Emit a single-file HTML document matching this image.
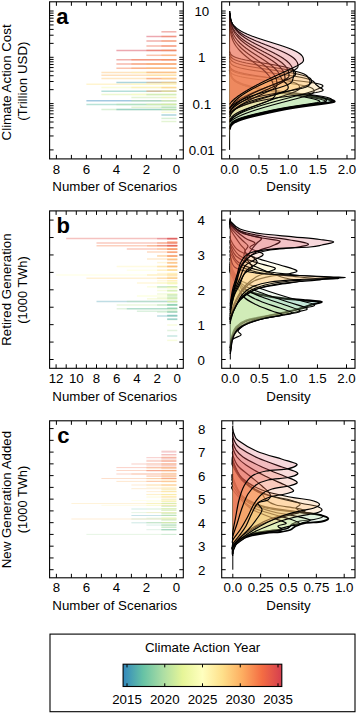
<!DOCTYPE html>
<html><head><meta charset="utf-8"><style>
html,body{margin:0;padding:0;background:#fff;}
svg{display:block;font-family:"Liberation Sans", sans-serif;}
</style></head><body>
<svg width="357" height="714" viewBox="0 0 357 714">
<rect width="357" height="714" fill="#fff"/>
<g id="density">
<line x1="229.60" y1="11.00" x2="229.60" y2="149.90" stroke="#000" stroke-width="1"/>
<path d="M229.60,11.00 L229.8,69.5 L229.9,70.0 L229.9,70.5 L230.0,71.0 L230.0,71.5 L230.1,72.0 L230.2,72.5 L230.3,73.0 L230.4,73.5 L230.5,74.0 L230.6,74.5 L230.8,75.0 L231.0,75.5 L231.2,76.0 L231.4,76.5 L231.7,77.0 L232.0,77.5 L232.4,78.0 L232.8,78.5 L233.2,79.0 L233.7,79.5 L234.3,80.0 L235.0,80.5 L235.7,81.0 L236.5,81.5 L237.4,82.0 L238.4,82.5 L239.4,83.0 L240.6,83.5 L241.9,84.0 L243.3,84.5 L244.9,85.0 L246.6,85.5 L248.4,86.0 L250.3,86.5 L252.4,87.0 L254.7,87.5 L257.1,88.0 L259.6,88.5 L262.3,89.0 L265.1,89.5 L268.0,90.0 L271.1,90.5 L274.3,91.0 L277.6,91.5 L281.0,92.0 L284.5,92.5 L288.0,93.0 L291.6,93.5 L295.3,94.0 L298.9,94.5 L302.5,95.0 L306.1,95.5 L309.6,96.0 L313.0,96.5 L316.3,97.0 L319.4,97.5 L322.4,98.0 L325.1,98.5 L327.6,99.0 L329.8,99.5 L331.6,100.0 L333.1,100.5 L334.1,101.0 L334.6,101.5 L333.5,102.0 L331.2,102.5 L328.3,103.0 L324.9,103.5 L321.2,104.0 L317.4,104.5 L313.6,105.0 L309.7,105.5 L306.0,106.0 L302.4,106.5 L298.9,107.0 L295.7,107.5 L292.5,108.0 L289.6,108.5 L286.7,109.0 L284.0,109.5 L281.5,110.0 L279.0,110.5 L276.6,111.0 L274.2,111.5 L271.9,112.0 L269.6,112.5 L267.3,113.0 L265.1,113.5 L262.9,114.0 L260.7,114.5 L258.5,115.0 L256.4,115.5 L254.3,116.0 L252.2,116.5 L250.3,117.0 L248.3,117.5 L246.5,118.0 L244.8,118.5 L243.1,119.0 L241.6,119.5 L240.1,120.0 L238.8,120.5 L237.6,121.0 L236.5,121.5 L235.5,122.0 L234.6,122.5 L233.8,123.0 L233.1,123.5 L232.5,124.0 L232.0,124.5 L231.5,125.0 L231.1,125.5 L230.8,126.0 L230.6,126.5 L230.4,127.0 L230.2,127.5 L230.1,128.0 L229.9,128.5 L229.9,129.0 L229.8,129.5 L229.60,149.90 Z" fill="#64c0a6" fill-opacity="0.15" stroke="none"/>
<path d="M229.8,69.5 L229.9,70.0 L229.9,70.5 L230.0,71.0 L230.0,71.5 L230.1,72.0 L230.2,72.5 L230.3,73.0 L230.4,73.5 L230.5,74.0 L230.6,74.5 L230.8,75.0 L231.0,75.5 L231.2,76.0 L231.4,76.5 L231.7,77.0 L232.0,77.5 L232.4,78.0 L232.8,78.5 L233.2,79.0 L233.7,79.5 L234.3,80.0 L235.0,80.5 L235.7,81.0 L236.5,81.5 L237.4,82.0 L238.4,82.5 L239.4,83.0 L240.6,83.5 L241.9,84.0 L243.3,84.5 L244.9,85.0 L246.6,85.5 L248.4,86.0 L250.3,86.5 L252.4,87.0 L254.7,87.5 L257.1,88.0 L259.6,88.5 L262.3,89.0 L265.1,89.5 L268.0,90.0 L271.1,90.5 L274.3,91.0 L277.6,91.5 L281.0,92.0 L284.5,92.5 L288.0,93.0 L291.6,93.5 L295.3,94.0 L298.9,94.5 L302.5,95.0 L306.1,95.5 L309.6,96.0 L313.0,96.5 L316.3,97.0 L319.4,97.5 L322.4,98.0 L325.1,98.5 L327.6,99.0 L329.8,99.5 L331.6,100.0 L333.1,100.5 L334.1,101.0 L334.6,101.5 L333.5,102.0 L331.2,102.5 L328.3,103.0 L324.9,103.5 L321.2,104.0 L317.4,104.5 L313.6,105.0 L309.7,105.5 L306.0,106.0 L302.4,106.5 L298.9,107.0 L295.7,107.5 L292.5,108.0 L289.6,108.5 L286.7,109.0 L284.0,109.5 L281.5,110.0 L279.0,110.5 L276.6,111.0 L274.2,111.5 L271.9,112.0 L269.6,112.5 L267.3,113.0 L265.1,113.5 L262.9,114.0 L260.7,114.5 L258.5,115.0 L256.4,115.5 L254.3,116.0 L252.2,116.5 L250.3,117.0 L248.3,117.5 L246.5,118.0 L244.8,118.5 L243.1,119.0 L241.6,119.5 L240.1,120.0 L238.8,120.5 L237.6,121.0 L236.5,121.5 L235.5,122.0 L234.6,122.5 L233.8,123.0 L233.1,123.5 L232.5,124.0 L232.0,124.5 L231.5,125.0 L231.1,125.5 L230.8,126.0 L230.6,126.5 L230.4,127.0 L230.2,127.5 L230.1,128.0 L229.9,128.5 L229.9,129.0 L229.8,129.5" fill="none" stroke="#000" stroke-width="2.0" stroke-linejoin="round"/>
<path d="M229.60,11.00 L229.8,69.5 L229.9,70.0 L229.9,70.5 L229.9,71.0 L230.0,71.5 L230.1,72.0 L230.1,72.5 L230.2,73.0 L230.3,73.5 L230.5,74.0 L230.6,74.5 L230.8,75.0 L230.9,75.5 L231.1,76.0 L231.4,76.5 L231.6,77.0 L232.0,77.5 L232.3,78.0 L232.7,78.5 L233.1,79.0 L233.6,79.5 L234.2,80.0 L234.8,80.5 L235.5,81.0 L236.3,81.5 L237.2,82.0 L238.1,82.5 L239.2,83.0 L240.3,83.5 L241.6,84.0 L243.0,84.5 L244.5,85.0 L246.1,85.5 L247.9,86.0 L249.8,86.5 L251.8,87.0 L254.0,87.5 L256.3,88.0 L258.7,88.5 L261.3,89.0 L264.1,89.5 L266.9,90.0 L269.9,90.5 L273.0,91.0 L276.3,91.5 L279.6,92.0 L282.9,92.5 L286.4,93.0 L289.9,93.5 L293.4,94.0 L297.0,94.5 L300.5,95.0 L304.0,95.5 L307.4,96.0 L310.7,96.5 L313.9,97.0 L316.9,97.5 L319.8,98.0 L322.4,98.5 L324.8,99.0 L327.0,99.5 L328.8,100.0 L330.2,100.5 L331.2,101.0 L331.7,101.5 L330.5,102.0 L328.4,102.5 L325.5,103.0 L322.2,103.5 L318.7,104.0 L314.9,104.5 L311.2,105.0 L307.5,105.5 L303.8,106.0 L300.3,106.5 L296.9,107.0 L293.7,107.5 L290.6,108.0 L287.7,108.5 L284.9,109.0 L282.3,109.5 L279.7,110.0 L277.2,110.5 L274.8,111.0 L272.5,111.5 L270.2,112.0 L267.9,112.5 L265.7,113.0 L263.5,113.5 L261.3,114.0 L259.1,114.5 L257.0,115.0 L254.9,115.5 L252.8,116.0 L250.8,116.5 L248.9,117.0 L247.0,117.5 L245.2,118.0 L243.6,118.5 L242.0,119.0 L240.5,119.5 L239.1,120.0 L237.9,120.5 L236.7,121.0 L235.7,121.5 L234.8,122.0 L234.0,122.5 L233.2,123.0 L232.6,123.5 L232.1,124.0 L231.6,124.5 L231.2,125.0 L230.9,125.5 L230.6,126.0 L230.4,126.5 L230.2,127.0 L230.1,127.5 L230.0,128.0 L229.9,128.5 L229.8,129.0 L229.60,149.90 Z" fill="#80cca5" fill-opacity="0.15" stroke="none"/>
<path d="M229.8,69.5 L229.9,70.0 L229.9,70.5 L229.9,71.0 L230.0,71.5 L230.1,72.0 L230.1,72.5 L230.2,73.0 L230.3,73.5 L230.5,74.0 L230.6,74.5 L230.8,75.0 L230.9,75.5 L231.1,76.0 L231.4,76.5 L231.6,77.0 L232.0,77.5 L232.3,78.0 L232.7,78.5 L233.1,79.0 L233.6,79.5 L234.2,80.0 L234.8,80.5 L235.5,81.0 L236.3,81.5 L237.2,82.0 L238.1,82.5 L239.2,83.0 L240.3,83.5 L241.6,84.0 L243.0,84.5 L244.5,85.0 L246.1,85.5 L247.9,86.0 L249.8,86.5 L251.8,87.0 L254.0,87.5 L256.3,88.0 L258.7,88.5 L261.3,89.0 L264.1,89.5 L266.9,90.0 L269.9,90.5 L273.0,91.0 L276.3,91.5 L279.6,92.0 L282.9,92.5 L286.4,93.0 L289.9,93.5 L293.4,94.0 L297.0,94.5 L300.5,95.0 L304.0,95.5 L307.4,96.0 L310.7,96.5 L313.9,97.0 L316.9,97.5 L319.8,98.0 L322.4,98.5 L324.8,99.0 L327.0,99.5 L328.8,100.0 L330.2,100.5 L331.2,101.0 L331.7,101.5 L330.5,102.0 L328.4,102.5 L325.5,103.0 L322.2,103.5 L318.7,104.0 L314.9,104.5 L311.2,105.0 L307.5,105.5 L303.8,106.0 L300.3,106.5 L296.9,107.0 L293.7,107.5 L290.6,108.0 L287.7,108.5 L284.9,109.0 L282.3,109.5 L279.7,110.0 L277.2,110.5 L274.8,111.0 L272.5,111.5 L270.2,112.0 L267.9,112.5 L265.7,113.0 L263.5,113.5 L261.3,114.0 L259.1,114.5 L257.0,115.0 L254.9,115.5 L252.8,116.0 L250.8,116.5 L248.9,117.0 L247.0,117.5 L245.2,118.0 L243.6,118.5 L242.0,119.0 L240.5,119.5 L239.1,120.0 L237.9,120.5 L236.7,121.0 L235.7,121.5 L234.8,122.0 L234.0,122.5 L233.2,123.0 L232.6,123.5 L232.1,124.0 L231.6,124.5 L231.2,125.0 L230.9,125.5 L230.6,126.0 L230.4,126.5 L230.2,127.0 L230.1,127.5 L230.0,128.0 L229.9,128.5 L229.8,129.0" fill="none" stroke="#000" stroke-width="1.15" stroke-linejoin="round"/>
<path d="M229.60,11.00 L229.8,70.0 L229.9,70.5 L229.9,71.0 L230.0,71.5 L230.1,72.0 L230.1,72.5 L230.2,73.0 L230.3,73.5 L230.4,74.0 L230.6,74.5 L230.7,75.0 L230.9,75.5 L231.1,76.0 L231.3,76.5 L231.6,77.0 L231.9,77.5 L232.2,78.0 L232.6,78.5 L233.0,79.0 L233.5,79.5 L234.1,80.0 L234.7,80.5 L235.4,81.0 L236.1,81.5 L237.0,82.0 L237.9,82.5 L239.0,83.0 L240.1,83.5 L241.4,84.0 L242.8,84.5 L244.4,85.0 L246.1,85.5 L248.0,86.0 L250.1,86.5 L252.3,87.0 L254.8,87.5 L257.6,88.0 L260.5,88.5 L263.7,89.0 L267.1,89.5 L270.7,90.0 L274.6,90.5 L278.7,91.0 L282.9,91.5 L287.2,92.0 L291.6,92.5 L296.1,93.0 L300.5,93.5 L304.8,94.0 L309.0,94.5 L313.0,95.0 L316.7,95.5 L320.1,96.0 L323.1,96.5 L325.6,97.0 L327.6,97.5 L329.2,98.0 L330.4,98.5 L331.2,99.0 L331.8,99.5 L332.1,100.0 L332.2,100.5 L332.0,101.0 L331.5,101.5 L329.7,102.0 L326.9,102.5 L323.7,103.0 L320.2,103.5 L316.5,104.0 L312.7,104.5 L309.0,105.0 L305.3,105.5 L301.7,106.0 L298.2,106.5 L294.9,107.0 L291.7,107.5 L288.7,108.0 L285.9,108.5 L283.1,109.0 L280.5,109.5 L278.0,110.0 L275.5,110.5 L273.1,111.0 L270.8,111.5 L268.5,112.0 L266.3,112.5 L264.1,113.0 L261.9,113.5 L259.7,114.0 L257.5,114.5 L255.4,115.0 L253.4,115.5 L251.4,116.0 L249.4,116.5 L247.5,117.0 L245.7,117.5 L244.0,118.0 L242.4,118.5 L240.9,119.0 L239.5,119.5 L238.2,120.0 L237.0,120.5 L236.0,121.0 L235.0,121.5 L234.1,122.0 L233.4,122.5 L232.7,123.0 L232.2,123.5 L231.7,124.0 L231.3,124.5 L230.9,125.0 L230.7,125.5 L230.4,126.0 L230.2,126.5 L230.1,127.0 L230.0,127.5 L229.9,128.0 L229.8,128.5 L229.60,149.90 Z" fill="#9dd7a4" fill-opacity="0.15" stroke="none"/>
<path d="M229.8,70.0 L229.9,70.5 L229.9,71.0 L230.0,71.5 L230.1,72.0 L230.1,72.5 L230.2,73.0 L230.3,73.5 L230.4,74.0 L230.6,74.5 L230.7,75.0 L230.9,75.5 L231.1,76.0 L231.3,76.5 L231.6,77.0 L231.9,77.5 L232.2,78.0 L232.6,78.5 L233.0,79.0 L233.5,79.5 L234.1,80.0 L234.7,80.5 L235.4,81.0 L236.1,81.5 L237.0,82.0 L237.9,82.5 L239.0,83.0 L240.1,83.5 L241.4,84.0 L242.8,84.5 L244.4,85.0 L246.1,85.5 L248.0,86.0 L250.1,86.5 L252.3,87.0 L254.8,87.5 L257.6,88.0 L260.5,88.5 L263.7,89.0 L267.1,89.5 L270.7,90.0 L274.6,90.5 L278.7,91.0 L282.9,91.5 L287.2,92.0 L291.6,92.5 L296.1,93.0 L300.5,93.5 L304.8,94.0 L309.0,94.5 L313.0,95.0 L316.7,95.5 L320.1,96.0 L323.1,96.5 L325.6,97.0 L327.6,97.5 L329.2,98.0 L330.4,98.5 L331.2,99.0 L331.8,99.5 L332.1,100.0 L332.2,100.5 L332.0,101.0 L331.5,101.5 L329.7,102.0 L326.9,102.5 L323.7,103.0 L320.2,103.5 L316.5,104.0 L312.7,104.5 L309.0,105.0 L305.3,105.5 L301.7,106.0 L298.2,106.5 L294.9,107.0 L291.7,107.5 L288.7,108.0 L285.9,108.5 L283.1,109.0 L280.5,109.5 L278.0,110.0 L275.5,110.5 L273.1,111.0 L270.8,111.5 L268.5,112.0 L266.3,112.5 L264.1,113.0 L261.9,113.5 L259.7,114.0 L257.5,114.5 L255.4,115.0 L253.4,115.5 L251.4,116.0 L249.4,116.5 L247.5,117.0 L245.7,117.5 L244.0,118.0 L242.4,118.5 L240.9,119.0 L239.5,119.5 L238.2,120.0 L237.0,120.5 L236.0,121.0 L235.0,121.5 L234.1,122.0 L233.4,122.5 L232.7,123.0 L232.2,123.5 L231.7,124.0 L231.3,124.5 L230.9,125.0 L230.7,125.5 L230.4,126.0 L230.2,126.5 L230.1,127.0 L230.0,127.5 L229.9,128.0 L229.8,128.5" fill="none" stroke="#000" stroke-width="1.15" stroke-linejoin="round"/>
<path d="M229.60,11.00 L229.8,70.0 L229.9,70.5 L229.9,71.0 L230.0,71.5 L230.0,72.0 L230.1,72.5 L230.2,73.0 L230.3,73.5 L230.4,74.0 L230.5,74.5 L230.7,75.0 L230.9,75.5 L231.1,76.0 L231.3,76.5 L231.5,77.0 L231.8,77.5 L232.1,78.0 L232.5,78.5 L232.9,79.0 L233.4,79.5 L233.9,80.0 L234.5,80.5 L235.2,81.0 L235.9,81.5 L236.7,82.0 L237.6,82.5 L238.6,83.0 L239.7,83.5 L240.9,84.0 L242.2,84.5 L243.6,85.0 L245.1,85.5 L246.8,86.0 L248.6,86.5 L250.5,87.0 L252.6,87.5 L254.8,88.0 L257.1,88.5 L259.5,89.0 L262.1,89.5 L264.8,90.0 L267.6,90.5 L270.5,91.0 L273.6,91.5 L276.7,92.0 L279.9,92.5 L283.1,93.0 L286.4,93.5 L289.7,94.0 L293.1,94.5 L296.4,95.0 L299.7,95.5 L302.9,96.0 L306.0,96.5 L309.0,97.0 L311.9,97.5 L314.6,98.0 L317.1,98.5 L319.4,99.0 L321.4,99.5 L323.0,100.0 L324.4,100.5 L325.3,101.0 L325.8,101.5 L324.7,102.0 L322.7,102.5 L320.0,103.0 L316.9,103.5 L313.5,104.0 L310.0,104.5 L306.4,105.0 L302.9,105.5 L299.4,106.0 L296.1,106.5 L292.8,107.0 L289.8,107.5 L286.8,108.0 L284.0,108.5 L281.3,109.0 L278.7,109.5 L276.2,110.0 L273.8,110.5 L271.4,111.0 L269.1,111.5 L266.9,112.0 L264.6,112.5 L262.4,113.0 L260.3,113.5 L258.1,114.0 L256.0,114.5 L253.9,115.0 L251.9,115.5 L250.0,116.0 L248.1,116.5 L246.2,117.0 L244.5,117.5 L242.8,118.0 L241.3,118.5 L239.9,119.0 L238.5,119.5 L237.3,120.0 L236.2,120.5 L235.2,121.0 L234.3,121.5 L233.6,122.0 L232.9,122.5 L232.3,123.0 L231.8,123.5 L231.4,124.0 L231.0,124.5 L230.7,125.0 L230.5,125.5 L230.3,126.0 L230.1,126.5 L230.0,127.0 L229.9,127.5 L229.8,128.0 L229.60,149.90 Z" fill="#b7e2a2" fill-opacity="0.15" stroke="none"/>
<path d="M229.8,70.0 L229.9,70.5 L229.9,71.0 L230.0,71.5 L230.0,72.0 L230.1,72.5 L230.2,73.0 L230.3,73.5 L230.4,74.0 L230.5,74.5 L230.7,75.0 L230.9,75.5 L231.1,76.0 L231.3,76.5 L231.5,77.0 L231.8,77.5 L232.1,78.0 L232.5,78.5 L232.9,79.0 L233.4,79.5 L233.9,80.0 L234.5,80.5 L235.2,81.0 L235.9,81.5 L236.7,82.0 L237.6,82.5 L238.6,83.0 L239.7,83.5 L240.9,84.0 L242.2,84.5 L243.6,85.0 L245.1,85.5 L246.8,86.0 L248.6,86.5 L250.5,87.0 L252.6,87.5 L254.8,88.0 L257.1,88.5 L259.5,89.0 L262.1,89.5 L264.8,90.0 L267.6,90.5 L270.5,91.0 L273.6,91.5 L276.7,92.0 L279.9,92.5 L283.1,93.0 L286.4,93.5 L289.7,94.0 L293.1,94.5 L296.4,95.0 L299.7,95.5 L302.9,96.0 L306.0,96.5 L309.0,97.0 L311.9,97.5 L314.6,98.0 L317.1,98.5 L319.4,99.0 L321.4,99.5 L323.0,100.0 L324.4,100.5 L325.3,101.0 L325.8,101.5 L324.7,102.0 L322.7,102.5 L320.0,103.0 L316.9,103.5 L313.5,104.0 L310.0,104.5 L306.4,105.0 L302.9,105.5 L299.4,106.0 L296.1,106.5 L292.8,107.0 L289.8,107.5 L286.8,108.0 L284.0,108.5 L281.3,109.0 L278.7,109.5 L276.2,110.0 L273.8,110.5 L271.4,111.0 L269.1,111.5 L266.9,112.0 L264.6,112.5 L262.4,113.0 L260.3,113.5 L258.1,114.0 L256.0,114.5 L253.9,115.0 L251.9,115.5 L250.0,116.0 L248.1,116.5 L246.2,117.0 L244.5,117.5 L242.8,118.0 L241.3,118.5 L239.9,119.0 L238.5,119.5 L237.3,120.0 L236.2,120.5 L235.2,121.0 L234.3,121.5 L233.6,122.0 L232.9,122.5 L232.3,123.0 L231.8,123.5 L231.4,124.0 L231.0,124.5 L230.7,125.0 L230.5,125.5 L230.3,126.0 L230.1,126.5 L230.0,127.0 L229.9,127.5 L229.8,128.0" fill="none" stroke="#000" stroke-width="1.15" stroke-linejoin="round"/>
<path d="M229.60,11.00 L229.8,70.0 L229.9,70.5 L229.9,71.0 L230.0,71.5 L230.0,72.0 L230.1,72.5 L230.2,73.0 L230.3,73.5 L230.4,74.0 L230.5,74.5 L230.7,75.0 L230.8,75.5 L231.0,76.0 L231.2,76.5 L231.5,77.0 L231.7,77.5 L232.1,78.0 L232.4,78.5 L232.8,79.0 L233.3,79.5 L233.8,80.0 L234.4,80.5 L235.0,81.0 L235.7,81.5 L236.5,82.0 L237.4,82.5 L238.4,83.0 L239.5,83.5 L240.7,84.0 L242.0,84.5 L243.5,85.0 L245.2,85.5 L246.9,86.0 L248.9,86.5 L251.1,87.0 L253.4,87.5 L256.0,88.0 L258.8,88.5 L261.8,89.0 L265.1,89.5 L268.6,90.0 L272.3,90.5 L276.2,91.0 L280.2,91.5 L284.3,92.0 L288.6,92.5 L292.8,93.0 L297.0,93.5 L301.1,94.0 L305.1,94.5 L308.9,95.0 L312.4,95.5 L315.6,96.0 L318.5,96.5 L320.8,97.0 L322.6,97.5 L324.0,98.0 L325.0,98.5 L325.7,99.0 L326.1,99.5 L326.4,100.0 L326.4,100.5 L326.2,101.0 L325.6,101.5 L323.9,102.0 L321.3,102.5 L318.2,103.0 L314.9,103.5 L311.4,104.0 L307.8,104.5 L304.2,105.0 L300.7,105.5 L297.3,106.0 L294.0,106.5 L290.8,107.0 L287.8,107.5 L284.9,108.0 L282.1,108.5 L279.5,109.0 L276.9,109.5 L274.5,110.0 L272.1,110.5 L269.8,111.0 L267.5,111.5 L265.2,112.0 L263.0,112.5 L260.8,113.0 L258.7,113.5 L256.6,114.0 L254.5,114.5 L252.5,115.0 L250.5,115.5 L248.6,116.0 L246.7,116.5 L245.0,117.0 L243.3,117.5 L241.7,118.0 L240.2,118.5 L238.9,119.0 L237.6,119.5 L236.5,120.0 L235.5,120.5 L234.5,121.0 L233.7,121.5 L233.0,122.0 L232.4,122.5 L231.9,123.0 L231.4,123.5 L231.1,124.0 L230.8,124.5 L230.5,125.0 L230.3,125.5 L230.1,126.0 L230.0,126.5 L229.9,127.0 L229.8,127.5 L229.60,149.90 Z" fill="#d0ec9d" fill-opacity="0.15" stroke="none"/>
<path d="M229.8,70.0 L229.9,70.5 L229.9,71.0 L230.0,71.5 L230.0,72.0 L230.1,72.5 L230.2,73.0 L230.3,73.5 L230.4,74.0 L230.5,74.5 L230.7,75.0 L230.8,75.5 L231.0,76.0 L231.2,76.5 L231.5,77.0 L231.7,77.5 L232.1,78.0 L232.4,78.5 L232.8,79.0 L233.3,79.5 L233.8,80.0 L234.4,80.5 L235.0,81.0 L235.7,81.5 L236.5,82.0 L237.4,82.5 L238.4,83.0 L239.5,83.5 L240.7,84.0 L242.0,84.5 L243.5,85.0 L245.2,85.5 L246.9,86.0 L248.9,86.5 L251.1,87.0 L253.4,87.5 L256.0,88.0 L258.8,88.5 L261.8,89.0 L265.1,89.5 L268.6,90.0 L272.3,90.5 L276.2,91.0 L280.2,91.5 L284.3,92.0 L288.6,92.5 L292.8,93.0 L297.0,93.5 L301.1,94.0 L305.1,94.5 L308.9,95.0 L312.4,95.5 L315.6,96.0 L318.5,96.5 L320.8,97.0 L322.6,97.5 L324.0,98.0 L325.0,98.5 L325.7,99.0 L326.1,99.5 L326.4,100.0 L326.4,100.5 L326.2,101.0 L325.6,101.5 L323.9,102.0 L321.3,102.5 L318.2,103.0 L314.9,103.5 L311.4,104.0 L307.8,104.5 L304.2,105.0 L300.7,105.5 L297.3,106.0 L294.0,106.5 L290.8,107.0 L287.8,107.5 L284.9,108.0 L282.1,108.5 L279.5,109.0 L276.9,109.5 L274.5,110.0 L272.1,110.5 L269.8,111.0 L267.5,111.5 L265.2,112.0 L263.0,112.5 L260.8,113.0 L258.7,113.5 L256.6,114.0 L254.5,114.5 L252.5,115.0 L250.5,115.5 L248.6,116.0 L246.7,116.5 L245.0,117.0 L243.3,117.5 L241.7,118.0 L240.2,118.5 L238.9,119.0 L237.6,119.5 L236.5,120.0 L235.5,120.5 L234.5,121.0 L233.7,121.5 L233.0,122.0 L232.4,122.5 L231.9,123.0 L231.4,123.5 L231.1,124.0 L230.8,124.5 L230.5,125.0 L230.3,125.5 L230.1,126.0 L230.0,126.5 L229.9,127.0 L229.8,127.5" fill="none" stroke="#000" stroke-width="1.15" stroke-linejoin="round"/>
<path d="M229.60,11.00 L229.8,70.0 L229.9,70.5 L229.9,71.0 L230.0,71.5 L230.0,72.0 L230.1,72.5 L230.2,73.0 L230.3,73.5 L230.4,74.0 L230.5,74.5 L230.6,75.0 L230.8,75.5 L231.0,76.0 L231.2,76.5 L231.4,77.0 L231.7,77.5 L232.0,78.0 L232.3,78.5 L232.7,79.0 L233.2,79.5 L233.7,80.0 L234.2,80.5 L234.8,81.0 L235.5,81.5 L236.3,82.0 L237.1,82.5 L238.1,83.0 L239.1,83.5 L240.2,84.0 L241.4,84.5 L242.8,85.0 L244.2,85.5 L245.8,86.0 L247.4,86.5 L249.2,87.0 L251.2,87.5 L253.2,88.0 L255.4,88.5 L257.7,89.0 L260.1,89.5 L262.6,90.0 L265.3,90.5 L268.0,91.0 L270.9,91.5 L273.8,92.0 L276.8,92.5 L279.9,93.0 L282.9,93.5 L286.1,94.0 L289.2,94.5 L292.3,95.0 L295.4,95.5 L298.4,96.0 L301.3,96.5 L304.2,97.0 L306.9,97.5 L309.4,98.0 L311.7,98.5 L313.9,99.0 L315.7,99.5 L317.3,100.0 L318.6,100.5 L319.5,101.0 L319.9,101.5 L318.9,102.0 L317.0,102.5 L314.4,103.0 L311.5,103.5 L308.4,104.0 L305.0,104.5 L301.7,105.0 L298.3,105.5 L295.1,106.0 L291.9,106.5 L288.8,107.0 L285.8,107.5 L283.0,108.0 L280.3,108.5 L277.7,109.0 L275.2,109.5 L272.7,110.0 L270.4,110.5 L268.1,111.0 L265.8,111.5 L263.6,112.0 L261.4,112.5 L259.3,113.0 L257.1,113.5 L255.0,114.0 L253.0,114.5 L251.0,115.0 L249.1,115.5 L247.2,116.0 L245.4,116.5 L243.7,117.0 L242.1,117.5 L240.6,118.0 L239.2,118.5 L237.9,119.0 L236.8,119.5 L235.7,120.0 L234.8,120.5 L233.9,121.0 L233.2,121.5 L232.5,122.0 L232.0,122.5 L231.5,123.0 L231.1,123.5 L230.8,124.0 L230.6,124.5 L230.3,125.0 L230.2,125.5 L230.0,126.0 L229.9,126.5 L229.8,127.0 L229.60,149.90 Z" fill="#e7f59a" fill-opacity="0.15" stroke="none"/>
<path d="M229.8,70.0 L229.9,70.5 L229.9,71.0 L230.0,71.5 L230.0,72.0 L230.1,72.5 L230.2,73.0 L230.3,73.5 L230.4,74.0 L230.5,74.5 L230.6,75.0 L230.8,75.5 L231.0,76.0 L231.2,76.5 L231.4,77.0 L231.7,77.5 L232.0,78.0 L232.3,78.5 L232.7,79.0 L233.2,79.5 L233.7,80.0 L234.2,80.5 L234.8,81.0 L235.5,81.5 L236.3,82.0 L237.1,82.5 L238.1,83.0 L239.1,83.5 L240.2,84.0 L241.4,84.5 L242.8,85.0 L244.2,85.5 L245.8,86.0 L247.4,86.5 L249.2,87.0 L251.2,87.5 L253.2,88.0 L255.4,88.5 L257.7,89.0 L260.1,89.5 L262.6,90.0 L265.3,90.5 L268.0,91.0 L270.9,91.5 L273.8,92.0 L276.8,92.5 L279.9,93.0 L282.9,93.5 L286.1,94.0 L289.2,94.5 L292.3,95.0 L295.4,95.5 L298.4,96.0 L301.3,96.5 L304.2,97.0 L306.9,97.5 L309.4,98.0 L311.7,98.5 L313.9,99.0 L315.7,99.5 L317.3,100.0 L318.6,100.5 L319.5,101.0 L319.9,101.5 L318.9,102.0 L317.0,102.5 L314.4,103.0 L311.5,103.5 L308.4,104.0 L305.0,104.5 L301.7,105.0 L298.3,105.5 L295.1,106.0 L291.9,106.5 L288.8,107.0 L285.8,107.5 L283.0,108.0 L280.3,108.5 L277.7,109.0 L275.2,109.5 L272.7,110.0 L270.4,110.5 L268.1,111.0 L265.8,111.5 L263.6,112.0 L261.4,112.5 L259.3,113.0 L257.1,113.5 L255.0,114.0 L253.0,114.5 L251.0,115.0 L249.1,115.5 L247.2,116.0 L245.4,116.5 L243.7,117.0 L242.1,117.5 L240.6,118.0 L239.2,118.5 L237.9,119.0 L236.8,119.5 L235.7,120.0 L234.8,120.5 L233.9,121.0 L233.2,121.5 L232.5,122.0 L232.0,122.5 L231.5,123.0 L231.1,123.5 L230.8,124.0 L230.6,124.5 L230.3,125.0 L230.2,125.5 L230.0,126.0 L229.9,126.5 L229.8,127.0" fill="none" stroke="#000" stroke-width="1.15" stroke-linejoin="round"/>
<path d="M229.60,11.00 L229.8,70.0 L229.9,70.5 L230.0,71.0 L230.2,71.5 L230.4,72.0 L230.8,72.5 L231.2,73.0 L231.8,73.5 L232.6,74.0 L233.6,74.5 L234.7,75.0 L236.2,75.5 L237.9,76.0 L239.9,76.5 L242.2,77.0 L244.8,77.5 L247.7,78.0 L250.9,78.5 L254.4,79.0 L258.2,79.5 L262.1,80.0 L266.2,80.5 L270.3,81.0 L274.5,81.5 L278.7,82.0 L282.8,82.5 L286.8,83.0 L290.6,83.5 L294.1,84.0 L297.4,84.5 L300.4,85.0 L303.1,85.5 L305.4,86.0 L307.4,86.5 L309.1,87.0 L310.5,87.5 L311.6,88.0 L312.5,88.5 L313.1,89.0 L313.5,89.5 L313.8,90.0 L313.9,90.5 L314.0,91.0 L314.0,91.5 L313.9,92.0 L313.6,92.5 L313.0,93.0 L312.3,93.5 L311.3,94.0 L310.1,94.5 L308.8,95.0 L307.4,95.5 L305.9,96.0 L304.2,96.5 L302.5,97.0 L300.7,97.5 L298.9,98.0 L297.1,98.5 L295.2,99.0 L293.3,99.5 L291.4,100.0 L289.5,100.5 L287.6,101.0 L285.7,101.5 L283.8,102.0 L281.8,102.5 L280.0,103.0 L278.1,103.5 L276.2,104.0 L274.4,104.5 L272.5,105.0 L270.7,105.5 L268.9,106.0 L267.2,106.5 L265.4,107.0 L263.7,107.5 L262.0,108.0 L260.4,108.5 L258.8,109.0 L257.2,109.5 L255.6,110.0 L254.1,110.5 L252.6,111.0 L251.1,111.5 L249.7,112.0 L248.3,112.5 L246.9,113.0 L245.6,113.5 L244.3,114.0 L243.0,114.5 L241.8,115.0 L240.7,115.5 L239.5,116.0 L238.5,116.5 L237.4,117.0 L236.5,117.5 L235.5,118.0 L234.6,118.5 L233.8,119.0 L233.0,119.5 L232.3,120.0 L231.7,120.5 L231.1,121.0 L230.6,121.5 L230.2,122.0 L229.8,122.5 L229.60,149.90 Z" fill="#ffffbf" fill-opacity="0.2" stroke="none"/>
<path d="M229.8,70.0 L229.9,70.5 L230.0,71.0 L230.2,71.5 L230.4,72.0 L230.8,72.5 L231.2,73.0 L231.8,73.5 L232.6,74.0 L233.6,74.5 L234.7,75.0 L236.2,75.5 L237.9,76.0 L239.9,76.5 L242.2,77.0 L244.8,77.5 L247.7,78.0 L250.9,78.5 L254.4,79.0 L258.2,79.5 L262.1,80.0 L266.2,80.5 L270.3,81.0 L274.5,81.5 L278.7,82.0 L282.8,82.5 L286.8,83.0 L290.6,83.5 L294.1,84.0 L297.4,84.5 L300.4,85.0 L303.1,85.5 L305.4,86.0 L307.4,86.5 L309.1,87.0 L310.5,87.5 L311.6,88.0 L312.5,88.5 L313.1,89.0 L313.5,89.5 L313.8,90.0 L313.9,90.5 L314.0,91.0 L314.0,91.5 L313.9,92.0 L313.6,92.5 L313.0,93.0 L312.3,93.5 L311.3,94.0 L310.1,94.5 L308.8,95.0 L307.4,95.5 L305.9,96.0 L304.2,96.5 L302.5,97.0 L300.7,97.5 L298.9,98.0 L297.1,98.5 L295.2,99.0 L293.3,99.5 L291.4,100.0 L289.5,100.5 L287.6,101.0 L285.7,101.5 L283.8,102.0 L281.8,102.5 L280.0,103.0 L278.1,103.5 L276.2,104.0 L274.4,104.5 L272.5,105.0 L270.7,105.5 L268.9,106.0 L267.2,106.5 L265.4,107.0 L263.7,107.5 L262.0,108.0 L260.4,108.5 L258.8,109.0 L257.2,109.5 L255.6,110.0 L254.1,110.5 L252.6,111.0 L251.1,111.5 L249.7,112.0 L248.3,112.5 L246.9,113.0 L245.6,113.5 L244.3,114.0 L243.0,114.5 L241.8,115.0 L240.7,115.5 L239.5,116.0 L238.5,116.5 L237.4,117.0 L236.5,117.5 L235.5,118.0 L234.6,118.5 L233.8,119.0 L233.0,119.5 L232.3,120.0 L231.7,120.5 L231.1,121.0 L230.6,121.5 L230.2,122.0 L229.8,122.5" fill="none" stroke="#000" stroke-width="1.15" stroke-linejoin="round"/>
<path d="M229.60,11.00 L229.8,67.0 L229.9,67.5 L230.0,68.0 L230.2,68.5 L230.5,69.0 L230.8,69.5 L231.3,70.0 L231.8,70.5 L232.5,71.0 L233.5,71.5 L234.6,72.0 L235.9,72.5 L237.6,73.0 L239.5,73.5 L241.7,74.0 L244.3,74.5 L247.2,75.0 L250.5,75.5 L254.1,76.0 L258.0,76.5 L262.1,77.0 L266.6,77.5 L271.2,78.0 L276.0,78.5 L280.8,79.0 L285.7,79.5 L290.5,80.0 L295.1,80.5 L299.6,81.0 L303.8,81.5 L307.7,82.0 L311.2,82.5 L314.3,83.0 L317.0,83.5 L319.2,84.0 L320.9,84.5 L322.1,85.0 L322.7,85.5 L322.9,86.0 L322.7,86.5 L322.1,87.0 L321.2,87.5 L320.2,88.0 L319.0,88.5 L317.8,89.0 L316.6,89.5 L315.4,90.0 L314.3,90.5 L313.0,91.0 L311.6,91.5 L310.1,92.0 L308.5,92.5 L306.8,93.0 L305.1,93.5 L303.3,94.0 L301.5,94.5 L299.7,95.0 L297.8,95.5 L295.9,96.0 L294.0,96.5 L292.1,97.0 L290.2,97.5 L288.3,98.0 L286.4,98.5 L284.5,99.0 L282.6,99.5 L280.7,100.0 L278.8,100.5 L276.9,101.0 L275.1,101.5 L273.3,102.0 L271.5,102.5 L269.7,103.0 L267.9,103.5 L266.2,104.0 L264.5,104.5 L262.8,105.0 L261.2,105.5 L259.6,106.0 L258.0,106.5 L256.5,107.0 L255.0,107.5 L253.5,108.0 L252.1,108.5 L250.7,109.0 L249.3,109.5 L248.0,110.0 L246.7,110.5 L245.5,111.0 L244.3,111.5 L243.1,112.0 L242.0,112.5 L241.0,113.0 L239.9,113.5 L238.9,114.0 L238.0,114.5 L237.1,115.0 L236.2,115.5 L235.4,116.0 L234.6,116.5 L233.9,117.0 L233.3,117.5 L232.6,118.0 L232.1,118.5 L231.6,119.0 L231.1,119.5 L230.7,120.0 L230.4,120.5 L230.1,121.0 L229.8,121.5 L229.60,149.90 Z" fill="#fff3aa" fill-opacity="0.2" stroke="none"/>
<path d="M229.8,67.0 L229.9,67.5 L230.0,68.0 L230.2,68.5 L230.5,69.0 L230.8,69.5 L231.3,70.0 L231.8,70.5 L232.5,71.0 L233.5,71.5 L234.6,72.0 L235.9,72.5 L237.6,73.0 L239.5,73.5 L241.7,74.0 L244.3,74.5 L247.2,75.0 L250.5,75.5 L254.1,76.0 L258.0,76.5 L262.1,77.0 L266.6,77.5 L271.2,78.0 L276.0,78.5 L280.8,79.0 L285.7,79.5 L290.5,80.0 L295.1,80.5 L299.6,81.0 L303.8,81.5 L307.7,82.0 L311.2,82.5 L314.3,83.0 L317.0,83.5 L319.2,84.0 L320.9,84.5 L322.1,85.0 L322.7,85.5 L322.9,86.0 L322.7,86.5 L322.1,87.0 L321.2,87.5 L320.2,88.0 L319.0,88.5 L317.8,89.0 L316.6,89.5 L315.4,90.0 L314.3,90.5 L313.0,91.0 L311.6,91.5 L310.1,92.0 L308.5,92.5 L306.8,93.0 L305.1,93.5 L303.3,94.0 L301.5,94.5 L299.7,95.0 L297.8,95.5 L295.9,96.0 L294.0,96.5 L292.1,97.0 L290.2,97.5 L288.3,98.0 L286.4,98.5 L284.5,99.0 L282.6,99.5 L280.7,100.0 L278.8,100.5 L276.9,101.0 L275.1,101.5 L273.3,102.0 L271.5,102.5 L269.7,103.0 L267.9,103.5 L266.2,104.0 L264.5,104.5 L262.8,105.0 L261.2,105.5 L259.6,106.0 L258.0,106.5 L256.5,107.0 L255.0,107.5 L253.5,108.0 L252.1,108.5 L250.7,109.0 L249.3,109.5 L248.0,110.0 L246.7,110.5 L245.5,111.0 L244.3,111.5 L243.1,112.0 L242.0,112.5 L241.0,113.0 L239.9,113.5 L238.9,114.0 L238.0,114.5 L237.1,115.0 L236.2,115.5 L235.4,116.0 L234.6,116.5 L233.9,117.0 L233.3,117.5 L232.6,118.0 L232.1,118.5 L231.6,119.0 L231.1,119.5 L230.7,120.0 L230.4,120.5 L230.1,121.0 L229.8,121.5" fill="none" stroke="#000" stroke-width="1.15" stroke-linejoin="round"/>
<path d="M229.60,11.00 L229.8,65.5 L229.9,66.0 L230.0,66.5 L230.2,67.0 L230.4,67.5 L230.7,68.0 L231.1,68.5 L231.6,69.0 L232.3,69.5 L233.1,70.0 L234.0,70.5 L235.2,71.0 L236.5,71.5 L238.1,72.0 L239.9,72.5 L241.9,73.0 L244.1,73.5 L246.6,74.0 L249.3,74.5 L252.2,75.0 L255.2,75.5 L258.3,76.0 L261.6,76.5 L264.9,77.0 L268.2,77.5 L271.4,78.0 L274.6,78.5 L277.7,79.0 L280.6,79.5 L283.4,80.0 L285.9,80.5 L288.3,81.0 L290.4,81.5 L292.2,82.0 L293.8,82.5 L295.2,83.0 L296.4,83.5 L297.3,84.0 L298.1,84.5 L298.6,85.0 L299.0,85.5 L299.3,86.0 L299.5,86.5 L299.6,87.0 L299.6,87.5 L299.6,88.0 L299.5,88.5 L299.2,89.0 L298.7,89.5 L298.1,90.0 L297.3,90.5 L296.3,91.0 L295.3,91.5 L294.1,92.0 L292.9,92.5 L291.6,93.0 L290.2,93.5 L288.8,94.0 L287.4,94.5 L285.9,95.0 L284.4,95.5 L282.9,96.0 L281.4,96.5 L279.9,97.0 L278.4,97.5 L276.9,98.0 L275.4,98.5 L273.9,99.0 L272.4,99.5 L270.9,100.0 L269.4,100.5 L268.0,101.0 L266.6,101.5 L265.1,102.0 L263.7,102.5 L262.3,103.0 L261.0,103.5 L259.6,104.0 L258.3,104.5 L257.0,105.0 L255.7,105.5 L254.5,106.0 L253.2,106.5 L252.0,107.0 L250.8,107.5 L249.7,108.0 L248.5,108.5 L247.4,109.0 L246.3,109.5 L245.3,110.0 L244.2,110.5 L243.2,111.0 L242.3,111.5 L241.3,112.0 L240.4,112.5 L239.5,113.0 L238.7,113.5 L237.8,114.0 L237.1,114.5 L236.3,115.0 L235.6,115.5 L234.9,116.0 L234.2,116.5 L233.6,117.0 L233.0,117.5 L232.5,118.0 L232.0,118.5 L231.5,119.0 L231.1,119.5 L230.7,120.0 L230.4,120.5 L230.1,121.0 L229.9,121.5 L229.7,122.0 L229.60,149.90 Z" fill="#fee695" fill-opacity="0.2" stroke="none"/>
<path d="M229.8,65.5 L229.9,66.0 L230.0,66.5 L230.2,67.0 L230.4,67.5 L230.7,68.0 L231.1,68.5 L231.6,69.0 L232.3,69.5 L233.1,70.0 L234.0,70.5 L235.2,71.0 L236.5,71.5 L238.1,72.0 L239.9,72.5 L241.9,73.0 L244.1,73.5 L246.6,74.0 L249.3,74.5 L252.2,75.0 L255.2,75.5 L258.3,76.0 L261.6,76.5 L264.9,77.0 L268.2,77.5 L271.4,78.0 L274.6,78.5 L277.7,79.0 L280.6,79.5 L283.4,80.0 L285.9,80.5 L288.3,81.0 L290.4,81.5 L292.2,82.0 L293.8,82.5 L295.2,83.0 L296.4,83.5 L297.3,84.0 L298.1,84.5 L298.6,85.0 L299.0,85.5 L299.3,86.0 L299.5,86.5 L299.6,87.0 L299.6,87.5 L299.6,88.0 L299.5,88.5 L299.2,89.0 L298.7,89.5 L298.1,90.0 L297.3,90.5 L296.3,91.0 L295.3,91.5 L294.1,92.0 L292.9,92.5 L291.6,93.0 L290.2,93.5 L288.8,94.0 L287.4,94.5 L285.9,95.0 L284.4,95.5 L282.9,96.0 L281.4,96.5 L279.9,97.0 L278.4,97.5 L276.9,98.0 L275.4,98.5 L273.9,99.0 L272.4,99.5 L270.9,100.0 L269.4,100.5 L268.0,101.0 L266.6,101.5 L265.1,102.0 L263.7,102.5 L262.3,103.0 L261.0,103.5 L259.6,104.0 L258.3,104.5 L257.0,105.0 L255.7,105.5 L254.5,106.0 L253.2,106.5 L252.0,107.0 L250.8,107.5 L249.7,108.0 L248.5,108.5 L247.4,109.0 L246.3,109.5 L245.3,110.0 L244.2,110.5 L243.2,111.0 L242.3,111.5 L241.3,112.0 L240.4,112.5 L239.5,113.0 L238.7,113.5 L237.8,114.0 L237.1,114.5 L236.3,115.0 L235.6,115.5 L234.9,116.0 L234.2,116.5 L233.6,117.0 L233.0,117.5 L232.5,118.0 L232.0,118.5 L231.5,119.0 L231.1,119.5 L230.7,120.0 L230.4,120.5 L230.1,121.0 L229.9,121.5 L229.7,122.0" fill="none" stroke="#000" stroke-width="1.15" stroke-linejoin="round"/>
<path d="M229.60,11.00 L229.8,61.0 L230.0,61.5 L230.1,62.0 L230.3,62.5 L230.6,63.0 L230.9,63.5 L231.3,64.0 L231.9,64.5 L232.6,65.0 L233.4,65.5 L234.4,66.0 L235.7,66.5 L237.1,67.0 L238.7,67.5 L240.6,68.0 L242.8,68.5 L245.2,69.0 L247.8,69.5 L250.7,70.0 L253.8,70.5 L257.2,71.0 L260.6,71.5 L264.2,72.0 L268.0,72.5 L271.7,73.0 L275.5,73.5 L279.3,74.0 L283.0,74.5 L286.6,75.0 L290.0,75.5 L293.3,76.0 L296.4,76.5 L299.2,77.0 L301.8,77.5 L304.1,78.0 L306.2,78.5 L308.0,79.0 L309.5,79.5 L310.8,80.0 L311.9,80.5 L312.8,81.0 L313.5,81.5 L314.0,82.0 L314.4,82.5 L314.8,83.0 L315.1,83.5 L315.5,84.0 L316.0,84.5 L316.6,85.0 L317.2,85.5 L317.8,86.0 L318.4,86.5 L319.0,87.0 L319.8,87.5 L320.6,88.0 L321.5,88.5 L322.3,89.0 L322.8,89.5 L323.1,90.0 L322.9,90.5 L322.1,91.0 L320.6,91.5 L318.5,92.0 L316.0,92.5 L313.0,93.0 L309.8,93.5 L306.2,94.0 L302.5,94.5 L298.6,95.0 L294.6,95.5 L290.6,96.0 L286.7,96.5 L282.9,97.0 L279.2,97.5 L275.8,98.0 L272.5,98.5 L269.4,99.0 L266.5,99.5 L263.9,100.0 L261.4,100.5 L259.1,101.0 L256.9,101.5 L254.9,102.0 L253.0,102.5 L251.2,103.0 L249.5,103.5 L247.9,104.0 L246.4,104.5 L244.9,105.0 L243.5,105.5 L242.2,106.0 L240.9,106.5 L239.7,107.0 L238.6,107.5 L237.5,108.0 L236.4,108.5 L235.5,109.0 L234.6,109.5 L233.7,110.0 L232.9,110.5 L232.2,111.0 L231.6,111.5 L231.0,112.0 L230.5,112.5 L230.1,113.0 L229.8,113.5 L229.60,149.90 Z" fill="#feca79" fill-opacity="0.22" stroke="none"/>
<path d="M229.8,61.0 L230.0,61.5 L230.1,62.0 L230.3,62.5 L230.6,63.0 L230.9,63.5 L231.3,64.0 L231.9,64.5 L232.6,65.0 L233.4,65.5 L234.4,66.0 L235.7,66.5 L237.1,67.0 L238.7,67.5 L240.6,68.0 L242.8,68.5 L245.2,69.0 L247.8,69.5 L250.7,70.0 L253.8,70.5 L257.2,71.0 L260.6,71.5 L264.2,72.0 L268.0,72.5 L271.7,73.0 L275.5,73.5 L279.3,74.0 L283.0,74.5 L286.6,75.0 L290.0,75.5 L293.3,76.0 L296.4,76.5 L299.2,77.0 L301.8,77.5 L304.1,78.0 L306.2,78.5 L308.0,79.0 L309.5,79.5 L310.8,80.0 L311.9,80.5 L312.8,81.0 L313.5,81.5 L314.0,82.0 L314.4,82.5 L314.8,83.0 L315.1,83.5 L315.5,84.0 L316.0,84.5 L316.6,85.0 L317.2,85.5 L317.8,86.0 L318.4,86.5 L319.0,87.0 L319.8,87.5 L320.6,88.0 L321.5,88.5 L322.3,89.0 L322.8,89.5 L323.1,90.0 L322.9,90.5 L322.1,91.0 L320.6,91.5 L318.5,92.0 L316.0,92.5 L313.0,93.0 L309.8,93.5 L306.2,94.0 L302.5,94.5 L298.6,95.0 L294.6,95.5 L290.6,96.0 L286.7,96.5 L282.9,97.0 L279.2,97.5 L275.8,98.0 L272.5,98.5 L269.4,99.0 L266.5,99.5 L263.9,100.0 L261.4,100.5 L259.1,101.0 L256.9,101.5 L254.9,102.0 L253.0,102.5 L251.2,103.0 L249.5,103.5 L247.9,104.0 L246.4,104.5 L244.9,105.0 L243.5,105.5 L242.2,106.0 L240.9,106.5 L239.7,107.0 L238.6,107.5 L237.5,108.0 L236.4,108.5 L235.5,109.0 L234.6,109.5 L233.7,110.0 L232.9,110.5 L232.2,111.0 L231.6,111.5 L231.0,112.0 L230.5,112.5 L230.1,113.0 L229.8,113.5" fill="none" stroke="#000" stroke-width="1.15" stroke-linejoin="round"/>
<path d="M229.60,11.00 L229.8,57.0 L229.9,57.5 L230.1,58.0 L230.2,58.5 L230.4,59.0 L230.7,59.5 L231.1,60.0 L231.6,60.5 L232.1,61.0 L232.8,61.5 L233.7,62.0 L234.7,62.5 L235.8,63.0 L237.2,63.5 L238.8,64.0 L240.6,64.5 L242.6,65.0 L244.8,65.5 L247.2,66.0 L249.8,66.5 L252.7,67.0 L255.7,67.5 L258.9,68.0 L262.1,68.5 L265.5,69.0 L269.0,69.5 L272.4,70.0 L275.9,70.5 L279.3,71.0 L282.7,71.5 L285.9,72.0 L289.0,72.5 L292.0,73.0 L294.7,73.5 L297.3,74.0 L299.6,74.5 L301.7,75.0 L303.6,75.5 L305.2,76.0 L306.6,76.5 L307.8,77.0 L308.8,77.5 L309.7,78.0 L310.3,78.5 L310.8,79.0 L311.1,79.5 L311.4,80.0 L311.5,80.5 L311.6,81.0 L311.6,81.5 L311.6,82.0 L311.5,82.5 L311.1,83.0 L310.6,83.5 L309.9,84.0 L308.9,84.5 L307.8,85.0 L306.6,85.5 L305.3,86.0 L303.9,86.5 L302.3,87.0 L300.8,87.5 L299.1,88.0 L297.5,88.5 L295.7,89.0 L294.0,89.5 L292.3,90.0 L290.5,90.5 L288.7,91.0 L286.9,91.5 L285.1,92.0 L283.3,92.5 L281.6,93.0 L279.8,93.5 L278.0,94.0 L276.2,94.5 L274.5,95.0 L272.8,95.5 L271.1,96.0 L269.4,96.5 L267.7,97.0 L266.0,97.5 L264.4,98.0 L262.7,98.5 L261.1,99.0 L259.6,99.5 L258.0,100.0 L256.5,100.5 L255.0,101.0 L253.5,101.5 L252.1,102.0 L250.6,102.5 L249.2,103.0 L247.9,103.5 L246.5,104.0 L245.3,104.5 L244.0,105.0 L242.8,105.5 L241.6,106.0 L240.4,106.5 L239.3,107.0 L238.2,107.5 L237.2,108.0 L236.2,108.5 L235.3,109.0 L234.4,109.5 L233.5,110.0 L232.7,110.5 L232.0,111.0 L231.4,111.5 L230.8,112.0 L230.3,112.5 L229.9,113.0 L229.6,113.5 L229.60,149.90 Z" fill="#fdc272" fill-opacity="0.22" stroke="none"/>
<path d="M229.8,57.0 L229.9,57.5 L230.1,58.0 L230.2,58.5 L230.4,59.0 L230.7,59.5 L231.1,60.0 L231.6,60.5 L232.1,61.0 L232.8,61.5 L233.7,62.0 L234.7,62.5 L235.8,63.0 L237.2,63.5 L238.8,64.0 L240.6,64.5 L242.6,65.0 L244.8,65.5 L247.2,66.0 L249.8,66.5 L252.7,67.0 L255.7,67.5 L258.9,68.0 L262.1,68.5 L265.5,69.0 L269.0,69.5 L272.4,70.0 L275.9,70.5 L279.3,71.0 L282.7,71.5 L285.9,72.0 L289.0,72.5 L292.0,73.0 L294.7,73.5 L297.3,74.0 L299.6,74.5 L301.7,75.0 L303.6,75.5 L305.2,76.0 L306.6,76.5 L307.8,77.0 L308.8,77.5 L309.7,78.0 L310.3,78.5 L310.8,79.0 L311.1,79.5 L311.4,80.0 L311.5,80.5 L311.6,81.0 L311.6,81.5 L311.6,82.0 L311.5,82.5 L311.1,83.0 L310.6,83.5 L309.9,84.0 L308.9,84.5 L307.8,85.0 L306.6,85.5 L305.3,86.0 L303.9,86.5 L302.3,87.0 L300.8,87.5 L299.1,88.0 L297.5,88.5 L295.7,89.0 L294.0,89.5 L292.3,90.0 L290.5,90.5 L288.7,91.0 L286.9,91.5 L285.1,92.0 L283.3,92.5 L281.6,93.0 L279.8,93.5 L278.0,94.0 L276.2,94.5 L274.5,95.0 L272.8,95.5 L271.1,96.0 L269.4,96.5 L267.7,97.0 L266.0,97.5 L264.4,98.0 L262.7,98.5 L261.1,99.0 L259.6,99.5 L258.0,100.0 L256.5,100.5 L255.0,101.0 L253.5,101.5 L252.1,102.0 L250.6,102.5 L249.2,103.0 L247.9,103.5 L246.5,104.0 L245.3,104.5 L244.0,105.0 L242.8,105.5 L241.6,106.0 L240.4,106.5 L239.3,107.0 L238.2,107.5 L237.2,108.0 L236.2,108.5 L235.3,109.0 L234.4,109.5 L233.5,110.0 L232.7,110.5 L232.0,111.0 L231.4,111.5 L230.8,112.0 L230.3,112.5 L229.9,113.0 L229.6,113.5" fill="none" stroke="#000" stroke-width="1.15" stroke-linejoin="round"/>
<path d="M229.60,11.00 L229.8,54.0 L229.9,54.5 L230.0,55.0 L230.2,55.5 L230.4,56.0 L230.7,56.5 L231.0,57.0 L231.5,57.5 L232.0,58.0 L232.7,58.5 L233.5,59.0 L234.4,59.5 L235.5,60.0 L236.8,60.5 L238.3,61.0 L240.0,61.5 L241.9,62.0 L244.0,62.5 L246.3,63.0 L248.9,63.5 L251.6,64.0 L254.4,64.5 L257.4,65.0 L260.6,65.5 L263.8,66.0 L267.0,66.5 L270.4,67.0 L273.7,67.5 L276.9,68.0 L280.1,68.5 L283.2,69.0 L286.1,69.5 L288.9,70.0 L291.5,70.5 L294.0,71.0 L296.2,71.5 L298.2,72.0 L300.0,72.5 L301.5,73.0 L302.9,73.5 L304.1,74.0 L305.0,74.5 L305.8,75.0 L306.5,75.5 L307.0,76.0 L307.5,76.5 L307.8,77.0 L308.1,77.5 L308.4,78.0 L308.8,78.5 L309.2,79.0 L309.6,79.5 L309.8,80.0 L309.9,80.5 L310.0,81.0 L310.0,81.5 L310.0,82.0 L309.9,82.5 L309.9,83.0 L309.8,83.5 L309.7,84.0 L309.5,84.5 L309.2,85.0 L308.7,85.5 L308.1,86.0 L307.3,86.5 L306.2,87.0 L304.8,87.5 L303.1,88.0 L301.1,88.5 L299.0,89.0 L296.7,89.5 L294.2,90.0 L291.6,90.5 L288.9,91.0 L286.1,91.5 L283.2,92.0 L280.3,92.5 L277.4,93.0 L274.6,93.5 L271.7,94.0 L269.0,94.5 L266.4,95.0 L263.8,95.5 L261.4,96.0 L259.1,96.5 L256.9,97.0 L254.8,97.5 L252.9,98.0 L251.1,98.5 L249.3,99.0 L247.7,99.5 L246.2,100.0 L244.8,100.5 L243.5,101.0 L242.2,101.5 L241.1,102.0 L240.0,102.5 L238.9,103.0 L237.9,103.5 L237.0,104.0 L236.1,104.5 L235.3,105.0 L234.6,105.5 L233.9,106.0 L233.2,106.5 L232.6,107.0 L232.0,107.5 L231.5,108.0 L231.1,108.5 L230.7,109.0 L230.3,109.5 L230.1,110.0 L229.8,110.5 L229.60,149.90 Z" fill="#fdba6b" fill-opacity="0.22" stroke="none"/>
<path d="M229.8,54.0 L229.9,54.5 L230.0,55.0 L230.2,55.5 L230.4,56.0 L230.7,56.5 L231.0,57.0 L231.5,57.5 L232.0,58.0 L232.7,58.5 L233.5,59.0 L234.4,59.5 L235.5,60.0 L236.8,60.5 L238.3,61.0 L240.0,61.5 L241.9,62.0 L244.0,62.5 L246.3,63.0 L248.9,63.5 L251.6,64.0 L254.4,64.5 L257.4,65.0 L260.6,65.5 L263.8,66.0 L267.0,66.5 L270.4,67.0 L273.7,67.5 L276.9,68.0 L280.1,68.5 L283.2,69.0 L286.1,69.5 L288.9,70.0 L291.5,70.5 L294.0,71.0 L296.2,71.5 L298.2,72.0 L300.0,72.5 L301.5,73.0 L302.9,73.5 L304.1,74.0 L305.0,74.5 L305.8,75.0 L306.5,75.5 L307.0,76.0 L307.5,76.5 L307.8,77.0 L308.1,77.5 L308.4,78.0 L308.8,78.5 L309.2,79.0 L309.6,79.5 L309.8,80.0 L309.9,80.5 L310.0,81.0 L310.0,81.5 L310.0,82.0 L309.9,82.5 L309.9,83.0 L309.8,83.5 L309.7,84.0 L309.5,84.5 L309.2,85.0 L308.7,85.5 L308.1,86.0 L307.3,86.5 L306.2,87.0 L304.8,87.5 L303.1,88.0 L301.1,88.5 L299.0,89.0 L296.7,89.5 L294.2,90.0 L291.6,90.5 L288.9,91.0 L286.1,91.5 L283.2,92.0 L280.3,92.5 L277.4,93.0 L274.6,93.5 L271.7,94.0 L269.0,94.5 L266.4,95.0 L263.8,95.5 L261.4,96.0 L259.1,96.5 L256.9,97.0 L254.8,97.5 L252.9,98.0 L251.1,98.5 L249.3,99.0 L247.7,99.5 L246.2,100.0 L244.8,100.5 L243.5,101.0 L242.2,101.5 L241.1,102.0 L240.0,102.5 L238.9,103.0 L237.9,103.5 L237.0,104.0 L236.1,104.5 L235.3,105.0 L234.6,105.5 L233.9,106.0 L233.2,106.5 L232.6,107.0 L232.0,107.5 L231.5,108.0 L231.1,108.5 L230.7,109.0 L230.3,109.5 L230.1,110.0 L229.8,110.5" fill="none" stroke="#000" stroke-width="1.15" stroke-linejoin="round"/>
<path d="M229.60,11.00 L229.8,51.5 L229.9,52.0 L230.0,52.5 L230.2,53.0 L230.4,53.5 L230.7,54.0 L231.0,54.5 L231.5,55.0 L232.1,55.5 L232.9,56.0 L233.8,56.5 L234.8,57.0 L236.1,57.5 L237.6,58.0 L239.3,58.5 L241.2,59.0 L243.3,59.5 L245.6,60.0 L248.2,60.5 L250.9,61.0 L253.7,61.5 L256.7,62.0 L259.7,62.5 L262.8,63.0 L265.9,63.5 L269.0,64.0 L272.0,64.5 L274.9,65.0 L277.7,65.5 L280.3,66.0 L282.7,66.5 L284.9,67.0 L286.9,67.5 L288.6,68.0 L290.2,68.5 L291.5,69.0 L292.6,69.5 L293.5,70.0 L294.2,70.5 L294.7,71.0 L295.1,71.5 L295.3,72.0 L295.5,72.5 L295.6,73.0 L295.6,73.5 L295.6,74.0 L295.5,74.5 L295.3,75.0 L294.8,75.5 L294.2,76.0 L293.5,76.5 L292.7,77.0 L291.8,77.5 L290.7,78.0 L289.6,78.5 L288.5,79.0 L287.2,79.5 L286.0,80.0 L284.7,80.5 L283.4,81.0 L282.0,81.5 L280.7,82.0 L279.3,82.5 L278.0,83.0 L276.6,83.5 L275.2,84.0 L273.9,84.5 L272.5,85.0 L271.1,85.5 L269.8,86.0 L268.4,86.5 L267.1,87.0 L265.8,87.5 L264.5,88.0 L263.2,88.5 L261.9,89.0 L260.6,89.5 L259.4,90.0 L258.1,90.5 L256.9,91.0 L255.7,91.5 L254.5,92.0 L253.3,92.5 L252.2,93.0 L251.1,93.5 L250.0,94.0 L248.9,94.5 L247.8,95.0 L246.8,95.5 L245.7,96.0 L244.7,96.5 L243.8,97.0 L242.8,97.5 L241.9,98.0 L241.0,98.5 L240.1,99.0 L239.2,99.5 L238.4,100.0 L237.6,100.5 L236.8,101.0 L236.1,101.5 L235.4,102.0 L234.7,102.5 L234.1,103.0 L233.4,103.5 L232.9,104.0 L232.3,104.5 L231.8,105.0 L231.4,105.5 L230.9,106.0 L230.5,106.5 L230.2,107.0 L229.9,107.5 L229.7,108.0 L229.60,149.90 Z" fill="#fdb264" fill-opacity="0.22" stroke="none"/>
<path d="M229.8,51.5 L229.9,52.0 L230.0,52.5 L230.2,53.0 L230.4,53.5 L230.7,54.0 L231.0,54.5 L231.5,55.0 L232.1,55.5 L232.9,56.0 L233.8,56.5 L234.8,57.0 L236.1,57.5 L237.6,58.0 L239.3,58.5 L241.2,59.0 L243.3,59.5 L245.6,60.0 L248.2,60.5 L250.9,61.0 L253.7,61.5 L256.7,62.0 L259.7,62.5 L262.8,63.0 L265.9,63.5 L269.0,64.0 L272.0,64.5 L274.9,65.0 L277.7,65.5 L280.3,66.0 L282.7,66.5 L284.9,67.0 L286.9,67.5 L288.6,68.0 L290.2,68.5 L291.5,69.0 L292.6,69.5 L293.5,70.0 L294.2,70.5 L294.7,71.0 L295.1,71.5 L295.3,72.0 L295.5,72.5 L295.6,73.0 L295.6,73.5 L295.6,74.0 L295.5,74.5 L295.3,75.0 L294.8,75.5 L294.2,76.0 L293.5,76.5 L292.7,77.0 L291.8,77.5 L290.7,78.0 L289.6,78.5 L288.5,79.0 L287.2,79.5 L286.0,80.0 L284.7,80.5 L283.4,81.0 L282.0,81.5 L280.7,82.0 L279.3,82.5 L278.0,83.0 L276.6,83.5 L275.2,84.0 L273.9,84.5 L272.5,85.0 L271.1,85.5 L269.8,86.0 L268.4,86.5 L267.1,87.0 L265.8,87.5 L264.5,88.0 L263.2,88.5 L261.9,89.0 L260.6,89.5 L259.4,90.0 L258.1,90.5 L256.9,91.0 L255.7,91.5 L254.5,92.0 L253.3,92.5 L252.2,93.0 L251.1,93.5 L250.0,94.0 L248.9,94.5 L247.8,95.0 L246.8,95.5 L245.7,96.0 L244.7,96.5 L243.8,97.0 L242.8,97.5 L241.9,98.0 L241.0,98.5 L240.1,99.0 L239.2,99.5 L238.4,100.0 L237.6,100.5 L236.8,101.0 L236.1,101.5 L235.4,102.0 L234.7,102.5 L234.1,103.0 L233.4,103.5 L232.9,104.0 L232.3,104.5 L231.8,105.0 L231.4,105.5 L230.9,106.0 L230.5,106.5 L230.2,107.0 L229.9,107.5 L229.7,108.0" fill="none" stroke="#000" stroke-width="1.15" stroke-linejoin="round"/>
<path d="M229.60,11.00 L229.8,24.5 L229.9,25.0 L229.9,25.5 L229.9,26.0 L230.0,26.5 L230.0,27.0 L230.0,27.5 L230.1,28.0 L230.1,28.5 L230.2,29.0 L230.2,29.5 L230.3,30.0 L230.3,30.5 L230.4,31.0 L230.5,31.5 L230.6,32.0 L230.6,32.5 L230.7,33.0 L230.8,33.5 L230.9,34.0 L231.0,34.5 L231.1,35.0 L231.2,35.5 L231.4,36.0 L231.5,36.5 L231.7,37.0 L231.8,37.5 L232.0,38.0 L232.1,38.5 L232.3,39.0 L232.5,39.5 L232.7,40.0 L232.9,40.5 L233.1,41.0 L233.4,41.5 L233.6,42.0 L233.9,42.5 L234.1,43.0 L234.4,43.5 L234.7,44.0 L235.0,44.5 L235.3,45.0 L235.6,45.5 L236.0,46.0 L236.3,46.5 L236.7,47.0 L237.1,47.5 L237.5,48.0 L237.9,48.5 L238.3,49.0 L238.8,49.5 L239.2,50.0 L239.7,50.5 L240.2,51.0 L240.7,51.5 L241.2,52.0 L241.7,52.5 L242.2,53.0 L242.7,53.5 L243.3,54.0 L243.9,54.5 L244.4,55.0 L245.0,55.5 L245.6,56.0 L246.2,56.5 L246.8,57.0 L247.4,57.5 L248.1,58.0 L248.7,58.5 L249.3,59.0 L250.0,59.5 L250.6,60.0 L251.3,60.5 L252.0,61.0 L252.6,61.5 L253.3,62.0 L253.9,62.5 L254.6,63.0 L255.3,63.5 L255.9,64.0 L256.6,64.5 L257.2,65.0 L257.9,65.5 L258.5,66.0 L259.2,66.5 L259.8,67.0 L260.4,67.5 L261.0,68.0 L261.6,68.5 L262.2,69.0 L262.8,69.5 L263.4,70.0 L263.9,70.5 L264.5,71.0 L265.0,71.5 L265.5,72.0 L266.0,72.5 L266.5,73.0 L267.0,73.5 L267.4,74.0 L267.9,74.5 L268.3,75.0 L268.7,75.5 L269.1,76.0 L269.4,76.5 L269.8,77.0 L270.1,77.5 L270.4,78.0 L270.7,78.5 L271.0,79.0 L271.3,79.5 L271.5,80.0 L271.8,80.5 L272.0,81.0 L272.2,81.5 L272.4,82.0 L272.6,82.5 L272.8,83.0 L273.0,83.5 L273.2,84.0 L273.4,84.5 L273.6,85.0 L273.8,85.5 L274.0,86.0 L274.2,86.5 L274.5,87.0 L274.8,87.5 L275.2,88.0 L275.5,88.5 L275.7,89.0 L275.9,89.5 L276.0,90.0 L276.0,90.5 L276.0,91.0 L276.0,91.5 L275.9,92.0 L275.9,92.5 L275.8,93.0 L275.7,93.5 L275.6,94.0 L275.4,94.5 L275.2,95.0 L275.0,95.5 L274.8,96.0 L274.5,96.5 L274.1,97.0 L273.7,97.5 L273.1,98.0 L272.5,98.5 L271.8,99.0 L271.0,99.5 L270.1,100.0 L269.1,100.5 L268.0,101.0 L266.9,101.5 L265.7,102.0 L264.4,102.5 L263.1,103.0 L261.8,103.5 L260.4,104.0 L258.9,104.5 L257.5,105.0 L256.0,105.5 L254.6,106.0 L253.1,106.5 L251.6,107.0 L250.2,107.5 L248.8,108.0 L247.4,108.5 L246.0,109.0 L244.7,109.5 L243.5,110.0 L242.3,110.5 L241.1,111.0 L240.0,111.5 L239.0,112.0 L238.0,112.5 L237.1,113.0 L236.2,113.5 L235.4,114.0 L234.7,114.5 L234.0,115.0 L233.3,115.5 L232.8,116.0 L232.2,116.5 L231.7,117.0 L231.3,117.5 L230.9,118.0 L230.6,118.5 L230.3,119.0 L230.1,119.5 L229.9,120.0 L229.8,120.5 L229.60,149.90 Z" fill="#fb9e5a" fill-opacity="0.11" stroke="none"/>
<path d="M229.8,24.5 L229.9,25.0 L229.9,25.5 L229.9,26.0 L230.0,26.5 L230.0,27.0 L230.0,27.5 L230.1,28.0 L230.1,28.5 L230.2,29.0 L230.2,29.5 L230.3,30.0 L230.3,30.5 L230.4,31.0 L230.5,31.5 L230.6,32.0 L230.6,32.5 L230.7,33.0 L230.8,33.5 L230.9,34.0 L231.0,34.5 L231.1,35.0 L231.2,35.5 L231.4,36.0 L231.5,36.5 L231.7,37.0 L231.8,37.5 L232.0,38.0 L232.1,38.5 L232.3,39.0 L232.5,39.5 L232.7,40.0 L232.9,40.5 L233.1,41.0 L233.4,41.5 L233.6,42.0 L233.9,42.5 L234.1,43.0 L234.4,43.5 L234.7,44.0 L235.0,44.5 L235.3,45.0 L235.6,45.5 L236.0,46.0 L236.3,46.5 L236.7,47.0 L237.1,47.5 L237.5,48.0 L237.9,48.5 L238.3,49.0 L238.8,49.5 L239.2,50.0 L239.7,50.5 L240.2,51.0 L240.7,51.5 L241.2,52.0 L241.7,52.5 L242.2,53.0 L242.7,53.5 L243.3,54.0 L243.9,54.5 L244.4,55.0 L245.0,55.5 L245.6,56.0 L246.2,56.5 L246.8,57.0 L247.4,57.5 L248.1,58.0 L248.7,58.5 L249.3,59.0 L250.0,59.5 L250.6,60.0 L251.3,60.5 L252.0,61.0 L252.6,61.5 L253.3,62.0 L253.9,62.5 L254.6,63.0 L255.3,63.5 L255.9,64.0 L256.6,64.5 L257.2,65.0 L257.9,65.5 L258.5,66.0 L259.2,66.5 L259.8,67.0 L260.4,67.5 L261.0,68.0 L261.6,68.5 L262.2,69.0 L262.8,69.5 L263.4,70.0 L263.9,70.5 L264.5,71.0 L265.0,71.5 L265.5,72.0 L266.0,72.5 L266.5,73.0 L267.0,73.5 L267.4,74.0 L267.9,74.5 L268.3,75.0 L268.7,75.5 L269.1,76.0 L269.4,76.5 L269.8,77.0 L270.1,77.5 L270.4,78.0 L270.7,78.5 L271.0,79.0 L271.3,79.5 L271.5,80.0 L271.8,80.5 L272.0,81.0 L272.2,81.5 L272.4,82.0 L272.6,82.5 L272.8,83.0 L273.0,83.5 L273.2,84.0 L273.4,84.5 L273.6,85.0 L273.8,85.5 L274.0,86.0 L274.2,86.5 L274.5,87.0 L274.8,87.5 L275.2,88.0 L275.5,88.5 L275.7,89.0 L275.9,89.5 L276.0,90.0 L276.0,90.5 L276.0,91.0 L276.0,91.5 L275.9,92.0 L275.9,92.5 L275.8,93.0 L275.7,93.5 L275.6,94.0 L275.4,94.5 L275.2,95.0 L275.0,95.5 L274.8,96.0 L274.5,96.5 L274.1,97.0 L273.7,97.5 L273.1,98.0 L272.5,98.5 L271.8,99.0 L271.0,99.5 L270.1,100.0 L269.1,100.5 L268.0,101.0 L266.9,101.5 L265.7,102.0 L264.4,102.5 L263.1,103.0 L261.8,103.5 L260.4,104.0 L258.9,104.5 L257.5,105.0 L256.0,105.5 L254.6,106.0 L253.1,106.5 L251.6,107.0 L250.2,107.5 L248.8,108.0 L247.4,108.5 L246.0,109.0 L244.7,109.5 L243.5,110.0 L242.3,110.5 L241.1,111.0 L240.0,111.5 L239.0,112.0 L238.0,112.5 L237.1,113.0 L236.2,113.5 L235.4,114.0 L234.7,114.5 L234.0,115.0 L233.3,115.5 L232.8,116.0 L232.2,116.5 L231.7,117.0 L231.3,117.5 L230.9,118.0 L230.6,118.5 L230.3,119.0 L230.1,119.5 L229.9,120.0 L229.8,120.5" fill="none" stroke="#000" stroke-width="1.15" stroke-linejoin="round"/>
<path d="M229.60,11.00 L229.8,21.0 L229.9,21.5 L229.9,22.0 L229.9,22.5 L230.0,23.0 L230.0,23.5 L230.0,24.0 L230.1,24.5 L230.1,25.0 L230.2,25.5 L230.2,26.0 L230.3,26.5 L230.3,27.0 L230.4,27.5 L230.5,28.0 L230.6,28.5 L230.6,29.0 L230.7,29.5 L230.8,30.0 L230.9,30.5 L231.0,31.0 L231.1,31.5 L231.3,32.0 L231.4,32.5 L231.5,33.0 L231.7,33.5 L231.8,34.0 L232.0,34.5 L232.2,35.0 L232.4,35.5 L232.6,36.0 L232.8,36.5 L233.0,37.0 L233.2,37.5 L233.5,38.0 L233.7,38.5 L234.0,39.0 L234.3,39.5 L234.5,40.0 L234.8,40.5 L235.2,41.0 L235.5,41.5 L235.8,42.0 L236.2,42.5 L236.6,43.0 L237.0,43.5 L237.4,44.0 L237.8,44.5 L238.2,45.0 L238.7,45.5 L239.1,46.0 L239.6,46.5 L240.1,47.0 L240.6,47.5 L241.1,48.0 L241.7,48.5 L242.2,49.0 L242.8,49.5 L243.4,50.0 L244.0,50.5 L244.6,51.0 L245.2,51.5 L245.8,52.0 L246.4,52.5 L247.1,53.0 L247.7,53.5 L248.4,54.0 L249.1,54.5 L249.8,55.0 L250.5,55.5 L251.2,56.0 L251.9,56.5 L252.6,57.0 L253.3,57.5 L254.0,58.0 L254.7,58.5 L255.5,59.0 L256.2,59.5 L256.9,60.0 L257.6,60.5 L258.3,61.0 L259.1,61.5 L259.8,62.0 L260.5,62.5 L261.2,63.0 L261.9,63.5 L262.6,64.0 L263.3,64.5 L263.9,65.0 L264.6,65.5 L265.2,66.0 L265.9,66.5 L266.5,67.0 L267.1,67.5 L267.7,68.0 L268.3,68.5 L268.8,69.0 L269.4,69.5 L269.9,70.0 L270.4,70.5 L270.9,71.0 L271.4,71.5 L271.9,72.0 L272.3,72.5 L272.7,73.0 L273.1,73.5 L273.5,74.0 L273.9,74.5 L274.2,75.0 L274.5,75.5 L274.8,76.0 L275.1,76.5 L275.3,77.0 L275.6,77.5 L275.8,78.0 L276.0,78.5 L276.2,79.0 L276.3,79.5 L276.5,80.0 L276.6,80.5 L276.7,81.0 L276.8,81.5 L276.8,82.0 L276.9,82.5 L276.9,83.0 L277.0,83.5 L277.0,84.0 L277.0,84.5 L277.0,85.0 L276.9,85.5 L276.7,86.0 L276.4,86.5 L275.9,87.0 L275.3,87.5 L274.6,88.0 L273.8,88.5 L273.0,89.0 L272.1,89.5 L271.1,90.0 L270.1,90.5 L269.1,91.0 L268.0,91.5 L266.9,92.0 L265.8,92.5 L264.7,93.0 L263.6,93.5 L262.5,94.0 L261.4,94.5 L260.3,95.0 L259.2,95.5 L258.1,96.0 L257.0,96.5 L255.9,97.0 L254.8,97.5 L253.8,98.0 L252.7,98.5 L251.7,99.0 L250.7,99.5 L249.7,100.0 L248.7,100.5 L247.7,101.0 L246.7,101.5 L245.8,102.0 L244.9,102.5 L243.9,103.0 L243.1,103.5 L242.2,104.0 L241.3,104.5 L240.5,105.0 L239.7,105.5 L238.9,106.0 L238.2,106.5 L237.4,107.0 L236.7,107.5 L236.0,108.0 L235.4,108.5 L234.7,109.0 L234.1,109.5 L233.6,110.0 L233.0,110.5 L232.5,111.0 L232.0,111.5 L231.6,112.0 L231.1,112.5 L230.8,113.0 L230.4,113.5 L230.1,114.0 L229.9,114.5 L229.7,115.0 L229.60,149.90 Z" fill="#f99455" fill-opacity="0.11" stroke="none"/>
<path d="M229.8,21.0 L229.9,21.5 L229.9,22.0 L229.9,22.5 L230.0,23.0 L230.0,23.5 L230.0,24.0 L230.1,24.5 L230.1,25.0 L230.2,25.5 L230.2,26.0 L230.3,26.5 L230.3,27.0 L230.4,27.5 L230.5,28.0 L230.6,28.5 L230.6,29.0 L230.7,29.5 L230.8,30.0 L230.9,30.5 L231.0,31.0 L231.1,31.5 L231.3,32.0 L231.4,32.5 L231.5,33.0 L231.7,33.5 L231.8,34.0 L232.0,34.5 L232.2,35.0 L232.4,35.5 L232.6,36.0 L232.8,36.5 L233.0,37.0 L233.2,37.5 L233.5,38.0 L233.7,38.5 L234.0,39.0 L234.3,39.5 L234.5,40.0 L234.8,40.5 L235.2,41.0 L235.5,41.5 L235.8,42.0 L236.2,42.5 L236.6,43.0 L237.0,43.5 L237.4,44.0 L237.8,44.5 L238.2,45.0 L238.7,45.5 L239.1,46.0 L239.6,46.5 L240.1,47.0 L240.6,47.5 L241.1,48.0 L241.7,48.5 L242.2,49.0 L242.8,49.5 L243.4,50.0 L244.0,50.5 L244.6,51.0 L245.2,51.5 L245.8,52.0 L246.4,52.5 L247.1,53.0 L247.7,53.5 L248.4,54.0 L249.1,54.5 L249.8,55.0 L250.5,55.5 L251.2,56.0 L251.9,56.5 L252.6,57.0 L253.3,57.5 L254.0,58.0 L254.7,58.5 L255.5,59.0 L256.2,59.5 L256.9,60.0 L257.6,60.5 L258.3,61.0 L259.1,61.5 L259.8,62.0 L260.5,62.5 L261.2,63.0 L261.9,63.5 L262.6,64.0 L263.3,64.5 L263.9,65.0 L264.6,65.5 L265.2,66.0 L265.9,66.5 L266.5,67.0 L267.1,67.5 L267.7,68.0 L268.3,68.5 L268.8,69.0 L269.4,69.5 L269.9,70.0 L270.4,70.5 L270.9,71.0 L271.4,71.5 L271.9,72.0 L272.3,72.5 L272.7,73.0 L273.1,73.5 L273.5,74.0 L273.9,74.5 L274.2,75.0 L274.5,75.5 L274.8,76.0 L275.1,76.5 L275.3,77.0 L275.6,77.5 L275.8,78.0 L276.0,78.5 L276.2,79.0 L276.3,79.5 L276.5,80.0 L276.6,80.5 L276.7,81.0 L276.8,81.5 L276.8,82.0 L276.9,82.5 L276.9,83.0 L277.0,83.5 L277.0,84.0 L277.0,84.5 L277.0,85.0 L276.9,85.5 L276.7,86.0 L276.4,86.5 L275.9,87.0 L275.3,87.5 L274.6,88.0 L273.8,88.5 L273.0,89.0 L272.1,89.5 L271.1,90.0 L270.1,90.5 L269.1,91.0 L268.0,91.5 L266.9,92.0 L265.8,92.5 L264.7,93.0 L263.6,93.5 L262.5,94.0 L261.4,94.5 L260.3,95.0 L259.2,95.5 L258.1,96.0 L257.0,96.5 L255.9,97.0 L254.8,97.5 L253.8,98.0 L252.7,98.5 L251.7,99.0 L250.7,99.5 L249.7,100.0 L248.7,100.5 L247.7,101.0 L246.7,101.5 L245.8,102.0 L244.9,102.5 L243.9,103.0 L243.1,103.5 L242.2,104.0 L241.3,104.5 L240.5,105.0 L239.7,105.5 L238.9,106.0 L238.2,106.5 L237.4,107.0 L236.7,107.5 L236.0,108.0 L235.4,108.5 L234.7,109.0 L234.1,109.5 L233.6,110.0 L233.0,110.5 L232.5,111.0 L232.0,111.5 L231.6,112.0 L231.1,112.5 L230.8,113.0 L230.4,113.5 L230.1,114.0 L229.9,114.5 L229.7,115.0" fill="none" stroke="#000" stroke-width="1.15" stroke-linejoin="round"/>
<path d="M229.60,11.00 L229.8,17.5 L229.9,18.0 L229.9,18.5 L229.9,19.0 L230.0,19.5 L230.0,20.0 L230.0,20.5 L230.1,21.0 L230.1,21.5 L230.2,22.0 L230.2,22.5 L230.3,23.0 L230.3,23.5 L230.4,24.0 L230.5,24.5 L230.6,25.0 L230.6,25.5 L230.7,26.0 L230.8,26.5 L230.9,27.0 L231.0,27.5 L231.2,28.0 L231.3,28.5 L231.4,29.0 L231.5,29.5 L231.7,30.0 L231.9,30.5 L232.0,31.0 L232.2,31.5 L232.4,32.0 L232.6,32.5 L232.8,33.0 L233.0,33.5 L233.3,34.0 L233.5,34.5 L233.8,35.0 L234.1,35.5 L234.3,36.0 L234.6,36.5 L235.0,37.0 L235.3,37.5 L235.6,38.0 L236.0,38.5 L236.4,39.0 L236.8,39.5 L237.2,40.0 L237.6,40.5 L238.0,41.0 L238.5,41.5 L239.0,42.0 L239.4,42.5 L239.9,43.0 L240.5,43.5 L241.0,44.0 L241.5,44.5 L242.1,45.0 L242.7,45.5 L243.3,46.0 L243.9,46.5 L244.5,47.0 L245.2,47.5 L245.8,48.0 L246.5,48.5 L247.2,49.0 L247.9,49.5 L248.6,50.0 L249.3,50.5 L250.0,51.0 L250.7,51.5 L251.5,52.0 L252.2,52.5 L253.0,53.0 L253.8,53.5 L254.5,54.0 L255.3,54.5 L256.1,55.0 L256.9,55.5 L257.6,56.0 L258.4,56.5 L259.2,57.0 L260.0,57.5 L260.8,58.0 L261.6,58.5 L262.3,59.0 L263.1,59.5 L263.9,60.0 L264.6,60.5 L265.4,61.0 L266.1,61.5 L266.8,62.0 L267.5,62.5 L268.2,63.0 L268.9,63.5 L269.6,64.0 L270.3,64.5 L270.9,65.0 L271.5,65.5 L272.2,66.0 L272.7,66.5 L273.3,67.0 L273.9,67.5 L274.4,68.0 L274.9,68.5 L275.4,69.0 L275.9,69.5 L276.4,70.0 L276.8,70.5 L277.2,71.0 L277.6,71.5 L278.0,72.0 L278.3,72.5 L278.6,73.0 L279.0,73.5 L279.2,74.0 L279.5,74.5 L279.8,75.0 L280.0,75.5 L280.3,76.0 L280.5,76.5 L280.8,77.0 L281.0,77.5 L281.3,78.0 L281.5,78.5 L281.8,79.0 L282.2,79.5 L282.5,80.0 L283.0,80.5 L283.4,81.0 L284.0,81.5 L284.6,82.0 L285.2,82.5 L285.7,83.0 L286.2,83.5 L286.6,84.0 L287.0,84.5 L287.4,85.0 L287.7,85.5 L287.9,86.0 L288.1,86.5 L288.2,87.0 L288.3,87.5 L288.2,88.0 L288.0,88.5 L287.7,89.0 L287.2,89.5 L286.5,90.0 L285.7,90.5 L284.7,91.0 L283.6,91.5 L282.3,92.0 L280.9,92.5 L279.4,93.0 L277.8,93.5 L276.1,94.0 L274.4,94.5 L272.5,95.0 L270.7,95.5 L268.8,96.0 L266.9,96.5 L265.0,97.0 L263.1,97.5 L261.2,98.0 L259.4,98.5 L257.6,99.0 L255.9,99.5 L254.3,100.0 L252.7,100.5 L251.2,101.0 L249.7,101.5 L248.4,102.0 L247.1,102.5 L245.8,103.0 L244.7,103.5 L243.6,104.0 L242.6,104.5 L241.6,105.0 L240.7,105.5 L239.8,106.0 L239.0,106.5 L238.3,107.0 L237.5,107.5 L236.9,108.0 L236.2,108.5 L235.6,109.0 L235.0,109.5 L234.5,110.0 L234.0,110.5 L233.5,111.0 L233.1,111.5 L232.6,112.0 L232.2,112.5 L231.9,113.0 L231.5,113.5 L231.2,114.0 L230.9,114.5 L230.6,115.0 L230.4,115.5 L230.2,116.0 L230.0,116.5 L229.8,117.0 L229.60,149.90 Z" fill="#f88a50" fill-opacity="0.11" stroke="none"/>
<path d="M229.8,17.5 L229.9,18.0 L229.9,18.5 L229.9,19.0 L230.0,19.5 L230.0,20.0 L230.0,20.5 L230.1,21.0 L230.1,21.5 L230.2,22.0 L230.2,22.5 L230.3,23.0 L230.3,23.5 L230.4,24.0 L230.5,24.5 L230.6,25.0 L230.6,25.5 L230.7,26.0 L230.8,26.5 L230.9,27.0 L231.0,27.5 L231.2,28.0 L231.3,28.5 L231.4,29.0 L231.5,29.5 L231.7,30.0 L231.9,30.5 L232.0,31.0 L232.2,31.5 L232.4,32.0 L232.6,32.5 L232.8,33.0 L233.0,33.5 L233.3,34.0 L233.5,34.5 L233.8,35.0 L234.1,35.5 L234.3,36.0 L234.6,36.5 L235.0,37.0 L235.3,37.5 L235.6,38.0 L236.0,38.5 L236.4,39.0 L236.8,39.5 L237.2,40.0 L237.6,40.5 L238.0,41.0 L238.5,41.5 L239.0,42.0 L239.4,42.5 L239.9,43.0 L240.5,43.5 L241.0,44.0 L241.5,44.5 L242.1,45.0 L242.7,45.5 L243.3,46.0 L243.9,46.5 L244.5,47.0 L245.2,47.5 L245.8,48.0 L246.5,48.5 L247.2,49.0 L247.9,49.5 L248.6,50.0 L249.3,50.5 L250.0,51.0 L250.7,51.5 L251.5,52.0 L252.2,52.5 L253.0,53.0 L253.8,53.5 L254.5,54.0 L255.3,54.5 L256.1,55.0 L256.9,55.5 L257.6,56.0 L258.4,56.5 L259.2,57.0 L260.0,57.5 L260.8,58.0 L261.6,58.5 L262.3,59.0 L263.1,59.5 L263.9,60.0 L264.6,60.5 L265.4,61.0 L266.1,61.5 L266.8,62.0 L267.5,62.5 L268.2,63.0 L268.9,63.5 L269.6,64.0 L270.3,64.5 L270.9,65.0 L271.5,65.5 L272.2,66.0 L272.7,66.5 L273.3,67.0 L273.9,67.5 L274.4,68.0 L274.9,68.5 L275.4,69.0 L275.9,69.5 L276.4,70.0 L276.8,70.5 L277.2,71.0 L277.6,71.5 L278.0,72.0 L278.3,72.5 L278.6,73.0 L279.0,73.5 L279.2,74.0 L279.5,74.5 L279.8,75.0 L280.0,75.5 L280.3,76.0 L280.5,76.5 L280.8,77.0 L281.0,77.5 L281.3,78.0 L281.5,78.5 L281.8,79.0 L282.2,79.5 L282.5,80.0 L283.0,80.5 L283.4,81.0 L284.0,81.5 L284.6,82.0 L285.2,82.5 L285.7,83.0 L286.2,83.5 L286.6,84.0 L287.0,84.5 L287.4,85.0 L287.7,85.5 L287.9,86.0 L288.1,86.5 L288.2,87.0 L288.3,87.5 L288.2,88.0 L288.0,88.5 L287.7,89.0 L287.2,89.5 L286.5,90.0 L285.7,90.5 L284.7,91.0 L283.6,91.5 L282.3,92.0 L280.9,92.5 L279.4,93.0 L277.8,93.5 L276.1,94.0 L274.4,94.5 L272.5,95.0 L270.7,95.5 L268.8,96.0 L266.9,96.5 L265.0,97.0 L263.1,97.5 L261.2,98.0 L259.4,98.5 L257.6,99.0 L255.9,99.5 L254.3,100.0 L252.7,100.5 L251.2,101.0 L249.7,101.5 L248.4,102.0 L247.1,102.5 L245.8,103.0 L244.7,103.5 L243.6,104.0 L242.6,104.5 L241.6,105.0 L240.7,105.5 L239.8,106.0 L239.0,106.5 L238.3,107.0 L237.5,107.5 L236.9,108.0 L236.2,108.5 L235.6,109.0 L235.0,109.5 L234.5,110.0 L234.0,110.5 L233.5,111.0 L233.1,111.5 L232.6,112.0 L232.2,112.5 L231.9,113.0 L231.5,113.5 L231.2,114.0 L230.9,114.5 L230.6,115.0 L230.4,115.5 L230.2,116.0 L230.0,116.5 L229.8,117.0" fill="none" stroke="#000" stroke-width="1.15" stroke-linejoin="round"/>
<path d="M229.60,11.00 L229.8,14.0 L229.9,14.5 L229.9,15.0 L229.9,15.5 L229.9,16.0 L230.0,16.5 L230.0,17.0 L230.1,17.5 L230.1,18.0 L230.2,18.5 L230.2,19.0 L230.3,19.5 L230.3,20.0 L230.4,20.5 L230.5,21.0 L230.5,21.5 L230.6,22.0 L230.7,22.5 L230.8,23.0 L230.9,23.5 L231.0,24.0 L231.1,24.5 L231.3,25.0 L231.4,25.5 L231.5,26.0 L231.7,26.5 L231.9,27.0 L232.0,27.5 L232.2,28.0 L232.4,28.5 L232.6,29.0 L232.8,29.5 L233.1,30.0 L233.3,30.5 L233.6,31.0 L233.8,31.5 L234.1,32.0 L234.4,32.5 L234.7,33.0 L235.0,33.5 L235.4,34.0 L235.7,34.5 L236.1,35.0 L236.5,35.5 L236.9,36.0 L237.3,36.5 L237.8,37.0 L238.2,37.5 L238.7,38.0 L239.2,38.5 L239.7,39.0 L240.2,39.5 L240.7,40.0 L241.3,40.5 L241.9,41.0 L242.5,41.5 L243.1,42.0 L243.7,42.5 L244.4,43.0 L245.0,43.5 L245.7,44.0 L246.4,44.5 L247.1,45.0 L247.8,45.5 L248.5,46.0 L249.3,46.5 L250.0,47.0 L250.8,47.5 L251.6,48.0 L252.4,48.5 L253.2,49.0 L254.0,49.5 L254.8,50.0 L255.6,50.5 L256.5,51.0 L257.3,51.5 L258.1,52.0 L259.0,52.5 L259.8,53.0 L260.7,53.5 L261.5,54.0 L262.4,54.5 L263.2,55.0 L264.0,55.5 L264.9,56.0 L265.7,56.5 L266.5,57.0 L267.3,57.5 L268.1,58.0 L268.9,58.5 L269.7,59.0 L270.5,59.5 L271.2,60.0 L272.0,60.5 L272.7,61.0 L273.4,61.5 L274.1,62.0 L274.8,62.5 L275.5,63.0 L276.1,63.5 L276.7,64.0 L277.3,64.5 L277.9,65.0 L278.5,65.5 L279.0,66.0 L279.5,66.5 L280.0,67.0 L280.5,67.5 L280.9,68.0 L281.3,68.5 L281.7,69.0 L282.1,69.5 L282.4,70.0 L282.8,70.5 L283.1,71.0 L283.3,71.5 L283.6,72.0 L283.8,72.5 L284.0,73.0 L284.2,73.5 L284.4,74.0 L284.5,74.5 L284.6,75.0 L284.7,75.5 L284.8,76.0 L284.9,76.5 L284.9,77.0 L285.0,77.5 L285.0,78.0 L285.0,78.5 L285.0,79.0 L284.9,79.5 L284.7,80.0 L284.4,80.5 L283.9,81.0 L283.3,81.5 L282.6,82.0 L281.9,82.5 L281.0,83.0 L280.1,83.5 L279.2,84.0 L278.2,84.5 L277.1,85.0 L276.1,85.5 L275.0,86.0 L273.9,86.5 L272.8,87.0 L271.7,87.5 L270.5,88.0 L269.4,88.5 L268.3,89.0 L267.1,89.5 L266.0,90.0 L264.9,90.5 L263.7,91.0 L262.6,91.5 L261.5,92.0 L260.4,92.5 L259.3,93.0 L258.2,93.5 L257.1,94.0 L256.0,94.5 L255.0,95.0 L253.9,95.5 L252.9,96.0 L251.9,96.5 L250.9,97.0 L249.9,97.5 L248.9,98.0 L247.9,98.5 L247.0,99.0 L246.0,99.5 L245.1,100.0 L244.2,100.5 L243.3,101.0 L242.5,101.5 L241.6,102.0 L240.8,102.5 L240.0,103.0 L239.2,103.5 L238.4,104.0 L237.6,104.5 L236.9,105.0 L236.2,105.5 L235.5,106.0 L234.9,106.5 L234.2,107.0 L233.6,107.5 L233.1,108.0 L232.5,108.5 L232.0,109.0 L231.5,109.5 L231.1,110.0 L230.7,110.5 L230.3,111.0 L230.0,111.5 L229.8,112.0 L229.60,149.90 Z" fill="#f77f4b" fill-opacity="0.11" stroke="none"/>
<path d="M229.8,14.0 L229.9,14.5 L229.9,15.0 L229.9,15.5 L229.9,16.0 L230.0,16.5 L230.0,17.0 L230.1,17.5 L230.1,18.0 L230.2,18.5 L230.2,19.0 L230.3,19.5 L230.3,20.0 L230.4,20.5 L230.5,21.0 L230.5,21.5 L230.6,22.0 L230.7,22.5 L230.8,23.0 L230.9,23.5 L231.0,24.0 L231.1,24.5 L231.3,25.0 L231.4,25.5 L231.5,26.0 L231.7,26.5 L231.9,27.0 L232.0,27.5 L232.2,28.0 L232.4,28.5 L232.6,29.0 L232.8,29.5 L233.1,30.0 L233.3,30.5 L233.6,31.0 L233.8,31.5 L234.1,32.0 L234.4,32.5 L234.7,33.0 L235.0,33.5 L235.4,34.0 L235.7,34.5 L236.1,35.0 L236.5,35.5 L236.9,36.0 L237.3,36.5 L237.8,37.0 L238.2,37.5 L238.7,38.0 L239.2,38.5 L239.7,39.0 L240.2,39.5 L240.7,40.0 L241.3,40.5 L241.9,41.0 L242.5,41.5 L243.1,42.0 L243.7,42.5 L244.4,43.0 L245.0,43.5 L245.7,44.0 L246.4,44.5 L247.1,45.0 L247.8,45.5 L248.5,46.0 L249.3,46.5 L250.0,47.0 L250.8,47.5 L251.6,48.0 L252.4,48.5 L253.2,49.0 L254.0,49.5 L254.8,50.0 L255.6,50.5 L256.5,51.0 L257.3,51.5 L258.1,52.0 L259.0,52.5 L259.8,53.0 L260.7,53.5 L261.5,54.0 L262.4,54.5 L263.2,55.0 L264.0,55.5 L264.9,56.0 L265.7,56.5 L266.5,57.0 L267.3,57.5 L268.1,58.0 L268.9,58.5 L269.7,59.0 L270.5,59.5 L271.2,60.0 L272.0,60.5 L272.7,61.0 L273.4,61.5 L274.1,62.0 L274.8,62.5 L275.5,63.0 L276.1,63.5 L276.7,64.0 L277.3,64.5 L277.9,65.0 L278.5,65.5 L279.0,66.0 L279.5,66.5 L280.0,67.0 L280.5,67.5 L280.9,68.0 L281.3,68.5 L281.7,69.0 L282.1,69.5 L282.4,70.0 L282.8,70.5 L283.1,71.0 L283.3,71.5 L283.6,72.0 L283.8,72.5 L284.0,73.0 L284.2,73.5 L284.4,74.0 L284.5,74.5 L284.6,75.0 L284.7,75.5 L284.8,76.0 L284.9,76.5 L284.9,77.0 L285.0,77.5 L285.0,78.0 L285.0,78.5 L285.0,79.0 L284.9,79.5 L284.7,80.0 L284.4,80.5 L283.9,81.0 L283.3,81.5 L282.6,82.0 L281.9,82.5 L281.0,83.0 L280.1,83.5 L279.2,84.0 L278.2,84.5 L277.1,85.0 L276.1,85.5 L275.0,86.0 L273.9,86.5 L272.8,87.0 L271.7,87.5 L270.5,88.0 L269.4,88.5 L268.3,89.0 L267.1,89.5 L266.0,90.0 L264.9,90.5 L263.7,91.0 L262.6,91.5 L261.5,92.0 L260.4,92.5 L259.3,93.0 L258.2,93.5 L257.1,94.0 L256.0,94.5 L255.0,95.0 L253.9,95.5 L252.9,96.0 L251.9,96.5 L250.9,97.0 L249.9,97.5 L248.9,98.0 L247.9,98.5 L247.0,99.0 L246.0,99.5 L245.1,100.0 L244.2,100.5 L243.3,101.0 L242.5,101.5 L241.6,102.0 L240.8,102.5 L240.0,103.0 L239.2,103.5 L238.4,104.0 L237.6,104.5 L236.9,105.0 L236.2,105.5 L235.5,106.0 L234.9,106.5 L234.2,107.0 L233.6,107.5 L233.1,108.0 L232.5,108.5 L232.0,109.0 L231.5,109.5 L231.1,110.0 L230.7,110.5 L230.3,111.0 L230.0,111.5 L229.8,112.0" fill="none" stroke="#000" stroke-width="1.15" stroke-linejoin="round"/>
<path d="M229.60,11.00 L229.8,13.0 L229.9,13.5 L229.9,14.0 L229.9,14.5 L229.9,15.0 L230.0,15.5 L230.0,16.0 L230.1,16.5 L230.1,17.0 L230.2,17.5 L230.2,18.0 L230.3,18.5 L230.3,19.0 L230.4,19.5 L230.5,20.0 L230.6,20.5 L230.7,21.0 L230.8,21.5 L230.9,22.0 L231.0,22.5 L231.1,23.0 L231.2,23.5 L231.4,24.0 L231.5,24.5 L231.7,25.0 L231.9,25.5 L232.0,26.0 L232.2,26.5 L232.4,27.0 L232.7,27.5 L232.9,28.0 L233.1,28.5 L233.4,29.0 L233.7,29.5 L234.0,30.0 L234.3,30.5 L234.6,31.0 L234.9,31.5 L235.3,32.0 L235.7,32.5 L236.1,33.0 L236.5,33.5 L236.9,34.0 L237.3,34.5 L237.8,35.0 L238.3,35.5 L238.8,36.0 L239.3,36.5 L239.9,37.0 L240.4,37.5 L241.0,38.0 L241.6,38.5 L242.3,39.0 L242.9,39.5 L243.6,40.0 L244.3,40.5 L245.0,41.0 L245.7,41.5 L246.5,42.0 L247.2,42.5 L248.0,43.0 L248.8,43.5 L249.6,44.0 L250.4,44.5 L251.3,45.0 L252.1,45.5 L253.0,46.0 L253.9,46.5 L254.8,47.0 L255.7,47.5 L256.6,48.0 L257.5,48.5 L258.5,49.0 L259.4,49.5 L260.3,50.0 L261.3,50.5 L262.2,51.0 L263.2,51.5 L264.1,52.0 L265.1,52.5 L266.0,53.0 L266.9,53.5 L267.9,54.0 L268.8,54.5 L269.7,55.0 L270.6,55.5 L271.5,56.0 L272.4,56.5 L273.2,57.0 L274.1,57.5 L274.9,58.0 L275.7,58.5 L276.5,59.0 L277.3,59.5 L278.1,60.0 L278.8,60.5 L279.5,61.0 L280.2,61.5 L280.9,62.0 L281.5,62.5 L282.2,63.0 L282.7,63.5 L283.3,64.0 L283.8,64.5 L284.4,65.0 L284.8,65.5 L285.3,66.0 L285.7,66.5 L286.1,67.0 L286.5,67.5 L286.8,68.0 L287.1,68.5 L287.4,69.0 L287.7,69.5 L287.9,70.0 L288.1,70.5 L288.3,71.0 L288.5,71.5 L288.6,72.0 L288.7,72.5 L288.8,73.0 L288.9,73.5 L288.9,74.0 L289.0,74.5 L289.0,75.0 L289.0,75.5 L289.0,76.0 L288.8,76.5 L288.5,77.0 L288.1,77.5 L287.5,78.0 L286.8,78.5 L285.9,79.0 L285.0,79.5 L284.1,80.0 L283.0,80.5 L281.9,81.0 L280.8,81.5 L279.6,82.0 L278.4,82.5 L277.2,83.0 L276.0,83.5 L274.7,84.0 L273.5,84.5 L272.3,85.0 L271.0,85.5 L269.8,86.0 L268.6,86.5 L267.3,87.0 L266.1,87.5 L264.9,88.0 L263.7,88.5 L262.6,89.0 L261.4,89.5 L260.3,90.0 L259.1,90.5 L258.0,91.0 L256.9,91.5 L255.8,92.0 L254.8,92.5 L253.7,93.0 L252.7,93.5 L251.7,94.0 L250.7,94.5 L249.7,95.0 L248.8,95.5 L247.9,96.0 L247.0,96.5 L246.1,97.0 L245.2,97.5 L244.4,98.0 L243.6,98.5 L242.8,99.0 L242.0,99.5 L241.2,100.0 L240.5,100.5 L239.8,101.0 L239.1,101.5 L238.4,102.0 L237.8,102.5 L237.1,103.0 L236.5,103.5 L236.0,104.0 L235.4,104.5 L234.9,105.0 L234.4,105.5 L233.9,106.0 L233.4,106.5 L233.0,107.0 L232.6,107.5 L232.2,108.0 L231.9,108.5 L231.5,109.0 L231.2,109.5 L230.9,110.0 L230.7,110.5 L230.4,111.0 L230.2,111.5 L230.1,112.0 L229.9,112.5 L229.8,113.0 L229.60,149.90 Z" fill="#f57547" fill-opacity="0.11" stroke="none"/>
<path d="M229.8,13.0 L229.9,13.5 L229.9,14.0 L229.9,14.5 L229.9,15.0 L230.0,15.5 L230.0,16.0 L230.1,16.5 L230.1,17.0 L230.2,17.5 L230.2,18.0 L230.3,18.5 L230.3,19.0 L230.4,19.5 L230.5,20.0 L230.6,20.5 L230.7,21.0 L230.8,21.5 L230.9,22.0 L231.0,22.5 L231.1,23.0 L231.2,23.5 L231.4,24.0 L231.5,24.5 L231.7,25.0 L231.9,25.5 L232.0,26.0 L232.2,26.5 L232.4,27.0 L232.7,27.5 L232.9,28.0 L233.1,28.5 L233.4,29.0 L233.7,29.5 L234.0,30.0 L234.3,30.5 L234.6,31.0 L234.9,31.5 L235.3,32.0 L235.7,32.5 L236.1,33.0 L236.5,33.5 L236.9,34.0 L237.3,34.5 L237.8,35.0 L238.3,35.5 L238.8,36.0 L239.3,36.5 L239.9,37.0 L240.4,37.5 L241.0,38.0 L241.6,38.5 L242.3,39.0 L242.9,39.5 L243.6,40.0 L244.3,40.5 L245.0,41.0 L245.7,41.5 L246.5,42.0 L247.2,42.5 L248.0,43.0 L248.8,43.5 L249.6,44.0 L250.4,44.5 L251.3,45.0 L252.1,45.5 L253.0,46.0 L253.9,46.5 L254.8,47.0 L255.7,47.5 L256.6,48.0 L257.5,48.5 L258.5,49.0 L259.4,49.5 L260.3,50.0 L261.3,50.5 L262.2,51.0 L263.2,51.5 L264.1,52.0 L265.1,52.5 L266.0,53.0 L266.9,53.5 L267.9,54.0 L268.8,54.5 L269.7,55.0 L270.6,55.5 L271.5,56.0 L272.4,56.5 L273.2,57.0 L274.1,57.5 L274.9,58.0 L275.7,58.5 L276.5,59.0 L277.3,59.5 L278.1,60.0 L278.8,60.5 L279.5,61.0 L280.2,61.5 L280.9,62.0 L281.5,62.5 L282.2,63.0 L282.7,63.5 L283.3,64.0 L283.8,64.5 L284.4,65.0 L284.8,65.5 L285.3,66.0 L285.7,66.5 L286.1,67.0 L286.5,67.5 L286.8,68.0 L287.1,68.5 L287.4,69.0 L287.7,69.5 L287.9,70.0 L288.1,70.5 L288.3,71.0 L288.5,71.5 L288.6,72.0 L288.7,72.5 L288.8,73.0 L288.9,73.5 L288.9,74.0 L289.0,74.5 L289.0,75.0 L289.0,75.5 L289.0,76.0 L288.8,76.5 L288.5,77.0 L288.1,77.5 L287.5,78.0 L286.8,78.5 L285.9,79.0 L285.0,79.5 L284.1,80.0 L283.0,80.5 L281.9,81.0 L280.8,81.5 L279.6,82.0 L278.4,82.5 L277.2,83.0 L276.0,83.5 L274.7,84.0 L273.5,84.5 L272.3,85.0 L271.0,85.5 L269.8,86.0 L268.6,86.5 L267.3,87.0 L266.1,87.5 L264.9,88.0 L263.7,88.5 L262.6,89.0 L261.4,89.5 L260.3,90.0 L259.1,90.5 L258.0,91.0 L256.9,91.5 L255.8,92.0 L254.8,92.5 L253.7,93.0 L252.7,93.5 L251.7,94.0 L250.7,94.5 L249.7,95.0 L248.8,95.5 L247.9,96.0 L247.0,96.5 L246.1,97.0 L245.2,97.5 L244.4,98.0 L243.6,98.5 L242.8,99.0 L242.0,99.5 L241.2,100.0 L240.5,100.5 L239.8,101.0 L239.1,101.5 L238.4,102.0 L237.8,102.5 L237.1,103.0 L236.5,103.5 L236.0,104.0 L235.4,104.5 L234.9,105.0 L234.4,105.5 L233.9,106.0 L233.4,106.5 L233.0,107.0 L232.6,107.5 L232.2,108.0 L231.9,108.5 L231.5,109.0 L231.2,109.5 L230.9,110.0 L230.7,110.5 L230.4,111.0 L230.2,111.5 L230.1,112.0 L229.9,112.5 L229.8,113.0" fill="none" stroke="#000" stroke-width="1.15" stroke-linejoin="round"/>
<path d="M229.60,11.00 L229.8,11.0 L229.9,11.5 L229.9,12.0 L229.9,12.5 L230.0,13.0 L230.0,13.5 L230.1,14.0 L230.1,14.5 L230.2,15.0 L230.2,15.5 L230.3,16.0 L230.3,16.5 L230.4,17.0 L230.5,17.5 L230.6,18.0 L230.7,18.5 L230.8,19.0 L230.9,19.5 L231.0,20.0 L231.1,20.5 L231.3,21.0 L231.4,21.5 L231.6,22.0 L231.7,22.5 L231.9,23.0 L232.1,23.5 L232.3,24.0 L232.5,24.5 L232.7,25.0 L233.0,25.5 L233.3,26.0 L233.5,26.5 L233.8,27.0 L234.1,27.5 L234.5,28.0 L234.8,28.5 L235.2,29.0 L235.5,29.5 L235.9,30.0 L236.4,30.5 L236.8,31.0 L237.3,31.5 L237.7,32.0 L238.3,32.5 L238.8,33.0 L239.3,33.5 L239.9,34.0 L240.5,34.5 L241.1,35.0 L241.7,35.5 L242.4,36.0 L243.1,36.5 L243.8,37.0 L244.5,37.5 L245.2,38.0 L246.0,38.5 L246.8,39.0 L247.6,39.5 L248.4,40.0 L249.3,40.5 L250.2,41.0 L251.0,41.5 L251.9,42.0 L252.9,42.5 L253.8,43.0 L254.7,43.5 L255.7,44.0 L256.7,44.5 L257.7,45.0 L258.7,45.5 L259.7,46.0 L260.7,46.5 L261.7,47.0 L262.7,47.5 L263.7,48.0 L264.8,48.5 L265.8,49.0 L266.8,49.5 L267.8,50.0 L268.9,50.5 L269.9,51.0 L270.9,51.5 L271.9,52.0 L272.9,52.5 L273.9,53.0 L274.8,53.5 L275.8,54.0 L276.7,54.5 L277.6,55.0 L278.5,55.5 L279.4,56.0 L280.2,56.5 L281.1,57.0 L281.9,57.5 L282.7,58.0 L283.4,58.5 L284.1,59.0 L284.9,59.5 L285.5,60.0 L286.2,60.5 L286.8,61.0 L287.4,61.5 L287.9,62.0 L288.5,62.5 L289.0,63.0 L289.4,63.5 L289.9,64.0 L290.3,64.5 L290.7,65.0 L291.0,65.5 L291.3,66.0 L291.6,66.5 L291.9,67.0 L292.1,67.5 L292.3,68.0 L292.5,68.5 L292.7,69.0 L292.9,69.5 L293.0,70.0 L293.2,70.5 L293.3,71.0 L293.5,71.5 L293.6,72.0 L293.8,72.5 L294.0,73.0 L294.1,73.5 L294.1,74.0 L294.1,74.5 L294.0,75.0 L293.9,75.5 L293.7,76.0 L293.6,76.5 L293.4,77.0 L293.3,77.5 L293.1,78.0 L293.0,78.5 L292.9,79.0 L292.8,79.5 L292.6,80.0 L292.5,80.5 L292.3,81.0 L292.0,81.5 L291.6,82.0 L291.2,82.5 L290.6,83.0 L289.9,83.5 L289.0,84.0 L288.0,84.5 L286.8,85.0 L285.6,85.5 L284.3,86.0 L282.9,86.5 L281.4,87.0 L279.9,87.5 L278.3,88.0 L276.6,88.5 L275.0,89.0 L273.2,89.5 L271.5,90.0 L269.7,90.5 L268.0,91.0 L266.2,91.5 L264.5,92.0 L262.7,92.5 L261.0,93.0 L259.3,93.5 L257.6,94.0 L256.0,94.5 L254.4,95.0 L252.9,95.5 L251.4,96.0 L250.0,96.5 L248.6,97.0 L247.3,97.5 L246.0,98.0 L244.8,98.5 L243.6,99.0 L242.4,99.5 L241.4,100.0 L240.3,100.5 L239.3,101.0 L238.4,101.5 L237.5,102.0 L236.6,102.5 L235.8,103.0 L235.0,103.5 L234.3,104.0 L233.6,104.5 L232.9,105.0 L232.3,105.5 L231.7,106.0 L231.2,106.5 L230.7,107.0 L230.3,107.5 L229.9,108.0 L229.7,108.5 L229.60,149.90 Z" fill="#f36b43" fill-opacity="0.11" stroke="none"/>
<path d="M229.8,11.0 L229.9,11.5 L229.9,12.0 L229.9,12.5 L230.0,13.0 L230.0,13.5 L230.1,14.0 L230.1,14.5 L230.2,15.0 L230.2,15.5 L230.3,16.0 L230.3,16.5 L230.4,17.0 L230.5,17.5 L230.6,18.0 L230.7,18.5 L230.8,19.0 L230.9,19.5 L231.0,20.0 L231.1,20.5 L231.3,21.0 L231.4,21.5 L231.6,22.0 L231.7,22.5 L231.9,23.0 L232.1,23.5 L232.3,24.0 L232.5,24.5 L232.7,25.0 L233.0,25.5 L233.3,26.0 L233.5,26.5 L233.8,27.0 L234.1,27.5 L234.5,28.0 L234.8,28.5 L235.2,29.0 L235.5,29.5 L235.9,30.0 L236.4,30.5 L236.8,31.0 L237.3,31.5 L237.7,32.0 L238.3,32.5 L238.8,33.0 L239.3,33.5 L239.9,34.0 L240.5,34.5 L241.1,35.0 L241.7,35.5 L242.4,36.0 L243.1,36.5 L243.8,37.0 L244.5,37.5 L245.2,38.0 L246.0,38.5 L246.8,39.0 L247.6,39.5 L248.4,40.0 L249.3,40.5 L250.2,41.0 L251.0,41.5 L251.9,42.0 L252.9,42.5 L253.8,43.0 L254.7,43.5 L255.7,44.0 L256.7,44.5 L257.7,45.0 L258.7,45.5 L259.7,46.0 L260.7,46.5 L261.7,47.0 L262.7,47.5 L263.7,48.0 L264.8,48.5 L265.8,49.0 L266.8,49.5 L267.8,50.0 L268.9,50.5 L269.9,51.0 L270.9,51.5 L271.9,52.0 L272.9,52.5 L273.9,53.0 L274.8,53.5 L275.8,54.0 L276.7,54.5 L277.6,55.0 L278.5,55.5 L279.4,56.0 L280.2,56.5 L281.1,57.0 L281.9,57.5 L282.7,58.0 L283.4,58.5 L284.1,59.0 L284.9,59.5 L285.5,60.0 L286.2,60.5 L286.8,61.0 L287.4,61.5 L287.9,62.0 L288.5,62.5 L289.0,63.0 L289.4,63.5 L289.9,64.0 L290.3,64.5 L290.7,65.0 L291.0,65.5 L291.3,66.0 L291.6,66.5 L291.9,67.0 L292.1,67.5 L292.3,68.0 L292.5,68.5 L292.7,69.0 L292.9,69.5 L293.0,70.0 L293.2,70.5 L293.3,71.0 L293.5,71.5 L293.6,72.0 L293.8,72.5 L294.0,73.0 L294.1,73.5 L294.1,74.0 L294.1,74.5 L294.0,75.0 L293.9,75.5 L293.7,76.0 L293.6,76.5 L293.4,77.0 L293.3,77.5 L293.1,78.0 L293.0,78.5 L292.9,79.0 L292.8,79.5 L292.6,80.0 L292.5,80.5 L292.3,81.0 L292.0,81.5 L291.6,82.0 L291.2,82.5 L290.6,83.0 L289.9,83.5 L289.0,84.0 L288.0,84.5 L286.8,85.0 L285.6,85.5 L284.3,86.0 L282.9,86.5 L281.4,87.0 L279.9,87.5 L278.3,88.0 L276.6,88.5 L275.0,89.0 L273.2,89.5 L271.5,90.0 L269.7,90.5 L268.0,91.0 L266.2,91.5 L264.5,92.0 L262.7,92.5 L261.0,93.0 L259.3,93.5 L257.6,94.0 L256.0,94.5 L254.4,95.0 L252.9,95.5 L251.4,96.0 L250.0,96.5 L248.6,97.0 L247.3,97.5 L246.0,98.0 L244.8,98.5 L243.6,99.0 L242.4,99.5 L241.4,100.0 L240.3,100.5 L239.3,101.0 L238.4,101.5 L237.5,102.0 L236.6,102.5 L235.8,103.0 L235.0,103.5 L234.3,104.0 L233.6,104.5 L232.9,105.0 L232.3,105.5 L231.7,106.0 L231.2,106.5 L230.7,107.0 L230.3,107.5 L229.9,108.0 L229.7,108.5" fill="none" stroke="#000" stroke-width="1.15" stroke-linejoin="round"/>
<path d="M229.60,11.00 L229.8,12.5 L229.9,13.0 L229.9,13.5 L229.9,14.0 L230.0,14.5 L230.0,15.0 L230.1,15.5 L230.1,16.0 L230.2,16.5 L230.3,17.0 L230.3,17.5 L230.4,18.0 L230.5,18.5 L230.6,19.0 L230.7,19.5 L230.8,20.0 L231.0,20.5 L231.1,21.0 L231.3,21.5 L231.5,22.0 L231.7,22.5 L231.9,23.0 L232.1,23.5 L232.3,24.0 L232.6,24.5 L232.9,25.0 L233.2,25.5 L233.5,26.0 L233.8,26.5 L234.2,27.0 L234.6,27.5 L235.0,28.0 L235.4,28.5 L235.9,29.0 L236.4,29.5 L236.9,30.0 L237.5,30.5 L238.0,31.0 L238.7,31.5 L239.3,32.0 L240.0,32.5 L240.7,33.0 L241.4,33.5 L242.2,34.0 L243.0,34.5 L243.8,35.0 L244.7,35.5 L245.6,36.0 L246.6,36.5 L247.5,37.0 L248.5,37.5 L249.5,38.0 L250.6,38.5 L251.7,39.0 L252.8,39.5 L253.9,40.0 L255.1,40.5 L256.2,41.0 L257.4,41.5 L258.7,42.0 L259.9,42.5 L261.1,43.0 L262.4,43.5 L263.7,44.0 L264.9,44.5 L266.2,45.0 L267.5,45.5 L268.8,46.0 L270.1,46.5 L271.3,47.0 L272.6,47.5 L273.9,48.0 L275.1,48.5 L276.4,49.0 L277.6,49.5 L278.8,50.0 L280.0,50.5 L281.1,51.0 L282.2,51.5 L283.3,52.0 L284.4,52.5 L285.4,53.0 L286.4,53.5 L287.4,54.0 L288.3,54.5 L289.2,55.0 L290.0,55.5 L290.8,56.0 L291.6,56.5 L292.3,57.0 L293.0,57.5 L293.6,58.0 L294.2,58.5 L294.7,59.0 L295.2,59.5 L295.7,60.0 L296.1,60.5 L296.4,61.0 L296.8,61.5 L297.0,62.0 L297.3,62.5 L297.5,63.0 L297.6,63.5 L297.8,64.0 L297.9,64.5 L297.9,65.0 L298.0,65.5 L298.0,66.0 L298.0,66.5 L297.9,67.0 L297.6,67.5 L297.2,68.0 L296.7,68.5 L296.0,69.0 L295.3,69.5 L294.4,70.0 L293.5,70.5 L292.5,71.0 L291.5,71.5 L290.4,72.0 L289.3,72.5 L288.1,73.0 L287.0,73.5 L285.8,74.0 L284.6,74.5 L283.4,75.0 L282.2,75.5 L281.0,76.0 L279.8,76.5 L278.5,77.0 L277.3,77.5 L276.1,78.0 L274.9,78.5 L273.7,79.0 L272.5,79.5 L271.4,80.0 L270.2,80.5 L269.0,81.0 L267.9,81.5 L266.8,82.0 L265.6,82.5 L264.5,83.0 L263.4,83.5 L262.4,84.0 L261.3,84.5 L260.2,85.0 L259.2,85.5 L258.2,86.0 L257.1,86.5 L256.1,87.0 L255.2,87.5 L254.2,88.0 L253.2,88.5 L252.3,89.0 L251.4,89.5 L250.5,90.0 L249.6,90.5 L248.7,91.0 L247.8,91.5 L247.0,92.0 L246.2,92.5 L245.4,93.0 L244.6,93.5 L243.8,94.0 L243.1,94.5 L242.3,95.0 L241.6,95.5 L240.9,96.0 L240.2,96.5 L239.6,97.0 L238.9,97.5 L238.3,98.0 L237.7,98.5 L237.1,99.0 L236.6,99.5 L236.0,100.0 L235.5,100.5 L235.0,101.0 L234.5,101.5 L234.0,102.0 L233.6,102.5 L233.2,103.0 L232.8,103.5 L232.4,104.0 L232.0,104.5 L231.7,105.0 L231.4,105.5 L231.1,106.0 L230.8,106.5 L230.6,107.0 L230.3,107.5 L230.1,108.0 L230.0,108.5 L229.8,109.0 L229.60,149.90 Z" fill="#ee6445" fill-opacity="0.11" stroke="none"/>
<path d="M229.8,12.5 L229.9,13.0 L229.9,13.5 L229.9,14.0 L230.0,14.5 L230.0,15.0 L230.1,15.5 L230.1,16.0 L230.2,16.5 L230.3,17.0 L230.3,17.5 L230.4,18.0 L230.5,18.5 L230.6,19.0 L230.7,19.5 L230.8,20.0 L231.0,20.5 L231.1,21.0 L231.3,21.5 L231.5,22.0 L231.7,22.5 L231.9,23.0 L232.1,23.5 L232.3,24.0 L232.6,24.5 L232.9,25.0 L233.2,25.5 L233.5,26.0 L233.8,26.5 L234.2,27.0 L234.6,27.5 L235.0,28.0 L235.4,28.5 L235.9,29.0 L236.4,29.5 L236.9,30.0 L237.5,30.5 L238.0,31.0 L238.7,31.5 L239.3,32.0 L240.0,32.5 L240.7,33.0 L241.4,33.5 L242.2,34.0 L243.0,34.5 L243.8,35.0 L244.7,35.5 L245.6,36.0 L246.6,36.5 L247.5,37.0 L248.5,37.5 L249.5,38.0 L250.6,38.5 L251.7,39.0 L252.8,39.5 L253.9,40.0 L255.1,40.5 L256.2,41.0 L257.4,41.5 L258.7,42.0 L259.9,42.5 L261.1,43.0 L262.4,43.5 L263.7,44.0 L264.9,44.5 L266.2,45.0 L267.5,45.5 L268.8,46.0 L270.1,46.5 L271.3,47.0 L272.6,47.5 L273.9,48.0 L275.1,48.5 L276.4,49.0 L277.6,49.5 L278.8,50.0 L280.0,50.5 L281.1,51.0 L282.2,51.5 L283.3,52.0 L284.4,52.5 L285.4,53.0 L286.4,53.5 L287.4,54.0 L288.3,54.5 L289.2,55.0 L290.0,55.5 L290.8,56.0 L291.6,56.5 L292.3,57.0 L293.0,57.5 L293.6,58.0 L294.2,58.5 L294.7,59.0 L295.2,59.5 L295.7,60.0 L296.1,60.5 L296.4,61.0 L296.8,61.5 L297.0,62.0 L297.3,62.5 L297.5,63.0 L297.6,63.5 L297.8,64.0 L297.9,64.5 L297.9,65.0 L298.0,65.5 L298.0,66.0 L298.0,66.5 L297.9,67.0 L297.6,67.5 L297.2,68.0 L296.7,68.5 L296.0,69.0 L295.3,69.5 L294.4,70.0 L293.5,70.5 L292.5,71.0 L291.5,71.5 L290.4,72.0 L289.3,72.5 L288.1,73.0 L287.0,73.5 L285.8,74.0 L284.6,74.5 L283.4,75.0 L282.2,75.5 L281.0,76.0 L279.8,76.5 L278.5,77.0 L277.3,77.5 L276.1,78.0 L274.9,78.5 L273.7,79.0 L272.5,79.5 L271.4,80.0 L270.2,80.5 L269.0,81.0 L267.9,81.5 L266.8,82.0 L265.6,82.5 L264.5,83.0 L263.4,83.5 L262.4,84.0 L261.3,84.5 L260.2,85.0 L259.2,85.5 L258.2,86.0 L257.1,86.5 L256.1,87.0 L255.2,87.5 L254.2,88.0 L253.2,88.5 L252.3,89.0 L251.4,89.5 L250.5,90.0 L249.6,90.5 L248.7,91.0 L247.8,91.5 L247.0,92.0 L246.2,92.5 L245.4,93.0 L244.6,93.5 L243.8,94.0 L243.1,94.5 L242.3,95.0 L241.6,95.5 L240.9,96.0 L240.2,96.5 L239.6,97.0 L238.9,97.5 L238.3,98.0 L237.7,98.5 L237.1,99.0 L236.6,99.5 L236.0,100.0 L235.5,100.5 L235.0,101.0 L234.5,101.5 L234.0,102.0 L233.6,102.5 L233.2,103.0 L232.8,103.5 L232.4,104.0 L232.0,104.5 L231.7,105.0 L231.4,105.5 L231.1,106.0 L230.8,106.5 L230.6,107.0 L230.3,107.5 L230.1,108.0 L230.0,108.5 L229.8,109.0" fill="none" stroke="#000" stroke-width="1.15" stroke-linejoin="round"/>
<path d="M229.60,11.00 L229.8,13.5 L229.9,14.0 L229.9,14.5 L229.9,15.0 L230.0,15.5 L230.1,16.0 L230.1,16.5 L230.2,17.0 L230.3,17.5 L230.4,18.0 L230.5,18.5 L230.6,19.0 L230.7,19.5 L230.9,20.0 L231.0,20.5 L231.2,21.0 L231.4,21.5 L231.6,22.0 L231.9,22.5 L232.1,23.0 L232.4,23.5 L232.7,24.0 L233.1,24.5 L233.5,25.0 L233.9,25.5 L234.3,26.0 L234.8,26.5 L235.3,27.0 L235.8,27.5 L236.4,28.0 L237.0,28.5 L237.7,29.0 L238.4,29.5 L239.2,30.0 L240.0,30.5 L240.8,31.0 L241.7,31.5 L242.7,32.0 L243.6,32.5 L244.7,33.0 L245.8,33.5 L246.9,34.0 L248.1,34.5 L249.3,35.0 L250.5,35.5 L251.8,36.0 L253.2,36.5 L254.6,37.0 L256.0,37.5 L257.4,38.0 L258.9,38.5 L260.4,39.0 L262.0,39.5 L263.5,40.0 L265.1,40.5 L266.7,41.0 L268.3,41.5 L269.9,42.0 L271.5,42.5 L273.1,43.0 L274.7,43.5 L276.3,44.0 L277.9,44.5 L279.5,45.0 L281.0,45.5 L282.5,46.0 L284.0,46.5 L285.4,47.0 L286.8,47.5 L288.2,48.0 L289.5,48.5 L290.8,49.0 L292.0,49.5 L293.1,50.0 L294.2,50.5 L295.3,51.0 L296.3,51.5 L297.2,52.0 L298.0,52.5 L298.8,53.0 L299.5,53.5 L300.2,54.0 L300.8,54.5 L301.3,55.0 L301.8,55.5 L302.2,56.0 L302.5,56.5 L302.8,57.0 L303.0,57.5 L303.2,58.0 L303.3,58.5 L303.4,59.0 L303.5,59.5 L303.5,60.0 L303.5,60.5 L303.3,61.0 L303.1,61.5 L302.7,62.0 L302.2,62.5 L301.6,63.0 L300.9,63.5 L300.2,64.0 L299.4,64.5 L298.5,65.0 L297.6,65.5 L296.7,66.0 L295.7,66.5 L294.7,67.0 L293.7,67.5 L292.7,68.0 L291.6,68.5 L290.5,69.0 L289.5,69.5 L288.4,70.0 L287.3,70.5 L286.2,71.0 L285.1,71.5 L284.0,72.0 L282.9,72.5 L281.8,73.0 L280.7,73.5 L279.6,74.0 L278.5,74.5 L277.5,75.0 L276.4,75.5 L275.3,76.0 L274.2,76.5 L273.1,77.0 L272.1,77.5 L271.0,78.0 L269.9,78.5 L268.9,79.0 L267.8,79.5 L266.8,80.0 L265.8,80.5 L264.7,81.0 L263.7,81.5 L262.7,82.0 L261.7,82.5 L260.7,83.0 L259.7,83.5 L258.8,84.0 L257.8,84.5 L256.8,85.0 L255.9,85.5 L254.9,86.0 L254.0,86.5 L253.1,87.0 L252.1,87.5 L251.2,88.0 L250.3,88.5 L249.5,89.0 L248.6,89.5 L247.7,90.0 L246.9,90.5 L246.0,91.0 L245.2,91.5 L244.4,92.0 L243.6,92.5 L242.8,93.0 L242.0,93.5 L241.2,94.0 L240.5,94.5 L239.8,95.0 L239.0,95.5 L238.3,96.0 L237.6,96.5 L237.0,97.0 L236.3,97.5 L235.7,98.0 L235.0,98.5 L234.4,99.0 L233.9,99.5 L233.3,100.0 L232.8,100.5 L232.3,101.0 L231.8,101.5 L231.3,102.0 L230.9,102.5 L230.5,103.0 L230.2,103.5 L229.9,104.0 L229.7,104.5 L229.60,149.90 Z" fill="#d53e4f" fill-opacity="0.2" stroke="none"/>
<path d="M229.8,13.5 L229.9,14.0 L229.9,14.5 L229.9,15.0 L230.0,15.5 L230.1,16.0 L230.1,16.5 L230.2,17.0 L230.3,17.5 L230.4,18.0 L230.5,18.5 L230.6,19.0 L230.7,19.5 L230.9,20.0 L231.0,20.5 L231.2,21.0 L231.4,21.5 L231.6,22.0 L231.9,22.5 L232.1,23.0 L232.4,23.5 L232.7,24.0 L233.1,24.5 L233.5,25.0 L233.9,25.5 L234.3,26.0 L234.8,26.5 L235.3,27.0 L235.8,27.5 L236.4,28.0 L237.0,28.5 L237.7,29.0 L238.4,29.5 L239.2,30.0 L240.0,30.5 L240.8,31.0 L241.7,31.5 L242.7,32.0 L243.6,32.5 L244.7,33.0 L245.8,33.5 L246.9,34.0 L248.1,34.5 L249.3,35.0 L250.5,35.5 L251.8,36.0 L253.2,36.5 L254.6,37.0 L256.0,37.5 L257.4,38.0 L258.9,38.5 L260.4,39.0 L262.0,39.5 L263.5,40.0 L265.1,40.5 L266.7,41.0 L268.3,41.5 L269.9,42.0 L271.5,42.5 L273.1,43.0 L274.7,43.5 L276.3,44.0 L277.9,44.5 L279.5,45.0 L281.0,45.5 L282.5,46.0 L284.0,46.5 L285.4,47.0 L286.8,47.5 L288.2,48.0 L289.5,48.5 L290.8,49.0 L292.0,49.5 L293.1,50.0 L294.2,50.5 L295.3,51.0 L296.3,51.5 L297.2,52.0 L298.0,52.5 L298.8,53.0 L299.5,53.5 L300.2,54.0 L300.8,54.5 L301.3,55.0 L301.8,55.5 L302.2,56.0 L302.5,56.5 L302.8,57.0 L303.0,57.5 L303.2,58.0 L303.3,58.5 L303.4,59.0 L303.5,59.5 L303.5,60.0 L303.5,60.5 L303.3,61.0 L303.1,61.5 L302.7,62.0 L302.2,62.5 L301.6,63.0 L300.9,63.5 L300.2,64.0 L299.4,64.5 L298.5,65.0 L297.6,65.5 L296.7,66.0 L295.7,66.5 L294.7,67.0 L293.7,67.5 L292.7,68.0 L291.6,68.5 L290.5,69.0 L289.5,69.5 L288.4,70.0 L287.3,70.5 L286.2,71.0 L285.1,71.5 L284.0,72.0 L282.9,72.5 L281.8,73.0 L280.7,73.5 L279.6,74.0 L278.5,74.5 L277.5,75.0 L276.4,75.5 L275.3,76.0 L274.2,76.5 L273.1,77.0 L272.1,77.5 L271.0,78.0 L269.9,78.5 L268.9,79.0 L267.8,79.5 L266.8,80.0 L265.8,80.5 L264.7,81.0 L263.7,81.5 L262.7,82.0 L261.7,82.5 L260.7,83.0 L259.7,83.5 L258.8,84.0 L257.8,84.5 L256.8,85.0 L255.9,85.5 L254.9,86.0 L254.0,86.5 L253.1,87.0 L252.1,87.5 L251.2,88.0 L250.3,88.5 L249.5,89.0 L248.6,89.5 L247.7,90.0 L246.9,90.5 L246.0,91.0 L245.2,91.5 L244.4,92.0 L243.6,92.5 L242.8,93.0 L242.0,93.5 L241.2,94.0 L240.5,94.5 L239.8,95.0 L239.0,95.5 L238.3,96.0 L237.6,96.5 L237.0,97.0 L236.3,97.5 L235.7,98.0 L235.0,98.5 L234.4,99.0 L233.9,99.5 L233.3,100.0 L232.8,100.5 L232.3,101.0 L231.8,101.5 L231.3,102.0 L230.9,102.5 L230.5,103.0 L230.2,103.5 L229.9,104.0 L229.7,104.5" fill="none" stroke="#000" stroke-width="1.15" stroke-linejoin="round"/>
<line x1="230.30" y1="220.10" x2="230.30" y2="359.50" stroke="#000" stroke-width="1"/>
<path d="M230.30,258.00 C230.38,258.67 230.18,259.00 230.80,262.00 C231.42,265.00 231.47,271.33 234.00,276.00 C236.53,280.67 239.50,286.53 246.00,290.00 C252.50,293.47 262.88,295.10 273.00,296.80 C283.12,298.50 298.57,299.37 306.70,300.20 C314.83,301.03 321.25,300.97 321.80,301.80 C322.35,302.63 314.77,303.78 310.00,305.20 C305.23,306.62 299.92,308.62 293.20,310.30 C286.48,311.98 277.53,313.63 269.70,315.30 C261.87,316.97 251.82,318.35 246.20,320.30 C240.58,322.25 238.37,324.38 236.00,327.00 C233.63,329.62 232.87,333.17 232.00,336.00 C231.13,338.83 231.08,342.00 230.80,344.00 C230.52,346.00 230.38,347.33 230.30,348.00 Z" fill="#4ba4b1" fill-opacity="0.18" stroke="none"/>
<path d="M230.30,258.00 C230.38,258.67 230.18,259.00 230.80,262.00 C231.42,265.00 231.47,271.33 234.00,276.00 C236.53,280.67 239.50,286.53 246.00,290.00 C252.50,293.47 262.88,295.10 273.00,296.80 C283.12,298.50 298.57,299.37 306.70,300.20 C314.83,301.03 321.25,300.97 321.80,301.80 C322.35,302.63 314.77,303.78 310.00,305.20 C305.23,306.62 299.92,308.62 293.20,310.30 C286.48,311.98 277.53,313.63 269.70,315.30 C261.87,316.97 251.82,318.35 246.20,320.30 C240.58,322.25 238.37,324.38 236.00,327.00 C233.63,329.62 232.87,333.17 232.00,336.00 C231.13,338.83 231.08,342.00 230.80,344.00 C230.52,346.00 230.38,347.33 230.30,348.00" fill="none" stroke="#000" stroke-width="1.8" stroke-linejoin="round"/>
<path d="M230.30,258.60 C230.38,259.27 230.19,259.60 230.79,262.60 C231.38,265.60 231.43,271.93 233.89,276.60 C236.35,281.27 239.22,287.13 245.53,290.60 C251.83,294.07 261.91,295.70 271.72,297.40 C281.53,299.10 296.52,299.97 304.41,300.80 C312.30,301.63 318.52,301.57 319.06,302.40 C319.59,303.23 312.23,304.38 307.61,305.80 C302.99,307.22 297.83,309.22 291.31,310.90 C284.80,312.58 276.12,314.23 268.52,315.90 C260.92,317.57 251.17,318.95 245.72,320.90 C240.27,322.85 238.12,324.98 235.83,327.60 C233.53,330.22 232.79,333.77 231.95,336.60 C231.11,339.43 231.06,342.60 230.79,344.60 C230.51,346.60 230.38,347.93 230.30,348.60 Z" fill="#6ec5a5" fill-opacity="0.18" stroke="none"/>
<path d="M230.30,258.60 C230.38,259.27 230.19,259.60 230.79,262.60 C231.38,265.60 231.43,271.93 233.89,276.60 C236.35,281.27 239.22,287.13 245.53,290.60 C251.83,294.07 261.91,295.70 271.72,297.40 C281.53,299.10 296.52,299.97 304.41,300.80 C312.30,301.63 318.52,301.57 319.06,302.40 C319.59,303.23 312.23,304.38 307.61,305.80 C302.99,307.22 297.83,309.22 291.31,310.90 C284.80,312.58 276.12,314.23 268.52,315.90 C260.92,317.57 251.17,318.95 245.72,320.90 C240.27,322.85 238.12,324.98 235.83,327.60 C233.53,330.22 232.79,333.77 231.95,336.60 C231.11,339.43 231.06,342.60 230.79,344.60 C230.51,346.60 230.38,347.93 230.30,348.60" fill="none" stroke="#000" stroke-width="1.2" stroke-linejoin="round"/>
<path d="M230.30,262.00 C230.38,262.67 229.18,263.00 230.80,266.00 C232.42,269.00 234.80,276.17 240.00,280.00 C245.20,283.83 253.67,286.00 262.00,289.00 C270.33,292.00 281.33,295.42 290.00,298.00 C298.67,300.58 311.50,302.83 314.00,304.50 C316.50,306.17 309.83,306.67 305.00,308.00 C300.17,309.33 292.17,311.00 285.00,312.50 C277.83,314.00 268.67,315.42 262.00,317.00 C255.33,318.58 249.33,320.00 245.00,322.00 C240.67,324.00 238.25,326.33 236.00,329.00 C233.75,331.67 232.37,335.17 231.50,338.00 C230.63,340.83 231.00,344.00 230.80,346.00 C230.60,348.00 230.38,349.33 230.30,350.00 Z" fill="#a5dba4" fill-opacity="0.18" stroke="none"/>
<path d="M230.30,262.00 C230.38,262.67 229.18,263.00 230.80,266.00 C232.42,269.00 234.80,276.17 240.00,280.00 C245.20,283.83 253.67,286.00 262.00,289.00 C270.33,292.00 281.33,295.42 290.00,298.00 C298.67,300.58 311.50,302.83 314.00,304.50 C316.50,306.17 309.83,306.67 305.00,308.00 C300.17,309.33 292.17,311.00 285.00,312.50 C277.83,314.00 268.67,315.42 262.00,317.00 C255.33,318.58 249.33,320.00 245.00,322.00 C240.67,324.00 238.25,326.33 236.00,329.00 C233.75,331.67 232.37,335.17 231.50,338.00 C230.63,340.83 231.00,344.00 230.80,346.00 C230.60,348.00 230.38,349.33 230.30,350.00" fill="none" stroke="#000" stroke-width="1.2" stroke-linejoin="round"/>
<path d="M230.30,264.00 C230.38,264.67 228.85,264.67 230.80,268.00 C232.75,271.33 236.80,279.83 242.00,284.00 C247.20,288.17 254.33,290.00 262.00,293.00 C269.67,296.00 280.50,299.42 288.00,302.00 C295.50,304.58 305.67,306.83 307.00,308.50 C308.33,310.17 301.33,310.75 296.00,312.00 C290.67,313.25 282.00,314.67 275.00,316.00 C268.00,317.33 259.67,318.33 254.00,320.00 C248.33,321.67 244.33,323.67 241.00,326.00 C237.67,328.33 235.70,330.50 234.00,334.00 C232.30,337.50 231.42,344.17 230.80,347.00 C230.18,349.83 230.38,350.33 230.30,351.00 Z" fill="#c3e79f" fill-opacity="0.18" stroke="none"/>
<path d="M230.30,264.00 C230.38,264.67 228.85,264.67 230.80,268.00 C232.75,271.33 236.80,279.83 242.00,284.00 C247.20,288.17 254.33,290.00 262.00,293.00 C269.67,296.00 280.50,299.42 288.00,302.00 C295.50,304.58 305.67,306.83 307.00,308.50 C308.33,310.17 301.33,310.75 296.00,312.00 C290.67,313.25 282.00,314.67 275.00,316.00 C268.00,317.33 259.67,318.33 254.00,320.00 C248.33,321.67 244.33,323.67 241.00,326.00 C237.67,328.33 235.70,330.50 234.00,334.00 C232.30,337.50 231.42,344.17 230.80,347.00 C230.18,349.83 230.38,350.33 230.30,351.00" fill="none" stroke="#000" stroke-width="1.2" stroke-linejoin="round"/>
<path d="M230.30,266.00 C230.38,266.67 228.52,266.33 230.80,270.00 C233.08,273.67 238.80,283.50 244.00,288.00 C249.20,292.50 255.17,294.17 262.00,297.00 C268.83,299.83 278.67,302.67 285.00,305.00 C291.33,307.33 299.50,309.50 300.00,311.00 C300.50,312.50 293.67,312.83 288.00,314.00 C282.33,315.17 272.67,316.50 266.00,318.00 C259.33,319.50 252.67,321.00 248.00,323.00 C243.33,325.00 240.67,327.50 238.00,330.00 C235.33,332.50 233.20,335.00 232.00,338.00 C230.80,341.00 231.08,345.67 230.80,348.00 C230.52,350.33 230.38,351.33 230.30,352.00 Z" fill="#d5ee9b" fill-opacity="0.18" stroke="none"/>
<path d="M230.30,266.00 C230.38,266.67 228.52,266.33 230.80,270.00 C233.08,273.67 238.80,283.50 244.00,288.00 C249.20,292.50 255.17,294.17 262.00,297.00 C268.83,299.83 278.67,302.67 285.00,305.00 C291.33,307.33 299.50,309.50 300.00,311.00 C300.50,312.50 293.67,312.83 288.00,314.00 C282.33,315.17 272.67,316.50 266.00,318.00 C259.33,319.50 252.67,321.00 248.00,323.00 C243.33,325.00 240.67,327.50 238.00,330.00 C235.33,332.50 233.20,335.00 232.00,338.00 C230.80,341.00 231.08,345.67 230.80,348.00 C230.52,350.33 230.38,351.33 230.30,352.00" fill="none" stroke="#000" stroke-width="1.2" stroke-linejoin="round"/>
<path d="M230.30,268.00 C230.38,268.67 228.52,268.00 230.80,272.00 C233.08,276.00 239.13,287.17 244.00,292.00 C248.87,296.83 254.00,298.33 260.00,301.00 C266.00,303.67 274.67,306.00 280.00,308.00 C285.33,310.00 292.33,311.67 292.00,313.00 C291.67,314.33 283.67,314.83 278.00,316.00 C272.33,317.17 263.83,318.33 258.00,320.00 C252.17,321.67 246.33,324.17 243.00,326.00 C239.67,327.83 238.33,329.50 238.00,331.00 C237.67,332.50 242.00,333.50 241.00,335.00 C240.00,336.50 233.70,337.50 232.00,340.00 C230.30,342.50 231.08,347.67 230.80,350.00 C230.52,352.33 230.38,353.33 230.30,354.00 Z" fill="#e7f59a" fill-opacity="0.18" stroke="none"/>
<path d="M230.30,268.00 C230.38,268.67 228.52,268.00 230.80,272.00 C233.08,276.00 239.13,287.17 244.00,292.00 C248.87,296.83 254.00,298.33 260.00,301.00 C266.00,303.67 274.67,306.00 280.00,308.00 C285.33,310.00 292.33,311.67 292.00,313.00 C291.67,314.33 283.67,314.83 278.00,316.00 C272.33,317.17 263.83,318.33 258.00,320.00 C252.17,321.67 246.33,324.17 243.00,326.00 C239.67,327.83 238.33,329.50 238.00,331.00 C237.67,332.50 242.00,333.50 241.00,335.00 C240.00,336.50 233.70,337.50 232.00,340.00 C230.30,342.50 231.08,347.67 230.80,350.00 C230.52,352.33 230.38,353.33 230.30,354.00" fill="none" stroke="#000" stroke-width="1.2" stroke-linejoin="round"/>
<path d="M230.30,270.00 C230.38,270.67 228.68,269.67 230.80,274.00 C232.92,278.33 238.63,290.83 243.00,296.00 C247.37,301.17 252.17,302.50 257.00,305.00 C261.83,307.50 267.83,309.33 272.00,311.00 C276.17,312.67 283.00,313.83 282.00,315.00 C281.00,316.17 271.50,316.67 266.00,318.00 C260.50,319.33 253.67,321.17 249.00,323.00 C244.33,324.83 240.67,326.50 238.00,329.00 C235.33,331.50 234.20,334.50 233.00,338.00 C231.80,341.50 231.25,347.33 230.80,350.00 C230.35,352.67 230.38,353.33 230.30,354.00 Z" fill="#eff9a6" fill-opacity="0.18" stroke="none"/>
<path d="M230.30,270.00 C230.38,270.67 228.68,269.67 230.80,274.00 C232.92,278.33 238.63,290.83 243.00,296.00 C247.37,301.17 252.17,302.50 257.00,305.00 C261.83,307.50 267.83,309.33 272.00,311.00 C276.17,312.67 283.00,313.83 282.00,315.00 C281.00,316.17 271.50,316.67 266.00,318.00 C260.50,319.33 253.67,321.17 249.00,323.00 C244.33,324.83 240.67,326.50 238.00,329.00 C235.33,331.50 234.20,334.50 233.00,338.00 C231.80,341.50 231.25,347.33 230.80,350.00 C230.35,352.67 230.38,353.33 230.30,354.00" fill="none" stroke="#000" stroke-width="1.2" stroke-linejoin="round"/>
<path d="M230.30,236.00 C230.38,236.67 229.52,237.67 230.80,240.00 C232.08,242.33 233.80,247.00 238.00,250.00 C242.20,253.00 249.00,255.50 256.00,258.00 C263.00,260.50 273.23,262.92 280.00,265.00 C286.77,267.08 294.93,269.08 296.60,270.50 C298.27,271.92 294.10,272.58 290.00,273.50 C285.90,274.42 278.00,274.75 272.00,276.00 C266.00,277.25 258.83,278.67 254.00,281.00 C249.17,283.33 246.00,286.50 243.00,290.00 C240.00,293.50 238.03,298.00 236.00,302.00 C233.97,306.00 231.75,311.33 230.80,314.00 C229.85,316.67 230.38,317.33 230.30,318.00 Z" fill="#ffffbf" fill-opacity="0.2" stroke="none"/>
<path d="M230.30,236.00 C230.38,236.67 229.52,237.67 230.80,240.00 C232.08,242.33 233.80,247.00 238.00,250.00 C242.20,253.00 249.00,255.50 256.00,258.00 C263.00,260.50 273.23,262.92 280.00,265.00 C286.77,267.08 294.93,269.08 296.60,270.50 C298.27,271.92 294.10,272.58 290.00,273.50 C285.90,274.42 278.00,274.75 272.00,276.00 C266.00,277.25 258.83,278.67 254.00,281.00 C249.17,283.33 246.00,286.50 243.00,290.00 C240.00,293.50 238.03,298.00 236.00,302.00 C233.97,306.00 231.75,311.33 230.80,314.00 C229.85,316.67 230.38,317.33 230.30,318.00" fill="none" stroke="#000" stroke-width="1.2" stroke-linejoin="round"/>
<path d="M230.30,240.00 C230.38,240.67 229.18,241.33 230.80,244.00 C232.42,246.67 235.47,252.83 240.00,256.00 C244.53,259.17 252.17,261.00 258.00,263.00 C263.83,265.00 273.33,266.50 275.00,268.00 C276.67,269.50 271.17,270.50 268.00,272.00 C264.83,273.50 259.67,274.83 256.00,277.00 C252.33,279.17 249.00,281.83 246.00,285.00 C243.00,288.17 240.53,291.50 238.00,296.00 C235.47,300.50 232.08,308.67 230.80,312.00 C229.52,315.33 230.38,315.33 230.30,316.00 Z" fill="#fff3aa" fill-opacity="0.2" stroke="none"/>
<path d="M230.30,240.00 C230.38,240.67 229.18,241.33 230.80,244.00 C232.42,246.67 235.47,252.83 240.00,256.00 C244.53,259.17 252.17,261.00 258.00,263.00 C263.83,265.00 273.33,266.50 275.00,268.00 C276.67,269.50 271.17,270.50 268.00,272.00 C264.83,273.50 259.67,274.83 256.00,277.00 C252.33,279.17 249.00,281.83 246.00,285.00 C243.00,288.17 240.53,291.50 238.00,296.00 C235.47,300.50 232.08,308.67 230.80,312.00 C229.52,315.33 230.38,315.33 230.30,316.00" fill="none" stroke="#000" stroke-width="1.2" stroke-linejoin="round"/>
<path d="M230.30,242.00 C230.38,242.67 229.85,243.67 230.80,246.00 C231.75,248.33 232.80,253.00 236.00,256.00 C239.20,259.00 244.67,261.33 250.00,264.00 C255.33,266.67 262.17,269.67 268.00,272.00 C273.83,274.33 279.67,276.50 285.00,278.00 C290.33,279.50 300.50,280.00 300.00,281.00 C299.50,282.00 288.67,282.83 282.00,284.00 C275.33,285.17 266.00,286.17 260.00,288.00 C254.00,289.83 250.00,292.17 246.00,295.00 C242.00,297.83 238.53,300.83 236.00,305.00 C233.47,309.17 231.75,316.83 230.80,320.00 C229.85,323.17 230.38,323.33 230.30,324.00 Z" fill="#fee695" fill-opacity="0.2" stroke="none"/>
<path d="M230.30,242.00 C230.38,242.67 229.85,243.67 230.80,246.00 C231.75,248.33 232.80,253.00 236.00,256.00 C239.20,259.00 244.67,261.33 250.00,264.00 C255.33,266.67 262.17,269.67 268.00,272.00 C273.83,274.33 279.67,276.50 285.00,278.00 C290.33,279.50 300.50,280.00 300.00,281.00 C299.50,282.00 288.67,282.83 282.00,284.00 C275.33,285.17 266.00,286.17 260.00,288.00 C254.00,289.83 250.00,292.17 246.00,295.00 C242.00,297.83 238.53,300.83 236.00,305.00 C233.47,309.17 231.75,316.83 230.80,320.00 C229.85,323.17 230.38,323.33 230.30,324.00" fill="none" stroke="#000" stroke-width="1.2" stroke-linejoin="round"/>
<path d="M230.30,250.00 C230.38,250.67 229.18,251.33 230.80,254.00 C232.42,256.67 234.80,262.83 240.00,266.00 C245.20,269.17 252.00,271.17 262.00,273.00 C272.00,274.83 290.00,275.92 300.00,277.00 C310.00,278.08 322.00,278.75 322.00,279.50 C322.00,280.25 308.33,280.58 300.00,281.50 C291.67,282.42 280.00,283.42 272.00,285.00 C264.00,286.58 257.33,288.50 252.00,291.00 C246.67,293.50 243.53,295.83 240.00,300.00 C236.47,304.17 232.42,312.67 230.80,316.00 C229.18,319.33 230.38,319.33 230.30,320.00 Z" fill="#feda86" fill-opacity="0.2" stroke="none"/>
<path d="M230.30,250.00 C230.38,250.67 229.18,251.33 230.80,254.00 C232.42,256.67 234.80,262.83 240.00,266.00 C245.20,269.17 252.00,271.17 262.00,273.00 C272.00,274.83 290.00,275.92 300.00,277.00 C310.00,278.08 322.00,278.75 322.00,279.50 C322.00,280.25 308.33,280.58 300.00,281.50 C291.67,282.42 280.00,283.42 272.00,285.00 C264.00,286.58 257.33,288.50 252.00,291.00 C246.67,293.50 243.53,295.83 240.00,300.00 C236.47,304.17 232.42,312.67 230.80,316.00 C229.18,319.33 230.38,319.33 230.30,320.00" fill="none" stroke="#000" stroke-width="1.2" stroke-linejoin="round"/>
<path d="M230.30,246.00 C230.38,246.67 229.52,247.33 230.80,250.00 C232.08,252.67 233.47,258.67 238.00,262.00 C242.53,265.33 248.50,267.83 258.00,270.00 C267.50,272.17 281.67,273.63 295.00,275.00 C308.33,276.37 334.17,277.45 338.00,278.20 C341.83,278.95 326.00,279.03 318.00,279.50 C310.00,279.97 298.83,280.08 290.00,281.00 C281.17,281.92 272.00,283.17 265.00,285.00 C258.00,286.83 252.50,289.17 248.00,292.00 C243.50,294.83 240.87,298.00 238.00,302.00 C235.13,306.00 232.08,313.00 230.80,316.00 C229.52,319.00 230.38,319.33 230.30,320.00 Z" fill="#feca79" fill-opacity="0.2" stroke="none"/>
<path d="M230.30,246.00 C230.38,246.67 229.52,247.33 230.80,250.00 C232.08,252.67 233.47,258.67 238.00,262.00 C242.53,265.33 248.50,267.83 258.00,270.00 C267.50,272.17 281.67,273.63 295.00,275.00 C308.33,276.37 334.17,277.45 338.00,278.20 C341.83,278.95 326.00,279.03 318.00,279.50 C310.00,279.97 298.83,280.08 290.00,281.00 C281.17,281.92 272.00,283.17 265.00,285.00 C258.00,286.83 252.50,289.17 248.00,292.00 C243.50,294.83 240.87,298.00 238.00,302.00 C235.13,306.00 232.08,313.00 230.80,316.00 C229.52,319.00 230.38,319.33 230.30,320.00" fill="none" stroke="#000" stroke-width="1.2" stroke-linejoin="round"/>
<path d="M230.30,254.00 C230.38,254.67 229.85,255.67 230.80,258.00 C231.75,260.33 231.13,265.42 236.00,268.00 C240.87,270.58 249.33,272.25 260.00,273.50 C270.67,274.75 288.33,274.95 300.00,275.50 C311.67,276.05 322.45,276.48 330.00,276.80 C337.55,277.12 345.30,277.13 345.30,277.40 C345.30,277.67 337.55,278.05 330.00,278.40 C322.45,278.75 310.00,278.90 300.00,279.50 C290.00,280.10 278.00,280.75 270.00,282.00 C262.00,283.25 256.67,284.83 252.00,287.00 C247.33,289.17 244.67,291.83 242.00,295.00 C239.33,298.17 237.87,302.17 236.00,306.00 C234.13,309.83 231.75,315.33 230.80,318.00 C229.85,320.67 230.38,321.33 230.30,322.00 Z" fill="#fdba6b" fill-opacity="0.2" stroke="none"/>
<path d="M230.30,254.00 C230.38,254.67 229.85,255.67 230.80,258.00 C231.75,260.33 231.13,265.42 236.00,268.00 C240.87,270.58 249.33,272.25 260.00,273.50 C270.67,274.75 288.33,274.95 300.00,275.50 C311.67,276.05 322.45,276.48 330.00,276.80 C337.55,277.12 345.30,277.13 345.30,277.40 C345.30,277.67 337.55,278.05 330.00,278.40 C322.45,278.75 310.00,278.90 300.00,279.50 C290.00,280.10 278.00,280.75 270.00,282.00 C262.00,283.25 256.67,284.83 252.00,287.00 C247.33,289.17 244.67,291.83 242.00,295.00 C239.33,298.17 237.87,302.17 236.00,306.00 C234.13,309.83 231.75,315.33 230.80,318.00 C229.85,320.67 230.38,321.33 230.30,322.00" fill="none" stroke="#000" stroke-width="1.2" stroke-linejoin="round"/>
<path d="M230.30,226.00 C230.38,226.67 229.18,227.00 230.80,230.00 C232.42,233.00 237.63,240.67 240.00,244.00 C242.37,247.33 244.33,248.00 245.00,250.00 C245.67,252.00 243.33,254.00 244.00,256.00 C244.67,258.00 247.67,260.00 249.00,262.00 C250.33,264.00 252.83,266.00 252.00,268.00 C251.17,270.00 246.00,271.33 244.00,274.00 C242.00,276.67 241.67,280.33 240.00,284.00 C238.33,287.67 235.53,291.67 234.00,296.00 C232.47,300.33 231.42,307.00 230.80,310.00 C230.18,313.00 230.38,313.33 230.30,314.00 Z" fill="#fca95f" fill-opacity="0.14" stroke="none"/>
<path d="M230.30,226.00 C230.38,226.67 229.18,227.00 230.80,230.00 C232.42,233.00 237.63,240.67 240.00,244.00 C242.37,247.33 244.33,248.00 245.00,250.00 C245.67,252.00 243.33,254.00 244.00,256.00 C244.67,258.00 247.67,260.00 249.00,262.00 C250.33,264.00 252.83,266.00 252.00,268.00 C251.17,270.00 246.00,271.33 244.00,274.00 C242.00,276.67 241.67,280.33 240.00,284.00 C238.33,287.67 235.53,291.67 234.00,296.00 C232.47,300.33 231.42,307.00 230.80,310.00 C230.18,313.00 230.38,313.33 230.30,314.00" fill="none" stroke="#000" stroke-width="1.2" stroke-linejoin="round"/>
<path d="M230.30,224.00 C230.38,224.67 228.85,225.33 230.80,228.00 C232.75,230.67 239.13,237.00 242.00,240.00 C244.87,243.00 247.50,244.00 248.00,246.00 C248.50,248.00 244.00,250.00 245.00,252.00 C246.00,254.00 252.00,256.17 254.00,258.00 C256.00,259.83 258.17,261.00 257.00,263.00 C255.83,265.00 249.67,267.17 247.00,270.00 C244.33,272.83 243.00,276.33 241.00,280.00 C239.00,283.67 236.70,287.33 235.00,292.00 C233.30,296.67 231.58,304.67 230.80,308.00 C230.02,311.33 230.38,311.33 230.30,312.00 Z" fill="#f99455" fill-opacity="0.14" stroke="none"/>
<path d="M230.30,224.00 C230.38,224.67 228.85,225.33 230.80,228.00 C232.75,230.67 239.13,237.00 242.00,240.00 C244.87,243.00 247.50,244.00 248.00,246.00 C248.50,248.00 244.00,250.00 245.00,252.00 C246.00,254.00 252.00,256.17 254.00,258.00 C256.00,259.83 258.17,261.00 257.00,263.00 C255.83,265.00 249.67,267.17 247.00,270.00 C244.33,272.83 243.00,276.33 241.00,280.00 C239.00,283.67 236.70,287.33 235.00,292.00 C233.30,296.67 231.58,304.67 230.80,308.00 C230.02,311.33 230.38,311.33 230.30,312.00" fill="none" stroke="#000" stroke-width="1.2" stroke-linejoin="round"/>
<path d="M230.30,222.00 C230.38,222.67 228.35,223.33 230.80,226.00 C233.25,228.67 240.97,235.17 245.00,238.00 C249.03,240.83 254.17,241.33 255.00,243.00 C255.83,244.67 248.67,246.17 250.00,248.00 C251.33,249.83 262.00,252.17 263.00,254.00 C264.00,255.83 259.00,257.00 256.00,259.00 C253.00,261.00 247.67,262.83 245.00,266.00 C242.33,269.17 241.83,273.67 240.00,278.00 C238.17,282.33 235.53,287.33 234.00,292.00 C232.47,296.67 231.42,303.00 230.80,306.00 C230.18,309.00 230.38,309.33 230.30,310.00 Z" fill="#f77f4b" fill-opacity="0.14" stroke="none"/>
<path d="M230.30,222.00 C230.38,222.67 228.35,223.33 230.80,226.00 C233.25,228.67 240.97,235.17 245.00,238.00 C249.03,240.83 254.17,241.33 255.00,243.00 C255.83,244.67 248.67,246.17 250.00,248.00 C251.33,249.83 262.00,252.17 263.00,254.00 C264.00,255.83 259.00,257.00 256.00,259.00 C253.00,261.00 247.67,262.83 245.00,266.00 C242.33,269.17 241.83,273.67 240.00,278.00 C238.17,282.33 235.53,287.33 234.00,292.00 C232.47,296.67 231.42,303.00 230.80,306.00 C230.18,309.00 230.38,309.33 230.30,310.00" fill="none" stroke="#000" stroke-width="1.2" stroke-linejoin="round"/>
<path d="M230.30,221.00 C230.38,221.67 228.18,222.83 230.80,225.00 C233.42,227.17 240.97,231.83 246.00,234.00 C251.03,236.17 259.17,236.50 261.00,238.00 C262.83,239.50 258.50,241.17 257.00,243.00 C255.50,244.83 253.83,246.50 252.00,249.00 C250.17,251.50 248.00,254.83 246.00,258.00 C244.00,261.17 241.50,264.33 240.00,268.00 C238.50,271.67 238.17,275.67 237.00,280.00 C235.83,284.33 234.03,289.67 233.00,294.00 C231.97,298.33 231.25,303.33 230.80,306.00 C230.35,308.67 230.38,309.33 230.30,310.00 Z" fill="#f36b43" fill-opacity="0.14" stroke="none"/>
<path d="M230.30,221.00 C230.38,221.67 228.18,222.83 230.80,225.00 C233.42,227.17 240.97,231.83 246.00,234.00 C251.03,236.17 259.17,236.50 261.00,238.00 C262.83,239.50 258.50,241.17 257.00,243.00 C255.50,244.83 253.83,246.50 252.00,249.00 C250.17,251.50 248.00,254.83 246.00,258.00 C244.00,261.17 241.50,264.33 240.00,268.00 C238.50,271.67 238.17,275.67 237.00,280.00 C235.83,284.33 234.03,289.67 233.00,294.00 C231.97,298.33 231.25,303.33 230.80,306.00 C230.35,308.67 230.38,309.33 230.30,310.00" fill="none" stroke="#000" stroke-width="1.2" stroke-linejoin="round"/>
<path d="M230.30,220.00 C230.38,220.67 228.85,221.83 230.80,224.00 C232.75,226.17 236.80,230.67 242.00,233.00 C247.20,235.33 255.70,236.67 262.00,238.00 C268.30,239.33 278.13,239.67 279.80,241.00 C281.47,242.33 275.63,244.33 272.00,246.00 C268.37,247.67 262.00,249.00 258.00,251.00 C254.00,253.00 251.00,255.17 248.00,258.00 C245.00,260.83 242.00,264.33 240.00,268.00 C238.00,271.67 237.17,276.00 236.00,280.00 C234.83,284.00 233.87,288.00 233.00,292.00 C232.13,296.00 231.25,301.33 230.80,304.00 C230.35,306.67 230.38,307.33 230.30,308.00 Z" fill="#e95c47" fill-opacity="0.14" stroke="none"/>
<path d="M230.30,220.00 C230.38,220.67 228.85,221.83 230.80,224.00 C232.75,226.17 236.80,230.67 242.00,233.00 C247.20,235.33 255.70,236.67 262.00,238.00 C268.30,239.33 278.13,239.67 279.80,241.00 C281.47,242.33 275.63,244.33 272.00,246.00 C268.37,247.67 262.00,249.00 258.00,251.00 C254.00,253.00 251.00,255.17 248.00,258.00 C245.00,260.83 242.00,264.33 240.00,268.00 C238.00,271.67 237.17,276.00 236.00,280.00 C234.83,284.00 233.87,288.00 233.00,292.00 C232.13,296.00 231.25,301.33 230.80,304.00 C230.35,306.67 230.38,307.33 230.30,308.00" fill="none" stroke="#000" stroke-width="1.2" stroke-linejoin="round"/>
<path d="M230.30,219.00 C230.38,219.67 229.18,221.00 230.80,223.00 C232.42,225.00 234.80,228.83 240.00,231.00 C245.20,233.17 253.67,234.50 262.00,236.00 C270.33,237.50 282.27,238.67 290.00,240.00 C297.73,241.33 307.57,242.75 308.40,244.00 C309.23,245.25 301.40,246.50 295.00,247.50 C288.60,248.50 277.17,248.75 270.00,250.00 C262.83,251.25 256.50,252.67 252.00,255.00 C247.50,257.33 245.33,260.50 243.00,264.00 C240.67,267.50 239.50,271.83 238.00,276.00 C236.50,280.17 235.20,284.67 234.00,289.00 C232.80,293.33 231.42,299.17 230.80,302.00 C230.18,304.83 230.38,305.33 230.30,306.00 Z" fill="#df4d4b" fill-opacity="0.14" stroke="none"/>
<path d="M230.30,219.00 C230.38,219.67 229.18,221.00 230.80,223.00 C232.42,225.00 234.80,228.83 240.00,231.00 C245.20,233.17 253.67,234.50 262.00,236.00 C270.33,237.50 282.27,238.67 290.00,240.00 C297.73,241.33 307.57,242.75 308.40,244.00 C309.23,245.25 301.40,246.50 295.00,247.50 C288.60,248.50 277.17,248.75 270.00,250.00 C262.83,251.25 256.50,252.67 252.00,255.00 C247.50,257.33 245.33,260.50 243.00,264.00 C240.67,267.50 239.50,271.83 238.00,276.00 C236.50,280.17 235.20,284.67 234.00,289.00 C232.80,293.33 231.42,299.17 230.80,302.00 C230.18,304.83 230.38,305.33 230.30,306.00" fill="none" stroke="#000" stroke-width="1.2" stroke-linejoin="round"/>
<path d="M230.30,217.70 C230.38,218.37 229.18,219.82 230.80,221.70 C232.42,223.58 235.20,227.03 240.00,229.00 C244.80,230.97 250.73,232.20 259.60,233.50 C268.47,234.80 283.13,235.80 293.20,236.80 C303.27,237.80 313.27,238.65 320.00,239.50 C326.73,240.35 333.27,240.98 333.60,241.90 C333.93,242.82 325.93,244.15 322.00,245.00 C318.07,245.85 317.60,246.40 310.00,247.00 C302.40,247.60 286.40,247.60 276.40,248.60 C266.40,249.60 255.90,250.77 250.00,253.00 C244.10,255.23 243.17,258.33 241.00,262.00 C238.83,265.67 238.33,270.67 237.00,275.00 C235.67,279.33 234.03,283.83 233.00,288.00 C231.97,292.17 231.25,297.33 230.80,300.00 C230.35,302.67 230.38,303.33 230.30,304.00 Z" fill="#d53e4f" fill-opacity="0.2" stroke="none"/>
<path d="M230.30,217.70 C230.38,218.37 229.18,219.82 230.80,221.70 C232.42,223.58 235.20,227.03 240.00,229.00 C244.80,230.97 250.73,232.20 259.60,233.50 C268.47,234.80 283.13,235.80 293.20,236.80 C303.27,237.80 313.27,238.65 320.00,239.50 C326.73,240.35 333.27,240.98 333.60,241.90 C333.93,242.82 325.93,244.15 322.00,245.00 C318.07,245.85 317.60,246.40 310.00,247.00 C302.40,247.60 286.40,247.60 276.40,248.60 C266.40,249.60 255.90,250.77 250.00,253.00 C244.10,255.23 243.17,258.33 241.00,262.00 C238.83,265.67 238.33,270.67 237.00,275.00 C235.67,279.33 234.03,283.83 233.00,288.00 C231.97,292.17 231.25,297.33 230.80,300.00 C230.35,302.67 230.38,303.33 230.30,304.00" fill="none" stroke="#000" stroke-width="1.2" stroke-linejoin="round"/>
<line x1="232.80" y1="428.58" x2="232.80" y2="569.70" stroke="#000" stroke-width="1"/>
<path d="M232.80,474.00 C232.80,474.67 231.27,474.33 232.80,478.00 C234.33,481.67 237.13,491.33 242.00,496.00 C246.87,500.67 254.00,503.50 262.00,506.00 C270.00,508.50 281.17,509.67 290.00,511.00 C298.83,512.33 308.67,512.83 315.00,514.00 C321.33,515.17 326.83,516.75 328.00,518.00 C329.17,519.25 325.83,520.67 322.00,521.50 C318.17,522.33 309.33,522.25 305.00,523.00 C300.67,523.75 298.50,524.83 296.00,526.00 C293.50,527.17 292.67,529.00 290.00,530.00 C287.33,531.00 284.00,531.50 280.00,532.00 C276.00,532.50 270.67,532.42 266.00,533.00 C261.33,533.58 256.00,534.50 252.00,535.50 C248.00,536.50 244.67,537.58 242.00,539.00 C239.33,540.42 237.53,542.17 236.00,544.00 C234.47,545.83 233.33,548.33 232.80,550.00 C232.27,551.67 232.80,553.33 232.80,554.00 Z" fill="#9ad7a4" fill-opacity="0.2" stroke="none"/>
<path d="M232.80,474.00 C232.80,474.67 231.27,474.33 232.80,478.00 C234.33,481.67 237.13,491.33 242.00,496.00 C246.87,500.67 254.00,503.50 262.00,506.00 C270.00,508.50 281.17,509.67 290.00,511.00 C298.83,512.33 308.67,512.83 315.00,514.00 C321.33,515.17 326.83,516.75 328.00,518.00 C329.17,519.25 325.83,520.67 322.00,521.50 C318.17,522.33 309.33,522.25 305.00,523.00 C300.67,523.75 298.50,524.83 296.00,526.00 C293.50,527.17 292.67,529.00 290.00,530.00 C287.33,531.00 284.00,531.50 280.00,532.00 C276.00,532.50 270.67,532.42 266.00,533.00 C261.33,533.58 256.00,534.50 252.00,535.50 C248.00,536.50 244.67,537.58 242.00,539.00 C239.33,540.42 237.53,542.17 236.00,544.00 C234.47,545.83 233.33,548.33 232.80,550.00 C232.27,551.67 232.80,553.33 232.80,554.00" fill="none" stroke="#000" stroke-width="1.8" stroke-linejoin="round"/>
<path d="M232.80,476.00 C232.80,476.67 230.93,476.33 232.80,480.00 C234.67,483.67 238.47,493.33 244.00,498.00 C249.53,502.67 257.50,505.67 266.00,508.00 C274.50,510.33 286.83,511.00 295.00,512.00 C303.17,513.00 310.33,513.25 315.00,514.00 C319.67,514.75 323.17,515.58 323.00,516.50 C322.83,517.42 317.83,518.75 314.00,519.50 C310.17,520.25 303.67,520.25 300.00,521.00 C296.33,521.75 294.00,522.83 292.00,524.00 C290.00,525.17 290.67,527.00 288.00,528.00 C285.33,529.00 280.33,529.42 276.00,530.00 C271.67,530.58 266.33,530.83 262.00,531.50 C257.67,532.17 253.50,532.92 250.00,534.00 C246.50,535.08 243.50,536.50 241.00,538.00 C238.50,539.50 236.37,541.17 235.00,543.00 C233.63,544.83 233.17,547.33 232.80,549.00 C232.43,550.67 232.80,552.33 232.80,553.00 Z" fill="#b4e1a2" fill-opacity="0.2" stroke="none"/>
<path d="M232.80,476.00 C232.80,476.67 230.93,476.33 232.80,480.00 C234.67,483.67 238.47,493.33 244.00,498.00 C249.53,502.67 257.50,505.67 266.00,508.00 C274.50,510.33 286.83,511.00 295.00,512.00 C303.17,513.00 310.33,513.25 315.00,514.00 C319.67,514.75 323.17,515.58 323.00,516.50 C322.83,517.42 317.83,518.75 314.00,519.50 C310.17,520.25 303.67,520.25 300.00,521.00 C296.33,521.75 294.00,522.83 292.00,524.00 C290.00,525.17 290.67,527.00 288.00,528.00 C285.33,529.00 280.33,529.42 276.00,530.00 C271.67,530.58 266.33,530.83 262.00,531.50 C257.67,532.17 253.50,532.92 250.00,534.00 C246.50,535.08 243.50,536.50 241.00,538.00 C238.50,539.50 236.37,541.17 235.00,543.00 C233.63,544.83 233.17,547.33 232.80,549.00 C232.43,550.67 232.80,552.33 232.80,553.00" fill="none" stroke="#000" stroke-width="1.2" stroke-linejoin="round"/>
<path d="M232.80,478.00 C232.80,478.67 230.60,478.17 232.80,482.00 C235.00,485.83 239.80,496.17 246.00,501.00 C252.20,505.83 261.83,508.50 270.00,511.00 C278.17,513.50 288.33,514.50 295.00,516.00 C301.67,517.50 308.83,518.83 310.00,520.00 C311.17,521.17 305.00,522.17 302.00,523.00 C299.00,523.83 294.67,524.00 292.00,525.00 C289.33,526.00 289.67,528.08 286.00,529.00 C282.33,529.92 275.17,529.83 270.00,530.50 C264.83,531.17 259.33,531.92 255.00,533.00 C250.67,534.08 247.17,535.33 244.00,537.00 C240.83,538.67 237.87,540.83 236.00,543.00 C234.13,545.17 233.33,548.17 232.80,550.00 C232.27,551.83 232.80,553.33 232.80,554.00 Z" fill="#ccea9d" fill-opacity="0.2" stroke="none"/>
<path d="M232.80,478.00 C232.80,478.67 230.60,478.17 232.80,482.00 C235.00,485.83 239.80,496.17 246.00,501.00 C252.20,505.83 261.83,508.50 270.00,511.00 C278.17,513.50 288.33,514.50 295.00,516.00 C301.67,517.50 308.83,518.83 310.00,520.00 C311.17,521.17 305.00,522.17 302.00,523.00 C299.00,523.83 294.67,524.00 292.00,525.00 C289.33,526.00 289.67,528.08 286.00,529.00 C282.33,529.92 275.17,529.83 270.00,530.50 C264.83,531.17 259.33,531.92 255.00,533.00 C250.67,534.08 247.17,535.33 244.00,537.00 C240.83,538.67 237.87,540.83 236.00,543.00 C234.13,545.17 233.33,548.17 232.80,550.00 C232.27,551.83 232.80,553.33 232.80,554.00" fill="none" stroke="#000" stroke-width="1.2" stroke-linejoin="round"/>
<path d="M232.80,482.00 C232.80,482.67 230.27,482.17 232.80,486.00 C235.33,489.83 241.47,500.33 248.00,505.00 C254.53,509.67 265.00,511.67 272.00,514.00 C279.00,516.33 285.33,517.33 290.00,519.00 C294.67,520.67 300.00,522.83 300.00,524.00 C300.00,525.17 293.00,525.33 290.00,526.00 C287.00,526.67 284.50,527.17 282.00,528.00 C279.50,528.83 279.00,530.17 275.00,531.00 C271.00,531.83 262.83,532.17 258.00,533.00 C253.17,533.83 249.50,534.50 246.00,536.00 C242.50,537.50 239.20,539.50 237.00,542.00 C234.80,544.50 233.50,548.83 232.80,551.00 C232.10,553.17 232.80,554.33 232.80,555.00 Z" fill="#e4f498" fill-opacity="0.2" stroke="none"/>
<path d="M232.80,482.00 C232.80,482.67 230.27,482.17 232.80,486.00 C235.33,489.83 241.47,500.33 248.00,505.00 C254.53,509.67 265.00,511.67 272.00,514.00 C279.00,516.33 285.33,517.33 290.00,519.00 C294.67,520.67 300.00,522.83 300.00,524.00 C300.00,525.17 293.00,525.33 290.00,526.00 C287.00,526.67 284.50,527.17 282.00,528.00 C279.50,528.83 279.00,530.17 275.00,531.00 C271.00,531.83 262.83,532.17 258.00,533.00 C253.17,533.83 249.50,534.50 246.00,536.00 C242.50,537.50 239.20,539.50 237.00,542.00 C234.80,544.50 233.50,548.83 232.80,551.00 C232.10,553.17 232.80,554.33 232.80,555.00" fill="none" stroke="#000" stroke-width="1.2" stroke-linejoin="round"/>
<path d="M232.80,486.00 C232.80,486.67 229.93,486.33 232.80,490.00 C235.67,493.67 243.80,503.50 250.00,508.00 C256.20,512.50 264.00,514.50 270.00,517.00 C276.00,519.50 284.67,521.50 286.00,523.00 C287.33,524.50 278.67,524.83 278.00,526.00 C277.33,527.17 284.00,529.00 282.00,530.00 C280.00,531.00 271.33,531.17 266.00,532.00 C260.67,532.83 254.50,533.67 250.00,535.00 C245.50,536.33 241.87,537.17 239.00,540.00 C236.13,542.83 233.83,549.33 232.80,552.00 C231.77,554.67 232.80,555.33 232.80,556.00 Z" fill="#eff9a6" fill-opacity="0.2" stroke="none"/>
<path d="M232.80,486.00 C232.80,486.67 229.93,486.33 232.80,490.00 C235.67,493.67 243.80,503.50 250.00,508.00 C256.20,512.50 264.00,514.50 270.00,517.00 C276.00,519.50 284.67,521.50 286.00,523.00 C287.33,524.50 278.67,524.83 278.00,526.00 C277.33,527.17 284.00,529.00 282.00,530.00 C280.00,531.00 271.33,531.17 266.00,532.00 C260.67,532.83 254.50,533.67 250.00,535.00 C245.50,536.33 241.87,537.17 239.00,540.00 C236.13,542.83 233.83,549.33 232.80,552.00 C231.77,554.67 232.80,555.33 232.80,556.00" fill="none" stroke="#000" stroke-width="1.2" stroke-linejoin="round"/>
<path d="M232.80,456.00 C232.80,456.67 231.60,456.67 232.80,460.00 C234.00,463.33 236.80,471.33 240.00,476.00 C243.20,480.67 248.33,485.00 252.00,488.00 C255.67,491.00 259.67,492.00 262.00,494.00 C264.33,496.00 263.67,498.17 266.00,500.00 C268.33,501.83 271.17,503.67 276.00,505.00 C280.83,506.33 290.17,507.00 295.00,508.00 C299.83,509.00 305.83,510.00 305.00,511.00 C304.17,512.00 295.83,512.67 290.00,514.00 C284.17,515.33 276.00,516.83 270.00,519.00 C264.00,521.17 258.67,524.33 254.00,527.00 C249.33,529.67 245.53,531.83 242.00,535.00 C238.47,538.17 234.33,543.50 232.80,546.00 C231.27,548.50 232.80,549.33 232.80,550.00 Z" fill="#fee18d" fill-opacity="0.24" stroke="none"/>
<path d="M232.80,456.00 C232.80,456.67 231.60,456.67 232.80,460.00 C234.00,463.33 236.80,471.33 240.00,476.00 C243.20,480.67 248.33,485.00 252.00,488.00 C255.67,491.00 259.67,492.00 262.00,494.00 C264.33,496.00 263.67,498.17 266.00,500.00 C268.33,501.83 271.17,503.67 276.00,505.00 C280.83,506.33 290.17,507.00 295.00,508.00 C299.83,509.00 305.83,510.00 305.00,511.00 C304.17,512.00 295.83,512.67 290.00,514.00 C284.17,515.33 276.00,516.83 270.00,519.00 C264.00,521.17 258.67,524.33 254.00,527.00 C249.33,529.67 245.53,531.83 242.00,535.00 C238.47,538.17 234.33,543.50 232.80,546.00 C231.27,548.50 232.80,549.33 232.80,550.00" fill="none" stroke="#000" stroke-width="1.2" stroke-linejoin="round"/>
<path d="M232.80,460.00 C232.80,460.67 231.27,460.67 232.80,464.00 C234.33,467.33 237.80,475.33 242.00,480.00 C246.20,484.67 252.33,489.17 258.00,492.00 C263.67,494.83 270.67,495.67 276.00,497.00 C281.33,498.33 286.00,498.83 290.00,500.00 C294.00,501.17 299.00,502.67 300.00,504.00 C301.00,505.33 296.00,506.67 296.00,508.00 C296.00,509.33 301.00,510.83 300.00,512.00 C299.00,513.17 294.17,513.83 290.00,515.00 C285.83,516.17 280.00,517.33 275.00,519.00 C270.00,520.67 264.50,522.83 260.00,525.00 C255.50,527.17 251.67,529.67 248.00,532.00 C244.33,534.33 240.53,536.50 238.00,539.00 C235.47,541.50 233.67,545.00 232.80,547.00 C231.93,549.00 232.80,550.33 232.80,551.00 Z" fill="#fed27f" fill-opacity="0.24" stroke="none"/>
<path d="M232.80,460.00 C232.80,460.67 231.27,460.67 232.80,464.00 C234.33,467.33 237.80,475.33 242.00,480.00 C246.20,484.67 252.33,489.17 258.00,492.00 C263.67,494.83 270.67,495.67 276.00,497.00 C281.33,498.33 286.00,498.83 290.00,500.00 C294.00,501.17 299.00,502.67 300.00,504.00 C301.00,505.33 296.00,506.67 296.00,508.00 C296.00,509.33 301.00,510.83 300.00,512.00 C299.00,513.17 294.17,513.83 290.00,515.00 C285.83,516.17 280.00,517.33 275.00,519.00 C270.00,520.67 264.50,522.83 260.00,525.00 C255.50,527.17 251.67,529.67 248.00,532.00 C244.33,534.33 240.53,536.50 238.00,539.00 C235.47,541.50 233.67,545.00 232.80,547.00 C231.93,549.00 232.80,550.33 232.80,551.00" fill="none" stroke="#000" stroke-width="1.2" stroke-linejoin="round"/>
<path d="M232.80,462.00 C232.80,462.67 230.93,462.67 232.80,466.00 C234.67,469.33 238.13,477.17 244.00,482.00 C249.87,486.83 258.67,491.50 268.00,495.00 C277.33,498.50 292.00,501.17 300.00,503.00 C308.00,504.83 312.33,504.83 316.00,506.00 C319.67,507.17 322.00,508.83 322.00,510.00 C322.00,511.17 319.67,512.00 316.00,513.00 C312.33,514.00 305.33,514.83 300.00,516.00 C294.67,517.17 289.33,518.33 284.00,520.00 C278.67,521.67 273.33,523.83 268.00,526.00 C262.67,528.17 256.33,530.67 252.00,533.00 C247.67,535.33 245.20,537.67 242.00,540.00 C238.80,542.33 234.33,545.17 232.80,547.00 C231.27,548.83 232.80,550.33 232.80,551.00 Z" fill="#fdc272" fill-opacity="0.24" stroke="none"/>
<path d="M232.80,462.00 C232.80,462.67 230.93,462.67 232.80,466.00 C234.67,469.33 238.13,477.17 244.00,482.00 C249.87,486.83 258.67,491.50 268.00,495.00 C277.33,498.50 292.00,501.17 300.00,503.00 C308.00,504.83 312.33,504.83 316.00,506.00 C319.67,507.17 322.00,508.83 322.00,510.00 C322.00,511.17 319.67,512.00 316.00,513.00 C312.33,514.00 305.33,514.83 300.00,516.00 C294.67,517.17 289.33,518.33 284.00,520.00 C278.67,521.67 273.33,523.83 268.00,526.00 C262.67,528.17 256.33,530.67 252.00,533.00 C247.67,535.33 245.20,537.67 242.00,540.00 C238.80,542.33 234.33,545.17 232.80,547.00 C231.27,548.83 232.80,550.33 232.80,551.00" fill="none" stroke="#000" stroke-width="1.2" stroke-linejoin="round"/>
<path d="M232.80,458.00 C232.80,458.67 231.27,458.67 232.80,462.00 C234.33,465.33 237.13,473.33 242.00,478.00 C246.87,482.67 254.00,486.83 262.00,490.00 C270.00,493.17 282.00,495.33 290.00,497.00 C298.00,498.67 305.10,498.83 310.00,500.00 C314.90,501.17 318.73,502.67 319.40,504.00 C320.07,505.33 317.23,506.83 314.00,508.00 C310.77,509.17 305.33,509.67 300.00,511.00 C294.67,512.33 287.67,514.00 282.00,516.00 C276.33,518.00 271.00,520.50 266.00,523.00 C261.00,525.50 256.00,528.50 252.00,531.00 C248.00,533.50 245.20,535.50 242.00,538.00 C238.80,540.50 234.33,544.00 232.80,546.00 C231.27,548.00 232.80,549.33 232.80,550.00 Z" fill="#fdb264" fill-opacity="0.24" stroke="none"/>
<path d="M232.80,458.00 C232.80,458.67 231.27,458.67 232.80,462.00 C234.33,465.33 237.13,473.33 242.00,478.00 C246.87,482.67 254.00,486.83 262.00,490.00 C270.00,493.17 282.00,495.33 290.00,497.00 C298.00,498.67 305.10,498.83 310.00,500.00 C314.90,501.17 318.73,502.67 319.40,504.00 C320.07,505.33 317.23,506.83 314.00,508.00 C310.77,509.17 305.33,509.67 300.00,511.00 C294.67,512.33 287.67,514.00 282.00,516.00 C276.33,518.00 271.00,520.50 266.00,523.00 C261.00,525.50 256.00,528.50 252.00,531.00 C248.00,533.50 245.20,535.50 242.00,538.00 C238.80,540.50 234.33,544.00 232.80,546.00 C231.27,548.00 232.80,549.33 232.80,550.00" fill="none" stroke="#000" stroke-width="1.2" stroke-linejoin="round"/>
<path d="M232.80,451.00 C232.80,451.67 231.93,452.50 232.80,455.00 C233.67,457.50 235.13,462.50 238.00,466.00 C240.87,469.50 246.00,472.67 250.00,476.00 C254.00,479.33 258.67,483.00 262.00,486.00 C265.33,489.00 269.00,491.67 270.00,494.00 C271.00,496.33 270.00,498.50 268.00,500.00 C266.00,501.50 259.00,501.33 258.00,503.00 C257.00,504.67 262.33,507.17 262.00,510.00 C261.67,512.83 258.33,516.67 256.00,520.00 C253.67,523.33 250.67,527.00 248.00,530.00 C245.33,533.00 242.53,535.33 240.00,538.00 C237.47,540.67 234.00,544.00 232.80,546.00 C231.60,548.00 232.80,549.33 232.80,550.00 Z" fill="#f99455" fill-opacity="0.2" stroke="none"/>
<path d="M232.80,451.00 C232.80,451.67 231.93,452.50 232.80,455.00 C233.67,457.50 235.13,462.50 238.00,466.00 C240.87,469.50 246.00,472.67 250.00,476.00 C254.00,479.33 258.67,483.00 262.00,486.00 C265.33,489.00 269.00,491.67 270.00,494.00 C271.00,496.33 270.00,498.50 268.00,500.00 C266.00,501.50 259.00,501.33 258.00,503.00 C257.00,504.67 262.33,507.17 262.00,510.00 C261.67,512.83 258.33,516.67 256.00,520.00 C253.67,523.33 250.67,527.00 248.00,530.00 C245.33,533.00 242.53,535.33 240.00,538.00 C237.47,540.67 234.00,544.00 232.80,546.00 C231.60,548.00 232.80,549.33 232.80,550.00" fill="none" stroke="#000" stroke-width="1.2" stroke-linejoin="round"/>
<path d="M232.80,444.00 C232.80,444.67 232.10,445.83 232.80,448.00 C233.50,450.17 234.80,454.17 237.00,457.00 C239.20,459.83 241.33,461.83 246.00,465.00 C250.67,468.17 258.50,472.67 265.00,476.00 C271.50,479.33 280.50,482.83 285.00,485.00 C289.50,487.17 290.67,487.92 292.00,489.00 C293.33,490.08 294.17,490.67 293.00,491.50 C291.83,492.33 288.83,493.08 285.00,494.00 C281.17,494.92 274.50,495.50 270.00,497.00 C265.50,498.50 261.00,500.33 258.00,503.00 C255.00,505.67 254.00,509.17 252.00,513.00 C250.00,516.83 248.17,522.17 246.00,526.00 C243.83,529.83 241.20,533.00 239.00,536.00 C236.80,539.00 233.83,542.00 232.80,544.00 C231.77,546.00 232.80,547.33 232.80,548.00 Z" fill="#f67a49" fill-opacity="0.2" stroke="none"/>
<path d="M232.80,444.00 C232.80,444.67 232.10,445.83 232.80,448.00 C233.50,450.17 234.80,454.17 237.00,457.00 C239.20,459.83 241.33,461.83 246.00,465.00 C250.67,468.17 258.50,472.67 265.00,476.00 C271.50,479.33 280.50,482.83 285.00,485.00 C289.50,487.17 290.67,487.92 292.00,489.00 C293.33,490.08 294.17,490.67 293.00,491.50 C291.83,492.33 288.83,493.08 285.00,494.00 C281.17,494.92 274.50,495.50 270.00,497.00 C265.50,498.50 261.00,500.33 258.00,503.00 C255.00,505.67 254.00,509.17 252.00,513.00 C250.00,516.83 248.17,522.17 246.00,526.00 C243.83,529.83 241.20,533.00 239.00,536.00 C236.80,539.00 233.83,542.00 232.80,544.00 C231.77,546.00 232.80,547.33 232.80,548.00" fill="none" stroke="#000" stroke-width="1.2" stroke-linejoin="round"/>
<path d="M232.80,438.00 C232.80,438.67 232.27,440.00 232.80,442.00 C233.33,444.00 234.30,447.50 236.00,450.00 C237.70,452.50 238.67,454.17 243.00,457.00 C247.33,459.83 255.17,463.83 262.00,467.00 C268.83,470.17 278.67,473.83 284.00,476.00 C289.33,478.17 291.83,478.83 294.00,480.00 C296.17,481.17 297.83,482.00 297.00,483.00 C296.17,484.00 293.17,485.00 289.00,486.00 C284.83,487.00 276.50,487.67 272.00,489.00 C267.50,490.33 265.00,491.50 262.00,494.00 C259.00,496.50 256.50,500.00 254.00,504.00 C251.50,508.00 249.33,513.67 247.00,518.00 C244.67,522.33 242.37,526.33 240.00,530.00 C237.63,533.67 234.00,537.67 232.80,540.00 C231.60,542.33 232.80,543.33 232.80,544.00 Z" fill="#ee6445" fill-opacity="0.2" stroke="none"/>
<path d="M232.80,438.00 C232.80,438.67 232.27,440.00 232.80,442.00 C233.33,444.00 234.30,447.50 236.00,450.00 C237.70,452.50 238.67,454.17 243.00,457.00 C247.33,459.83 255.17,463.83 262.00,467.00 C268.83,470.17 278.67,473.83 284.00,476.00 C289.33,478.17 291.83,478.83 294.00,480.00 C296.17,481.17 297.83,482.00 297.00,483.00 C296.17,484.00 293.17,485.00 289.00,486.00 C284.83,487.00 276.50,487.67 272.00,489.00 C267.50,490.33 265.00,491.50 262.00,494.00 C259.00,496.50 256.50,500.00 254.00,504.00 C251.50,508.00 249.33,513.67 247.00,518.00 C244.67,522.33 242.37,526.33 240.00,530.00 C237.63,533.67 234.00,537.67 232.80,540.00 C231.60,542.33 232.80,543.33 232.80,544.00" fill="none" stroke="#000" stroke-width="1.2" stroke-linejoin="round"/>
<path d="M232.80,432.00 C232.80,432.67 232.43,434.33 232.80,436.00 C233.17,437.67 233.80,440.00 235.00,442.00 C236.20,444.00 236.17,445.33 240.00,448.00 C243.83,450.67 251.00,454.83 258.00,458.00 C265.00,461.17 276.00,464.83 282.00,467.00 C288.00,469.17 291.40,469.83 294.00,471.00 C296.60,472.17 298.60,472.92 297.60,474.00 C296.60,475.08 292.93,476.50 288.00,477.50 C283.07,478.50 273.33,478.75 268.00,480.00 C262.67,481.25 259.33,482.67 256.00,485.00 C252.67,487.33 250.33,490.17 248.00,494.00 C245.67,497.83 243.83,503.00 242.00,508.00 C240.17,513.00 238.53,519.33 237.00,524.00 C235.47,528.67 233.50,533.33 232.80,536.00 C232.10,538.67 232.80,539.33 232.80,540.00 Z" fill="#e1514a" fill-opacity="0.2" stroke="none"/>
<path d="M232.80,432.00 C232.80,432.67 232.43,434.33 232.80,436.00 C233.17,437.67 233.80,440.00 235.00,442.00 C236.20,444.00 236.17,445.33 240.00,448.00 C243.83,450.67 251.00,454.83 258.00,458.00 C265.00,461.17 276.00,464.83 282.00,467.00 C288.00,469.17 291.40,469.83 294.00,471.00 C296.60,472.17 298.60,472.92 297.60,474.00 C296.60,475.08 292.93,476.50 288.00,477.50 C283.07,478.50 273.33,478.75 268.00,480.00 C262.67,481.25 259.33,482.67 256.00,485.00 C252.67,487.33 250.33,490.17 248.00,494.00 C245.67,497.83 243.83,503.00 242.00,508.00 C240.17,513.00 238.53,519.33 237.00,524.00 C235.47,528.67 233.50,533.33 232.80,536.00 C232.10,538.67 232.80,539.33 232.80,540.00" fill="none" stroke="#000" stroke-width="1.2" stroke-linejoin="round"/>
<path d="M232.80,425.60 C232.80,426.27 232.52,428.03 232.80,429.60 C233.08,431.17 233.58,433.20 234.50,435.00 C235.42,436.80 234.58,437.70 238.30,440.40 C242.02,443.10 249.60,448.10 256.80,451.20 C264.00,454.30 275.47,457.12 281.50,459.00 C287.53,460.88 290.43,461.50 293.00,462.50 C295.57,463.50 297.80,463.95 296.90,465.00 C296.00,466.05 292.75,467.80 287.60,468.80 C282.45,469.80 271.93,469.80 266.00,471.00 C260.07,472.20 255.67,473.50 252.00,476.00 C248.33,478.50 246.17,482.00 244.00,486.00 C241.83,490.00 240.42,494.67 239.00,500.00 C237.58,505.33 236.53,512.67 235.50,518.00 C234.47,523.33 233.25,529.00 232.80,532.00 C232.35,535.00 232.80,535.33 232.80,536.00 Z" fill="#d53e4f" fill-opacity="0.2" stroke="none"/>
<path d="M232.80,425.60 C232.80,426.27 232.52,428.03 232.80,429.60 C233.08,431.17 233.58,433.20 234.50,435.00 C235.42,436.80 234.58,437.70 238.30,440.40 C242.02,443.10 249.60,448.10 256.80,451.20 C264.00,454.30 275.47,457.12 281.50,459.00 C287.53,460.88 290.43,461.50 293.00,462.50 C295.57,463.50 297.80,463.95 296.90,465.00 C296.00,466.05 292.75,467.80 287.60,468.80 C282.45,469.80 271.93,469.80 266.00,471.00 C260.07,472.20 255.67,473.50 252.00,476.00 C248.33,478.50 246.17,482.00 244.00,486.00 C241.83,490.00 240.42,494.67 239.00,500.00 C237.58,505.33 236.53,512.67 235.50,518.00 C234.47,523.33 233.25,529.00 232.80,532.00 C232.35,535.00 232.80,535.33 232.80,536.00" fill="none" stroke="#000" stroke-width="1.2" stroke-linejoin="round"/>
</g>
<g id="hist">
<line x1="176.40" y1="31.80" x2="161.40" y2="31.80" stroke="#e1514a" stroke-opacity="0.45" stroke-width="1.5"/>
<line x1="176.40" y1="36.50" x2="146.40" y2="36.50" stroke="#d53e4f" stroke-opacity="0.45" stroke-width="1.5"/>
<line x1="176.40" y1="36.50" x2="161.40" y2="36.50" stroke="#f67a49" stroke-opacity="0.45" stroke-width="1.5"/>
<line x1="176.40" y1="41.00" x2="146.40" y2="41.00" stroke="#e1514a" stroke-opacity="0.45" stroke-width="1.5"/>
<line x1="176.40" y1="41.00" x2="161.40" y2="41.00" stroke="#f99455" stroke-opacity="0.45" stroke-width="1.5"/>
<line x1="176.40" y1="46.00" x2="146.40" y2="46.00" stroke="#ee6445" stroke-opacity="0.45" stroke-width="1.5"/>
<line x1="176.40" y1="46.00" x2="161.40" y2="46.00" stroke="#f67a49" stroke-opacity="0.45" stroke-width="1.5"/>
<line x1="176.40" y1="50.40" x2="116.40" y2="50.40" stroke="#d53e4f" stroke-opacity="0.45" stroke-width="1.5"/>
<line x1="176.40" y1="50.40" x2="146.40" y2="50.40" stroke="#ee6445" stroke-opacity="0.45" stroke-width="1.5"/>
<line x1="176.40" y1="50.40" x2="161.40" y2="50.40" stroke="#f99455" stroke-opacity="0.45" stroke-width="1.5"/>
<line x1="176.40" y1="55.30" x2="146.40" y2="55.30" stroke="#f67a49" stroke-opacity="0.45" stroke-width="1.5"/>
<line x1="176.40" y1="55.30" x2="161.40" y2="55.30" stroke="#fdae61" stroke-opacity="0.45" stroke-width="1.5"/>
<line x1="176.40" y1="59.80" x2="116.40" y2="59.80" stroke="#e1514a" stroke-opacity="0.45" stroke-width="1.5"/>
<line x1="176.40" y1="59.80" x2="131.40" y2="59.80" stroke="#f67a49" stroke-opacity="0.45" stroke-width="1.5"/>
<line x1="176.40" y1="59.80" x2="161.40" y2="59.80" stroke="#f99455" stroke-opacity="0.45" stroke-width="1.5"/>
<line x1="176.40" y1="64.00" x2="116.40" y2="64.00" stroke="#ee6445" stroke-opacity="0.45" stroke-width="1.5"/>
<line x1="176.40" y1="64.00" x2="131.40" y2="64.00" stroke="#f99455" stroke-opacity="0.45" stroke-width="1.5"/>
<line x1="176.40" y1="64.00" x2="146.40" y2="64.00" stroke="#fdae61" stroke-opacity="0.45" stroke-width="1.5"/>
<line x1="176.40" y1="68.20" x2="116.40" y2="68.20" stroke="#f67a49" stroke-opacity="0.45" stroke-width="1.5"/>
<line x1="176.40" y1="68.20" x2="131.40" y2="68.20" stroke="#fb9e5a" stroke-opacity="0.45" stroke-width="1.5"/>
<line x1="176.40" y1="68.20" x2="146.40" y2="68.20" stroke="#fdc272" stroke-opacity="0.45" stroke-width="1.5"/>
<line x1="176.40" y1="72.40" x2="101.40" y2="72.40" stroke="#fdc272" stroke-opacity="0.45" stroke-width="1.5"/>
<line x1="176.40" y1="72.40" x2="131.40" y2="72.40" stroke="#fff3aa" stroke-opacity="0.45" stroke-width="1.5"/>
<line x1="176.40" y1="72.40" x2="146.40" y2="72.40" stroke="#f99455" stroke-opacity="0.45" stroke-width="1.5"/>
<line x1="176.40" y1="75.20" x2="101.40" y2="75.20" stroke="#fdba6b" stroke-opacity="0.45" stroke-width="1.5"/>
<line x1="176.40" y1="75.20" x2="146.40" y2="75.20" stroke="#fee695" stroke-opacity="0.45" stroke-width="1.5"/>
<line x1="176.40" y1="78.60" x2="101.40" y2="78.60" stroke="#feca79" stroke-opacity="0.45" stroke-width="1.5"/>
<line x1="176.40" y1="78.60" x2="146.40" y2="78.60" stroke="#f67a49" stroke-opacity="0.45" stroke-width="1.5"/>
<line x1="176.40" y1="78.60" x2="161.40" y2="78.60" stroke="#fee695" stroke-opacity="0.45" stroke-width="1.5"/>
<line x1="176.40" y1="82.60" x2="116.40" y2="82.60" stroke="#479fb3" stroke-opacity="0.45" stroke-width="1.5"/>
<line x1="176.40" y1="82.60" x2="146.40" y2="82.60" stroke="#fdae61" stroke-opacity="0.45" stroke-width="1.5"/>
<line x1="176.40" y1="82.60" x2="161.40" y2="82.60" stroke="#fed683" stroke-opacity="0.45" stroke-width="1.5"/>
<line x1="176.40" y1="84.20" x2="86.40" y2="84.20" stroke="#fee695" stroke-opacity="0.45" stroke-width="1.5"/>
<line x1="176.40" y1="84.20" x2="131.40" y2="84.20" stroke="#ffffbf" stroke-opacity="0.45" stroke-width="1.5"/>
<line x1="176.40" y1="87.60" x2="101.40" y2="87.60" stroke="#f5fbaf" stroke-opacity="0.45" stroke-width="1.5"/>
<line x1="176.40" y1="87.60" x2="131.40" y2="87.60" stroke="#fee695" stroke-opacity="0.45" stroke-width="1.5"/>
<line x1="176.40" y1="87.60" x2="161.40" y2="87.60" stroke="#fdc272" stroke-opacity="0.45" stroke-width="1.5"/>
<line x1="176.40" y1="91.20" x2="101.40" y2="91.20" stroke="#5cb6aa" stroke-opacity="0.45" stroke-width="1.5"/>
<line x1="176.40" y1="91.20" x2="146.40" y2="91.20" stroke="#f99455" stroke-opacity="0.45" stroke-width="1.5"/>
<line x1="176.40" y1="91.20" x2="161.40" y2="91.20" stroke="#ebf7a0" stroke-opacity="0.45" stroke-width="1.5"/>
<line x1="176.40" y1="94.60" x2="101.40" y2="94.60" stroke="#daf09a" stroke-opacity="0.45" stroke-width="1.5"/>
<line x1="176.40" y1="94.60" x2="131.40" y2="94.60" stroke="#ffffbf" stroke-opacity="0.45" stroke-width="1.5"/>
<line x1="176.40" y1="94.60" x2="146.40" y2="94.60" stroke="#abdda4" stroke-opacity="0.45" stroke-width="1.5"/>
<line x1="176.40" y1="97.50" x2="131.40" y2="97.50" stroke="#c3e79f" stroke-opacity="0.45" stroke-width="1.5"/>
<line x1="176.40" y1="97.50" x2="161.40" y2="97.50" stroke="#fff3aa" stroke-opacity="0.45" stroke-width="1.5"/>
<line x1="176.40" y1="100.80" x2="86.40" y2="100.80" stroke="#3288bd" stroke-opacity="0.45" stroke-width="1.5"/>
<line x1="176.40" y1="100.80" x2="131.40" y2="100.80" stroke="#c3e79f" stroke-opacity="0.45" stroke-width="1.5"/>
<line x1="176.40" y1="100.80" x2="161.40" y2="100.80" stroke="#f5fbaf" stroke-opacity="0.45" stroke-width="1.5"/>
<line x1="176.40" y1="104.40" x2="86.40" y2="104.40" stroke="#64c0a6" stroke-opacity="0.45" stroke-width="1.5"/>
<line x1="176.40" y1="104.40" x2="116.40" y2="104.40" stroke="#abdda4" stroke-opacity="0.45" stroke-width="1.5"/>
<line x1="176.40" y1="104.40" x2="146.40" y2="104.40" stroke="#ebf7a0" stroke-opacity="0.45" stroke-width="1.5"/>
<line x1="176.40" y1="104.40" x2="161.40" y2="104.40" stroke="#daf09a" stroke-opacity="0.45" stroke-width="1.5"/>
<line x1="176.40" y1="107.20" x2="131.40" y2="107.20" stroke="#c3e79f" stroke-opacity="0.45" stroke-width="1.5"/>
<line x1="176.40" y1="107.20" x2="161.40" y2="107.20" stroke="#8fd2a4" stroke-opacity="0.45" stroke-width="1.5"/>
<line x1="176.40" y1="109.50" x2="101.40" y2="109.50" stroke="#abdda4" stroke-opacity="0.45" stroke-width="1.5"/>
<line x1="176.40" y1="109.50" x2="116.40" y2="109.50" stroke="#53adae" stroke-opacity="0.45" stroke-width="1.5"/>
<line x1="176.40" y1="109.50" x2="161.40" y2="109.50" stroke="#daf09a" stroke-opacity="0.45" stroke-width="1.5"/>
<line x1="176.40" y1="112.30" x2="161.40" y2="112.30" stroke="#f5fbaf" stroke-opacity="0.45" stroke-width="1.5"/>
<line x1="176.40" y1="115.00" x2="161.40" y2="115.00" stroke="#479fb3" stroke-opacity="0.45" stroke-width="1.5"/>
<line x1="176.40" y1="118.40" x2="161.40" y2="118.40" stroke="#abdda4" stroke-opacity="0.45" stroke-width="1.5"/>
<line x1="176.40" y1="121.50" x2="161.40" y2="121.50" stroke="#c3e79f" stroke-opacity="0.45" stroke-width="1.5"/>
<line x1="177.30" y1="238.60" x2="66.20" y2="238.60" stroke="#e1514a" stroke-opacity="0.35" stroke-width="1.5"/>
<line x1="177.30" y1="238.60" x2="167.20" y2="238.60" stroke="#ee6445" stroke-opacity="0.35" stroke-width="1.5"/>
<line x1="177.30" y1="243.00" x2="96.50" y2="243.00" stroke="#ee6445" stroke-opacity="0.35" stroke-width="1.5"/>
<line x1="177.30" y1="243.00" x2="157.10" y2="243.00" stroke="#f67a49" stroke-opacity="0.35" stroke-width="1.5"/>
<line x1="177.30" y1="243.00" x2="167.20" y2="243.00" stroke="#e1514a" stroke-opacity="0.35" stroke-width="1.5"/>
<line x1="177.30" y1="245.80" x2="96.50" y2="245.80" stroke="#f67a49" stroke-opacity="0.35" stroke-width="1.5"/>
<line x1="177.30" y1="245.80" x2="147.00" y2="245.80" stroke="#f99455" stroke-opacity="0.35" stroke-width="1.5"/>
<line x1="177.30" y1="245.80" x2="167.20" y2="245.80" stroke="#ee6445" stroke-opacity="0.35" stroke-width="1.5"/>
<line x1="177.30" y1="249.00" x2="126.80" y2="249.00" stroke="#f36b43" stroke-opacity="0.35" stroke-width="1.5"/>
<line x1="177.30" y1="249.00" x2="157.10" y2="249.00" stroke="#fdae61" stroke-opacity="0.35" stroke-width="1.5"/>
<line x1="177.30" y1="249.00" x2="167.20" y2="249.00" stroke="#f99455" stroke-opacity="0.35" stroke-width="1.5"/>
<line x1="177.30" y1="252.00" x2="147.00" y2="252.00" stroke="#f99455" stroke-opacity="0.35" stroke-width="1.5"/>
<line x1="177.30" y1="252.00" x2="167.20" y2="252.00" stroke="#fdc272" stroke-opacity="0.35" stroke-width="1.5"/>
<line x1="177.30" y1="255.70" x2="157.10" y2="255.70" stroke="#fdae61" stroke-opacity="0.35" stroke-width="1.5"/>
<line x1="177.30" y1="255.70" x2="167.20" y2="255.70" stroke="#f67a49" stroke-opacity="0.35" stroke-width="1.5"/>
<line x1="177.30" y1="259.00" x2="147.00" y2="259.00" stroke="#fdc272" stroke-opacity="0.35" stroke-width="1.5"/>
<line x1="177.30" y1="259.00" x2="167.20" y2="259.00" stroke="#fed683" stroke-opacity="0.35" stroke-width="1.5"/>
<line x1="177.30" y1="262.60" x2="157.10" y2="262.60" stroke="#fee695" stroke-opacity="0.35" stroke-width="1.5"/>
<line x1="177.30" y1="262.60" x2="167.20" y2="262.60" stroke="#fdae61" stroke-opacity="0.35" stroke-width="1.5"/>
<line x1="177.30" y1="266.60" x2="116.70" y2="266.60" stroke="#fff3aa" stroke-opacity="0.35" stroke-width="1.5"/>
<line x1="177.30" y1="266.60" x2="157.10" y2="266.60" stroke="#fdc272" stroke-opacity="0.35" stroke-width="1.5"/>
<line x1="177.30" y1="266.60" x2="167.20" y2="266.60" stroke="#f99455" stroke-opacity="0.35" stroke-width="1.5"/>
<line x1="177.30" y1="270.20" x2="126.80" y2="270.20" stroke="#ffffbf" stroke-opacity="0.35" stroke-width="1.5"/>
<line x1="177.30" y1="270.20" x2="157.10" y2="270.20" stroke="#fed683" stroke-opacity="0.35" stroke-width="1.5"/>
<line x1="177.30" y1="270.20" x2="167.20" y2="270.20" stroke="#fee695" stroke-opacity="0.35" stroke-width="1.5"/>
<line x1="177.30" y1="275.00" x2="56.10" y2="275.00" stroke="#ffffbf" stroke-opacity="0.35" stroke-width="1.5"/>
<line x1="177.30" y1="275.00" x2="147.00" y2="275.00" stroke="#fed683" stroke-opacity="0.35" stroke-width="1.5"/>
<line x1="177.30" y1="275.00" x2="167.20" y2="275.00" stroke="#fdc272" stroke-opacity="0.35" stroke-width="1.5"/>
<line x1="177.30" y1="278.20" x2="86.40" y2="278.20" stroke="#fed683" stroke-opacity="0.35" stroke-width="1.5"/>
<line x1="177.30" y1="278.20" x2="157.10" y2="278.20" stroke="#fdc272" stroke-opacity="0.35" stroke-width="1.5"/>
<line x1="177.30" y1="278.20" x2="167.20" y2="278.20" stroke="#fdae61" stroke-opacity="0.35" stroke-width="1.5"/>
<line x1="177.30" y1="283.00" x2="136.90" y2="283.00" stroke="#fee695" stroke-opacity="0.35" stroke-width="1.5"/>
<line x1="177.30" y1="283.00" x2="157.10" y2="283.00" stroke="#f5fbaf" stroke-opacity="0.35" stroke-width="1.5"/>
<line x1="177.30" y1="283.00" x2="167.20" y2="283.00" stroke="#daf09a" stroke-opacity="0.35" stroke-width="1.5"/>
<line x1="177.30" y1="286.80" x2="147.00" y2="286.80" stroke="#f5fbaf" stroke-opacity="0.35" stroke-width="1.5"/>
<line x1="177.30" y1="286.80" x2="157.10" y2="286.80" stroke="#74c7a5" stroke-opacity="0.35" stroke-width="1.5"/>
<line x1="177.30" y1="286.80" x2="167.20" y2="286.80" stroke="#c3e79f" stroke-opacity="0.35" stroke-width="1.5"/>
<line x1="177.30" y1="290.50" x2="157.10" y2="290.50" stroke="#ebf7a0" stroke-opacity="0.35" stroke-width="1.5"/>
<line x1="177.30" y1="290.50" x2="167.20" y2="290.50" stroke="#abdda4" stroke-opacity="0.35" stroke-width="1.5"/>
<line x1="177.30" y1="294.00" x2="157.10" y2="294.00" stroke="#daf09a" stroke-opacity="0.35" stroke-width="1.5"/>
<line x1="177.30" y1="294.00" x2="167.20" y2="294.00" stroke="#ffffbf" stroke-opacity="0.35" stroke-width="1.5"/>
<line x1="177.30" y1="296.00" x2="136.90" y2="296.00" stroke="#f5fbaf" stroke-opacity="0.35" stroke-width="1.5"/>
<line x1="177.30" y1="296.00" x2="167.20" y2="296.00" stroke="#8fd2a4" stroke-opacity="0.35" stroke-width="1.5"/>
<line x1="177.30" y1="298.80" x2="147.00" y2="298.80" stroke="#ebf7a0" stroke-opacity="0.35" stroke-width="1.5"/>
<line x1="177.30" y1="298.80" x2="167.20" y2="298.80" stroke="#c3e79f" stroke-opacity="0.35" stroke-width="1.5"/>
<line x1="177.30" y1="301.40" x2="96.50" y2="301.40" stroke="#479fb3" stroke-opacity="0.35" stroke-width="1.5"/>
<line x1="177.30" y1="301.40" x2="126.80" y2="301.40" stroke="#abdda4" stroke-opacity="0.35" stroke-width="1.5"/>
<line x1="177.30" y1="301.40" x2="167.20" y2="301.40" stroke="#c3e79f" stroke-opacity="0.35" stroke-width="1.5"/>
<line x1="177.30" y1="305.00" x2="116.70" y2="305.00" stroke="#c3e79f" stroke-opacity="0.35" stroke-width="1.5"/>
<line x1="177.30" y1="305.00" x2="157.10" y2="305.00" stroke="#8fd2a4" stroke-opacity="0.35" stroke-width="1.5"/>
<line x1="177.30" y1="305.00" x2="167.20" y2="305.00" stroke="#5cb6aa" stroke-opacity="0.35" stroke-width="1.5"/>
<line x1="177.30" y1="308.70" x2="116.70" y2="308.70" stroke="#abdda4" stroke-opacity="0.35" stroke-width="1.5"/>
<line x1="177.30" y1="308.70" x2="126.80" y2="308.70" stroke="#5cb6aa" stroke-opacity="0.35" stroke-width="1.5"/>
<line x1="177.30" y1="308.70" x2="167.20" y2="308.70" stroke="#daf09a" stroke-opacity="0.35" stroke-width="1.5"/>
<line x1="177.30" y1="311.20" x2="136.90" y2="311.20" stroke="#9ad7a4" stroke-opacity="0.35" stroke-width="1.5"/>
<line x1="177.30" y1="311.20" x2="167.20" y2="311.20" stroke="#c3e79f" stroke-opacity="0.35" stroke-width="1.5"/>
<line x1="177.30" y1="316.00" x2="157.10" y2="316.00" stroke="#479fb3" stroke-opacity="0.35" stroke-width="1.5"/>
<line x1="177.30" y1="316.00" x2="167.20" y2="316.00" stroke="#abdda4" stroke-opacity="0.35" stroke-width="1.5"/>
<line x1="177.30" y1="319.60" x2="167.20" y2="319.60" stroke="#abdda4" stroke-opacity="0.35" stroke-width="1.5"/>
<line x1="177.30" y1="325.00" x2="167.20" y2="325.00" stroke="#ebf7a0" stroke-opacity="0.35" stroke-width="1.5"/>
<line x1="177.30" y1="330.50" x2="167.20" y2="330.50" stroke="#abdda4" stroke-opacity="0.35" stroke-width="1.5"/>
<line x1="177.30" y1="336.00" x2="167.20" y2="336.00" stroke="#5cb6aa" stroke-opacity="0.35" stroke-width="1.5"/>
<line x1="177.30" y1="340.40" x2="167.20" y2="340.40" stroke="#ebf7a0" stroke-opacity="0.35" stroke-width="1.5"/>
<line x1="177.30" y1="238.68" x2="157.10" y2="238.68" stroke="#d53e4f" stroke-opacity="0.3" stroke-width="1.5"/>
<line x1="177.30" y1="238.68" x2="167.20" y2="238.68" stroke="#e65848" stroke-opacity="0.3" stroke-width="1.5"/>
<line x1="177.30" y1="238.68" x2="167.20" y2="238.68" stroke="#d53e4f" stroke-opacity="0.3" stroke-width="1.5"/>
<line x1="177.30" y1="241.95" x2="167.20" y2="241.95" stroke="#f67b49" stroke-opacity="0.3" stroke-width="1.5"/>
<line x1="177.30" y1="241.95" x2="167.20" y2="241.95" stroke="#f7814c" stroke-opacity="0.3" stroke-width="1.5"/>
<line x1="177.30" y1="245.57" x2="157.10" y2="245.57" stroke="#da464d" stroke-opacity="0.3" stroke-width="1.5"/>
<line x1="177.30" y1="245.57" x2="167.20" y2="245.57" stroke="#f67b49" stroke-opacity="0.3" stroke-width="1.5"/>
<line x1="177.30" y1="245.57" x2="167.20" y2="245.57" stroke="#d53e4f" stroke-opacity="0.3" stroke-width="1.5"/>
<line x1="177.30" y1="249.29" x2="167.20" y2="249.29" stroke="#ed6246" stroke-opacity="0.3" stroke-width="1.5"/>
<line x1="177.30" y1="249.29" x2="167.20" y2="249.29" stroke="#fa9a58" stroke-opacity="0.3" stroke-width="1.5"/>
<line x1="177.30" y1="252.30" x2="167.20" y2="252.30" stroke="#f7814c" stroke-opacity="0.3" stroke-width="1.5"/>
<line x1="177.30" y1="252.30" x2="167.20" y2="252.30" stroke="#f06844" stroke-opacity="0.3" stroke-width="1.5"/>
<line x1="177.30" y1="256.27" x2="157.10" y2="256.27" stroke="#fdc373" stroke-opacity="0.3" stroke-width="1.5"/>
<line x1="177.30" y1="256.27" x2="167.20" y2="256.27" stroke="#f67948" stroke-opacity="0.3" stroke-width="1.5"/>
<line x1="177.30" y1="256.27" x2="167.20" y2="256.27" stroke="#f88d52" stroke-opacity="0.3" stroke-width="1.5"/>
<line x1="177.30" y1="259.67" x2="167.20" y2="259.67" stroke="#fdb063" stroke-opacity="0.3" stroke-width="1.5"/>
<line x1="177.30" y1="259.67" x2="167.20" y2="259.67" stroke="#f99254" stroke-opacity="0.3" stroke-width="1.5"/>
<line x1="177.30" y1="263.00" x2="167.20" y2="263.00" stroke="#f98e52" stroke-opacity="0.3" stroke-width="1.5"/>
<line x1="177.30" y1="263.00" x2="167.20" y2="263.00" stroke="#fec877" stroke-opacity="0.3" stroke-width="1.5"/>
<line x1="177.30" y1="266.35" x2="157.10" y2="266.35" stroke="#fee797" stroke-opacity="0.3" stroke-width="1.5"/>
<line x1="177.30" y1="266.35" x2="167.20" y2="266.35" stroke="#fba15b" stroke-opacity="0.3" stroke-width="1.5"/>
<line x1="177.30" y1="266.35" x2="167.20" y2="266.35" stroke="#fca95e" stroke-opacity="0.3" stroke-width="1.5"/>
<line x1="177.30" y1="269.89" x2="167.20" y2="269.89" stroke="#fdb264" stroke-opacity="0.3" stroke-width="1.5"/>
<line x1="177.30" y1="269.89" x2="167.20" y2="269.89" stroke="#fee390" stroke-opacity="0.3" stroke-width="1.5"/>
<line x1="177.30" y1="273.55" x2="157.10" y2="273.55" stroke="#fee593" stroke-opacity="0.3" stroke-width="1.5"/>
<line x1="177.30" y1="273.55" x2="167.20" y2="273.55" stroke="#fee999" stroke-opacity="0.3" stroke-width="1.5"/>
<line x1="177.30" y1="273.55" x2="167.20" y2="273.55" stroke="#fff0a5" stroke-opacity="0.3" stroke-width="1.5"/>
<line x1="177.30" y1="277.20" x2="167.20" y2="277.20" stroke="#fed884" stroke-opacity="0.3" stroke-width="1.5"/>
<line x1="177.30" y1="277.20" x2="167.20" y2="277.20" stroke="#fee899" stroke-opacity="0.3" stroke-width="1.5"/>
<line x1="177.30" y1="280.76" x2="157.10" y2="280.76" stroke="#feeb9e" stroke-opacity="0.3" stroke-width="1.5"/>
<line x1="177.30" y1="280.76" x2="167.20" y2="280.76" stroke="#fee08b" stroke-opacity="0.3" stroke-width="1.5"/>
<line x1="177.30" y1="280.76" x2="167.20" y2="280.76" stroke="#fff3ab" stroke-opacity="0.3" stroke-width="1.5"/>
<line x1="177.30" y1="283.80" x2="167.20" y2="283.80" stroke="#feefa4" stroke-opacity="0.3" stroke-width="1.5"/>
<line x1="177.30" y1="283.80" x2="167.20" y2="283.80" stroke="#fcfeba" stroke-opacity="0.3" stroke-width="1.5"/>
<line x1="177.30" y1="287.67" x2="157.10" y2="287.67" stroke="#d5ee9b" stroke-opacity="0.3" stroke-width="1.5"/>
<line x1="177.30" y1="287.67" x2="167.20" y2="287.67" stroke="#fffdbc" stroke-opacity="0.3" stroke-width="1.5"/>
<line x1="177.30" y1="287.67" x2="167.20" y2="287.67" stroke="#f4fbae" stroke-opacity="0.3" stroke-width="1.5"/>
<line x1="177.30" y1="290.90" x2="167.20" y2="290.90" stroke="#fffebd" stroke-opacity="0.3" stroke-width="1.5"/>
<line x1="177.30" y1="290.90" x2="167.20" y2="290.90" stroke="#bde4a0" stroke-opacity="0.3" stroke-width="1.5"/>
<line x1="177.30" y1="294.66" x2="167.20" y2="294.66" stroke="#b1dfa3" stroke-opacity="0.3" stroke-width="1.5"/>
<line x1="177.30" y1="294.66" x2="167.20" y2="294.66" stroke="#c1e6a0" stroke-opacity="0.3" stroke-width="1.5"/>
<line x1="177.30" y1="297.83" x2="157.10" y2="297.83" stroke="#daf09a" stroke-opacity="0.3" stroke-width="1.5"/>
<line x1="177.30" y1="297.83" x2="167.20" y2="297.83" stroke="#8dd1a4" stroke-opacity="0.3" stroke-width="1.5"/>
<line x1="177.30" y1="297.83" x2="167.20" y2="297.83" stroke="#d2ed9c" stroke-opacity="0.3" stroke-width="1.5"/>
<line x1="177.30" y1="301.72" x2="167.20" y2="301.72" stroke="#ddf19a" stroke-opacity="0.3" stroke-width="1.5"/>
<line x1="177.30" y1="301.72" x2="167.20" y2="301.72" stroke="#e7f59a" stroke-opacity="0.3" stroke-width="1.5"/>
<line x1="177.30" y1="304.63" x2="167.20" y2="304.63" stroke="#84cea5" stroke-opacity="0.3" stroke-width="1.5"/>
<line x1="177.30" y1="304.63" x2="167.20" y2="304.63" stroke="#65c1a5" stroke-opacity="0.3" stroke-width="1.5"/>
<line x1="177.30" y1="308.19" x2="167.20" y2="308.19" stroke="#60bca8" stroke-opacity="0.3" stroke-width="1.5"/>
<line x1="177.30" y1="308.19" x2="167.20" y2="308.19" stroke="#7bcaa5" stroke-opacity="0.3" stroke-width="1.5"/>
<line x1="177.30" y1="312.13" x2="157.10" y2="312.13" stroke="#a3daa4" stroke-opacity="0.3" stroke-width="1.5"/>
<line x1="177.30" y1="312.13" x2="167.20" y2="312.13" stroke="#4098b6" stroke-opacity="0.3" stroke-width="1.5"/>
<line x1="177.30" y1="312.13" x2="167.20" y2="312.13" stroke="#a1d9a4" stroke-opacity="0.3" stroke-width="1.5"/>
<line x1="177.30" y1="315.47" x2="167.20" y2="315.47" stroke="#51aaaf" stroke-opacity="0.3" stroke-width="1.5"/>
<line x1="177.30" y1="315.47" x2="167.20" y2="315.47" stroke="#59b4ab" stroke-opacity="0.3" stroke-width="1.5"/>
<line x1="177.30" y1="319.13" x2="167.20" y2="319.13" stroke="#56b0ac" stroke-opacity="0.3" stroke-width="1.5"/>
<line x1="177.30" y1="319.13" x2="167.20" y2="319.13" stroke="#52acae" stroke-opacity="0.3" stroke-width="1.5"/>
<line x1="176.40" y1="451.20" x2="161.40" y2="451.20" stroke="#e1514a" stroke-opacity="0.3" stroke-width="1.0"/>
<line x1="176.40" y1="455.00" x2="161.40" y2="455.00" stroke="#ee6445" stroke-opacity="0.3" stroke-width="1.0"/>
<line x1="176.40" y1="457.70" x2="146.40" y2="457.70" stroke="#e1514a" stroke-opacity="0.3" stroke-width="1.0"/>
<line x1="176.40" y1="457.70" x2="161.40" y2="457.70" stroke="#f67a49" stroke-opacity="0.3" stroke-width="1.0"/>
<line x1="176.40" y1="460.30" x2="146.40" y2="460.30" stroke="#ee6445" stroke-opacity="0.3" stroke-width="1.0"/>
<line x1="176.40" y1="460.30" x2="161.40" y2="460.30" stroke="#f99455" stroke-opacity="0.3" stroke-width="1.0"/>
<line x1="176.40" y1="464.00" x2="131.40" y2="464.00" stroke="#e95c47" stroke-opacity="0.3" stroke-width="1.0"/>
<line x1="176.40" y1="464.00" x2="161.40" y2="464.00" stroke="#f67a49" stroke-opacity="0.3" stroke-width="1.0"/>
<line x1="176.40" y1="467.60" x2="116.40" y2="467.60" stroke="#ee6445" stroke-opacity="0.3" stroke-width="1.0"/>
<line x1="176.40" y1="467.60" x2="146.40" y2="467.60" stroke="#f99455" stroke-opacity="0.3" stroke-width="1.0"/>
<line x1="176.40" y1="467.60" x2="161.40" y2="467.60" stroke="#fdae61" stroke-opacity="0.3" stroke-width="1.0"/>
<line x1="176.40" y1="470.50" x2="116.40" y2="470.50" stroke="#f67a49" stroke-opacity="0.3" stroke-width="1.0"/>
<line x1="176.40" y1="470.50" x2="146.40" y2="470.50" stroke="#ee6445" stroke-opacity="0.3" stroke-width="1.0"/>
<line x1="176.40" y1="470.50" x2="161.40" y2="470.50" stroke="#fdc272" stroke-opacity="0.3" stroke-width="1.0"/>
<line x1="176.40" y1="474.00" x2="116.40" y2="474.00" stroke="#f36b43" stroke-opacity="0.3" stroke-width="1.0"/>
<line x1="176.40" y1="474.00" x2="131.40" y2="474.00" stroke="#f99455" stroke-opacity="0.3" stroke-width="1.0"/>
<line x1="176.40" y1="474.00" x2="161.40" y2="474.00" stroke="#fdae61" stroke-opacity="0.3" stroke-width="1.0"/>
<line x1="176.40" y1="476.50" x2="146.40" y2="476.50" stroke="#f99455" stroke-opacity="0.3" stroke-width="1.0"/>
<line x1="176.40" y1="476.50" x2="161.40" y2="476.50" stroke="#fdc272" stroke-opacity="0.3" stroke-width="1.0"/>
<line x1="176.40" y1="478.50" x2="101.40" y2="478.50" stroke="#f99455" stroke-opacity="0.3" stroke-width="1.0"/>
<line x1="176.40" y1="478.50" x2="146.40" y2="478.50" stroke="#fdae61" stroke-opacity="0.3" stroke-width="1.0"/>
<line x1="176.40" y1="478.50" x2="161.40" y2="478.50" stroke="#ee6445" stroke-opacity="0.3" stroke-width="1.0"/>
<line x1="176.40" y1="481.40" x2="116.40" y2="481.40" stroke="#fdae61" stroke-opacity="0.3" stroke-width="1.0"/>
<line x1="176.40" y1="481.40" x2="146.40" y2="481.40" stroke="#f67a49" stroke-opacity="0.3" stroke-width="1.0"/>
<line x1="176.40" y1="481.40" x2="161.40" y2="481.40" stroke="#fdc272" stroke-opacity="0.3" stroke-width="1.0"/>
<line x1="176.40" y1="485.00" x2="131.40" y2="485.00" stroke="#fdba6b" stroke-opacity="0.3" stroke-width="1.0"/>
<line x1="176.40" y1="485.00" x2="146.40" y2="485.00" stroke="#fed683" stroke-opacity="0.3" stroke-width="1.0"/>
<line x1="176.40" y1="485.00" x2="161.40" y2="485.00" stroke="#f99455" stroke-opacity="0.3" stroke-width="1.0"/>
<line x1="176.40" y1="488.70" x2="131.40" y2="488.70" stroke="#fdc272" stroke-opacity="0.3" stroke-width="1.0"/>
<line x1="176.40" y1="488.70" x2="161.40" y2="488.70" stroke="#fee695" stroke-opacity="0.3" stroke-width="1.0"/>
<line x1="176.40" y1="491.60" x2="146.40" y2="491.60" stroke="#feca79" stroke-opacity="0.3" stroke-width="1.0"/>
<line x1="176.40" y1="491.60" x2="161.40" y2="491.60" stroke="#fdae61" stroke-opacity="0.3" stroke-width="1.0"/>
<line x1="176.40" y1="494.40" x2="146.40" y2="494.40" stroke="#fee695" stroke-opacity="0.3" stroke-width="1.0"/>
<line x1="176.40" y1="494.40" x2="161.40" y2="494.40" stroke="#fff3aa" stroke-opacity="0.3" stroke-width="1.0"/>
<line x1="176.40" y1="497.30" x2="146.40" y2="497.30" stroke="#fff3aa" stroke-opacity="0.3" stroke-width="1.0"/>
<line x1="176.40" y1="497.30" x2="161.40" y2="497.30" stroke="#fdc272" stroke-opacity="0.3" stroke-width="1.0"/>
<line x1="176.40" y1="500.50" x2="131.40" y2="500.50" stroke="#ffffbf" stroke-opacity="0.3" stroke-width="1.0"/>
<line x1="176.40" y1="500.50" x2="161.40" y2="500.50" stroke="#fee695" stroke-opacity="0.3" stroke-width="1.0"/>
<line x1="176.40" y1="503.50" x2="71.40" y2="503.50" stroke="#fed683" stroke-opacity="0.3" stroke-width="1.0"/>
<line x1="176.40" y1="503.50" x2="146.40" y2="503.50" stroke="#fff3aa" stroke-opacity="0.3" stroke-width="1.0"/>
<line x1="176.40" y1="503.50" x2="161.40" y2="503.50" stroke="#f5fbaf" stroke-opacity="0.3" stroke-width="1.0"/>
<line x1="176.40" y1="505.30" x2="101.40" y2="505.30" stroke="#fff3aa" stroke-opacity="0.3" stroke-width="1.0"/>
<line x1="176.40" y1="505.30" x2="146.40" y2="505.30" stroke="#ebf7a0" stroke-opacity="0.3" stroke-width="1.0"/>
<line x1="176.40" y1="505.30" x2="161.40" y2="505.30" stroke="#fdc272" stroke-opacity="0.3" stroke-width="1.0"/>
<line x1="176.40" y1="509.00" x2="131.40" y2="509.00" stroke="#64c0a6" stroke-opacity="0.3" stroke-width="1.0"/>
<line x1="176.40" y1="509.00" x2="146.40" y2="509.00" stroke="#ffffbf" stroke-opacity="0.3" stroke-width="1.0"/>
<line x1="176.40" y1="509.00" x2="161.40" y2="509.00" stroke="#daf09a" stroke-opacity="0.3" stroke-width="1.0"/>
<line x1="176.40" y1="512.60" x2="131.40" y2="512.60" stroke="#abdda4" stroke-opacity="0.3" stroke-width="1.0"/>
<line x1="176.40" y1="512.60" x2="146.40" y2="512.60" stroke="#fee695" stroke-opacity="0.3" stroke-width="1.0"/>
<line x1="176.40" y1="512.60" x2="161.40" y2="512.60" stroke="#ebf7a0" stroke-opacity="0.3" stroke-width="1.0"/>
<line x1="176.40" y1="515.50" x2="131.40" y2="515.50" stroke="#479fb3" stroke-opacity="0.3" stroke-width="1.0"/>
<line x1="176.40" y1="515.50" x2="161.40" y2="515.50" stroke="#c3e79f" stroke-opacity="0.3" stroke-width="1.0"/>
<line x1="176.40" y1="519.00" x2="71.40" y2="519.00" stroke="#fdc272" stroke-opacity="0.3" stroke-width="1.0"/>
<line x1="176.40" y1="519.00" x2="131.40" y2="519.00" stroke="#8fd2a4" stroke-opacity="0.3" stroke-width="1.0"/>
<line x1="176.40" y1="519.00" x2="161.40" y2="519.00" stroke="#ffffbf" stroke-opacity="0.3" stroke-width="1.0"/>
<line x1="176.40" y1="522.80" x2="131.40" y2="522.80" stroke="#5cb6aa" stroke-opacity="0.3" stroke-width="1.0"/>
<line x1="176.40" y1="522.80" x2="146.40" y2="522.80" stroke="#c3e79f" stroke-opacity="0.3" stroke-width="1.0"/>
<line x1="176.40" y1="522.80" x2="161.40" y2="522.80" stroke="#f5fbaf" stroke-opacity="0.3" stroke-width="1.0"/>
<line x1="176.40" y1="526.00" x2="161.40" y2="526.00" stroke="#daf09a" stroke-opacity="0.3" stroke-width="1.0"/>
<line x1="176.40" y1="530.00" x2="161.40" y2="530.00" stroke="#c3e79f" stroke-opacity="0.3" stroke-width="1.0"/>
<line x1="176.40" y1="534.40" x2="86.40" y2="534.40" stroke="#abdda4" stroke-opacity="0.3" stroke-width="1.0"/>
<line x1="176.40" y1="534.40" x2="161.40" y2="534.40" stroke="#8fd2a4" stroke-opacity="0.3" stroke-width="1.0"/>
<line x1="176.40" y1="452.18" x2="161.40" y2="452.18" stroke="#d53e4f" stroke-opacity="0.25" stroke-width="1.0"/>
<line x1="176.40" y1="454.60" x2="161.40" y2="454.60" stroke="#d53e4f" stroke-opacity="0.25" stroke-width="1.0"/>
<line x1="176.40" y1="456.97" x2="161.40" y2="456.97" stroke="#f7814c" stroke-opacity="0.25" stroke-width="1.0"/>
<line x1="176.40" y1="458.82" x2="161.40" y2="458.82" stroke="#df4d4b" stroke-opacity="0.25" stroke-width="1.0"/>
<line x1="176.40" y1="461.44" x2="146.40" y2="461.44" stroke="#ec6146" stroke-opacity="0.25" stroke-width="1.0"/>
<line x1="176.40" y1="461.44" x2="161.40" y2="461.44" stroke="#f06744" stroke-opacity="0.25" stroke-width="1.0"/>
<line x1="176.40" y1="464.00" x2="146.40" y2="464.00" stroke="#f7864e" stroke-opacity="0.25" stroke-width="1.0"/>
<line x1="176.40" y1="464.00" x2="161.40" y2="464.00" stroke="#fdab60" stroke-opacity="0.25" stroke-width="1.0"/>
<line x1="176.40" y1="465.88" x2="146.40" y2="465.88" stroke="#ec6146" stroke-opacity="0.25" stroke-width="1.0"/>
<line x1="176.40" y1="465.88" x2="161.40" y2="465.88" stroke="#eb6046" stroke-opacity="0.25" stroke-width="1.0"/>
<line x1="176.40" y1="468.67" x2="146.40" y2="468.67" stroke="#fdba6b" stroke-opacity="0.25" stroke-width="1.0"/>
<line x1="176.40" y1="468.67" x2="161.40" y2="468.67" stroke="#f67b49" stroke-opacity="0.25" stroke-width="1.0"/>
<line x1="176.40" y1="471.02" x2="146.40" y2="471.02" stroke="#f06745" stroke-opacity="0.25" stroke-width="1.0"/>
<line x1="176.40" y1="471.02" x2="161.40" y2="471.02" stroke="#fdb869" stroke-opacity="0.25" stroke-width="1.0"/>
<line x1="176.40" y1="473.17" x2="161.40" y2="473.17" stroke="#fdba6b" stroke-opacity="0.25" stroke-width="1.0"/>
<line x1="176.40" y1="475.61" x2="146.40" y2="475.61" stroke="#f7834d" stroke-opacity="0.25" stroke-width="1.0"/>
<line x1="176.40" y1="475.61" x2="161.40" y2="475.61" stroke="#fa9b58" stroke-opacity="0.25" stroke-width="1.0"/>
<line x1="176.40" y1="477.73" x2="161.40" y2="477.73" stroke="#f7844e" stroke-opacity="0.25" stroke-width="1.0"/>
<line x1="176.40" y1="479.94" x2="146.40" y2="479.94" stroke="#fee18c" stroke-opacity="0.25" stroke-width="1.0"/>
<line x1="176.40" y1="479.94" x2="161.40" y2="479.94" stroke="#fed27f" stroke-opacity="0.25" stroke-width="1.0"/>
<line x1="176.40" y1="482.25" x2="161.40" y2="482.25" stroke="#fee18d" stroke-opacity="0.25" stroke-width="1.0"/>
<line x1="176.40" y1="485.09" x2="146.40" y2="485.09" stroke="#fee594" stroke-opacity="0.25" stroke-width="1.0"/>
<line x1="176.40" y1="485.09" x2="161.40" y2="485.09" stroke="#fec877" stroke-opacity="0.25" stroke-width="1.0"/>
<line x1="176.40" y1="487.37" x2="146.40" y2="487.37" stroke="#fee390" stroke-opacity="0.25" stroke-width="1.0"/>
<line x1="176.40" y1="487.37" x2="161.40" y2="487.37" stroke="#fee391" stroke-opacity="0.25" stroke-width="1.0"/>
<line x1="176.40" y1="489.81" x2="161.40" y2="489.81" stroke="#fcfeba" stroke-opacity="0.25" stroke-width="1.0"/>
<line x1="176.40" y1="489.81" x2="161.40" y2="489.81" stroke="#ebf7a0" stroke-opacity="0.25" stroke-width="1.0"/>
<line x1="176.40" y1="489.81" x2="161.40" y2="489.81" stroke="#fdc675" stroke-opacity="0.25" stroke-width="1.0"/>
<line x1="176.40" y1="491.66" x2="161.40" y2="491.66" stroke="#f5fbaf" stroke-opacity="0.25" stroke-width="1.0"/>
<line x1="176.40" y1="491.66" x2="161.40" y2="491.66" stroke="#fffcba" stroke-opacity="0.25" stroke-width="1.0"/>
<line x1="176.40" y1="491.66" x2="161.40" y2="491.66" stroke="#fee797" stroke-opacity="0.25" stroke-width="1.0"/>
<line x1="176.40" y1="494.56" x2="146.40" y2="494.56" stroke="#fede89" stroke-opacity="0.25" stroke-width="1.0"/>
<line x1="176.40" y1="494.56" x2="161.40" y2="494.56" stroke="#f1f9a9" stroke-opacity="0.25" stroke-width="1.0"/>
<line x1="176.40" y1="494.56" x2="161.40" y2="494.56" stroke="#eff8a5" stroke-opacity="0.25" stroke-width="1.0"/>
<line x1="176.40" y1="494.56" x2="161.40" y2="494.56" stroke="#fed986" stroke-opacity="0.25" stroke-width="1.0"/>
<line x1="176.40" y1="496.41" x2="146.40" y2="496.41" stroke="#fcfeba" stroke-opacity="0.25" stroke-width="1.0"/>
<line x1="176.40" y1="496.41" x2="161.40" y2="496.41" stroke="#fee18d" stroke-opacity="0.25" stroke-width="1.0"/>
<line x1="176.40" y1="496.41" x2="161.40" y2="496.41" stroke="#fff9b5" stroke-opacity="0.25" stroke-width="1.0"/>
<line x1="176.40" y1="496.41" x2="161.40" y2="496.41" stroke="#fee08c" stroke-opacity="0.25" stroke-width="1.0"/>
<line x1="176.40" y1="499.27" x2="161.40" y2="499.27" stroke="#fff3ab" stroke-opacity="0.25" stroke-width="1.0"/>
<line x1="176.40" y1="499.27" x2="161.40" y2="499.27" stroke="#fedd89" stroke-opacity="0.25" stroke-width="1.0"/>
<line x1="176.40" y1="499.27" x2="161.40" y2="499.27" stroke="#c4e79f" stroke-opacity="0.25" stroke-width="1.0"/>
<line x1="176.40" y1="501.60" x2="146.40" y2="501.60" stroke="#fcfeba" stroke-opacity="0.25" stroke-width="1.0"/>
<line x1="176.40" y1="501.60" x2="161.40" y2="501.60" stroke="#e1f399" stroke-opacity="0.25" stroke-width="1.0"/>
<line x1="176.40" y1="501.60" x2="161.40" y2="501.60" stroke="#fede8a" stroke-opacity="0.25" stroke-width="1.0"/>
<line x1="176.40" y1="501.60" x2="161.40" y2="501.60" stroke="#ebf79f" stroke-opacity="0.25" stroke-width="1.0"/>
<line x1="176.40" y1="503.49" x2="146.40" y2="503.49" stroke="#ebf7a0" stroke-opacity="0.25" stroke-width="1.0"/>
<line x1="176.40" y1="503.49" x2="161.40" y2="503.49" stroke="#f4fbaf" stroke-opacity="0.25" stroke-width="1.0"/>
<line x1="176.40" y1="503.49" x2="161.40" y2="503.49" stroke="#c6e89e" stroke-opacity="0.25" stroke-width="1.0"/>
<line x1="176.40" y1="503.49" x2="161.40" y2="503.49" stroke="#b3e0a2" stroke-opacity="0.25" stroke-width="1.0"/>
<line x1="176.40" y1="506.34" x2="161.40" y2="506.34" stroke="#f6fcb1" stroke-opacity="0.25" stroke-width="1.0"/>
<line x1="176.40" y1="506.34" x2="161.40" y2="506.34" stroke="#b7e2a2" stroke-opacity="0.25" stroke-width="1.0"/>
<line x1="176.40" y1="506.34" x2="161.40" y2="506.34" stroke="#a0d9a4" stroke-opacity="0.25" stroke-width="1.0"/>
<line x1="176.40" y1="508.60" x2="161.40" y2="508.60" stroke="#eaf69e" stroke-opacity="0.25" stroke-width="1.0"/>
<line x1="176.40" y1="508.60" x2="161.40" y2="508.60" stroke="#b9e3a1" stroke-opacity="0.25" stroke-width="1.0"/>
<line x1="176.40" y1="508.60" x2="161.40" y2="508.60" stroke="#f0f9a7" stroke-opacity="0.25" stroke-width="1.0"/>
<line x1="176.40" y1="510.47" x2="161.40" y2="510.47" stroke="#daf09a" stroke-opacity="0.25" stroke-width="1.0"/>
<line x1="176.40" y1="510.47" x2="161.40" y2="510.47" stroke="#85cea5" stroke-opacity="0.25" stroke-width="1.0"/>
<line x1="176.40" y1="510.47" x2="161.40" y2="510.47" stroke="#fff9b4" stroke-opacity="0.25" stroke-width="1.0"/>
<line x1="176.40" y1="513.37" x2="161.40" y2="513.37" stroke="#d2ed9c" stroke-opacity="0.25" stroke-width="1.0"/>
<line x1="176.40" y1="513.37" x2="161.40" y2="513.37" stroke="#88cfa5" stroke-opacity="0.25" stroke-width="1.0"/>
<line x1="176.40" y1="513.37" x2="161.40" y2="513.37" stroke="#f0f9a8" stroke-opacity="0.25" stroke-width="1.0"/>
<line x1="176.40" y1="515.24" x2="161.40" y2="515.24" stroke="#d5ee9b" stroke-opacity="0.25" stroke-width="1.0"/>
<line x1="176.40" y1="515.24" x2="161.40" y2="515.24" stroke="#74c8a5" stroke-opacity="0.25" stroke-width="1.0"/>
<line x1="176.40" y1="515.24" x2="161.40" y2="515.24" stroke="#bae3a1" stroke-opacity="0.25" stroke-width="1.0"/>
<line x1="176.40" y1="518.09" x2="146.40" y2="518.09" stroke="#b6e2a2" stroke-opacity="0.25" stroke-width="1.0"/>
<line x1="176.40" y1="518.09" x2="161.40" y2="518.09" stroke="#e2f399" stroke-opacity="0.25" stroke-width="1.0"/>
<line x1="176.40" y1="518.09" x2="161.40" y2="518.09" stroke="#fcfeba" stroke-opacity="0.25" stroke-width="1.0"/>
<line x1="176.40" y1="518.09" x2="161.40" y2="518.09" stroke="#f0f9a7" stroke-opacity="0.25" stroke-width="1.0"/>
<line x1="176.40" y1="520.02" x2="161.40" y2="520.02" stroke="#a9dca4" stroke-opacity="0.25" stroke-width="1.0"/>
<line x1="176.40" y1="520.02" x2="161.40" y2="520.02" stroke="#daf09a" stroke-opacity="0.25" stroke-width="1.0"/>
<line x1="176.40" y1="520.02" x2="161.40" y2="520.02" stroke="#aadda4" stroke-opacity="0.25" stroke-width="1.0"/>
<line x1="176.40" y1="522.58" x2="146.40" y2="522.58" stroke="#93d4a4" stroke-opacity="0.25" stroke-width="1.0"/>
<line x1="176.40" y1="522.58" x2="161.40" y2="522.58" stroke="#94d4a4" stroke-opacity="0.25" stroke-width="1.0"/>
<line x1="176.40" y1="522.58" x2="161.40" y2="522.58" stroke="#f0f9a8" stroke-opacity="0.25" stroke-width="1.0"/>
<line x1="176.40" y1="522.58" x2="161.40" y2="522.58" stroke="#eef8a5" stroke-opacity="0.25" stroke-width="1.0"/>
<line x1="176.40" y1="525.07" x2="146.40" y2="525.07" stroke="#66c2a5" stroke-opacity="0.25" stroke-width="1.0"/>
<line x1="176.40" y1="525.07" x2="161.40" y2="525.07" stroke="#93d3a4" stroke-opacity="0.25" stroke-width="1.0"/>
<line x1="176.40" y1="525.07" x2="161.40" y2="525.07" stroke="#62bda7" stroke-opacity="0.25" stroke-width="1.0"/>
<line x1="176.40" y1="525.07" x2="161.40" y2="525.07" stroke="#ccea9d" stroke-opacity="0.25" stroke-width="1.0"/>
<line x1="176.40" y1="527.30" x2="161.40" y2="527.30" stroke="#72c7a5" stroke-opacity="0.25" stroke-width="1.0"/>
<line x1="176.40" y1="527.30" x2="161.40" y2="527.30" stroke="#bee5a0" stroke-opacity="0.25" stroke-width="1.0"/>
<line x1="176.40" y1="527.30" x2="161.40" y2="527.30" stroke="#afdfa3" stroke-opacity="0.25" stroke-width="1.0"/>
<line x1="176.40" y1="529.71" x2="146.40" y2="529.71" stroke="#8dd1a4" stroke-opacity="0.25" stroke-width="1.0"/>
<line x1="176.40" y1="529.71" x2="161.40" y2="529.71" stroke="#99d6a4" stroke-opacity="0.25" stroke-width="1.0"/>
<line x1="176.40" y1="529.71" x2="161.40" y2="529.71" stroke="#4ea7b0" stroke-opacity="0.25" stroke-width="1.0"/>
<line x1="176.40" y1="529.71" x2="161.40" y2="529.71" stroke="#73c7a5" stroke-opacity="0.25" stroke-width="1.0"/>
</g>
<g id="frames">
<rect x="49.60" y="1.80" width="133.70" height="157.10" fill="none" stroke="#000" stroke-width="1.1"/>
<rect x="221.70" y="1.80" width="133.30" height="157.10" fill="none" stroke="#000" stroke-width="1.1"/>
<rect x="49.60" y="210.90" width="133.70" height="157.40" fill="none" stroke="#000" stroke-width="1.1"/>
<rect x="221.70" y="210.90" width="133.30" height="157.40" fill="none" stroke="#000" stroke-width="1.1"/>
<rect x="49.60" y="420.80" width="133.70" height="157.00" fill="none" stroke="#000" stroke-width="1.1"/>
<rect x="221.70" y="420.80" width="133.30" height="157.00" fill="none" stroke="#000" stroke-width="1.1"/>
</g>
<line x1="176.40" y1="1.80" x2="176.40" y2="5.80" stroke="#000" stroke-width="1"/>
<line x1="176.40" y1="158.90" x2="176.40" y2="154.90" stroke="#000" stroke-width="1"/>
<line x1="161.40" y1="1.80" x2="161.40" y2="5.80" stroke="#000" stroke-width="1"/>
<line x1="161.40" y1="158.90" x2="161.40" y2="154.90" stroke="#000" stroke-width="1"/>
<line x1="146.40" y1="1.80" x2="146.40" y2="5.80" stroke="#000" stroke-width="1"/>
<line x1="146.40" y1="158.90" x2="146.40" y2="154.90" stroke="#000" stroke-width="1"/>
<line x1="131.40" y1="1.80" x2="131.40" y2="5.80" stroke="#000" stroke-width="1"/>
<line x1="131.40" y1="158.90" x2="131.40" y2="154.90" stroke="#000" stroke-width="1"/>
<line x1="116.40" y1="1.80" x2="116.40" y2="5.80" stroke="#000" stroke-width="1"/>
<line x1="116.40" y1="158.90" x2="116.40" y2="154.90" stroke="#000" stroke-width="1"/>
<line x1="101.40" y1="1.80" x2="101.40" y2="5.80" stroke="#000" stroke-width="1"/>
<line x1="101.40" y1="158.90" x2="101.40" y2="154.90" stroke="#000" stroke-width="1"/>
<line x1="86.40" y1="1.80" x2="86.40" y2="5.80" stroke="#000" stroke-width="1"/>
<line x1="86.40" y1="158.90" x2="86.40" y2="154.90" stroke="#000" stroke-width="1"/>
<line x1="71.40" y1="1.80" x2="71.40" y2="5.80" stroke="#000" stroke-width="1"/>
<line x1="71.40" y1="158.90" x2="71.40" y2="154.90" stroke="#000" stroke-width="1"/>
<line x1="56.40" y1="1.80" x2="56.40" y2="5.80" stroke="#000" stroke-width="1"/>
<line x1="56.40" y1="158.90" x2="56.40" y2="154.90" stroke="#000" stroke-width="1"/>
<line x1="49.60" y1="149.90" x2="53.60" y2="149.90" stroke="#000" stroke-width="1"/>
<line x1="183.30" y1="149.90" x2="179.30" y2="149.90" stroke="#000" stroke-width="1"/>
<line x1="49.60" y1="135.96" x2="53.60" y2="135.96" stroke="#000" stroke-width="1"/>
<line x1="183.30" y1="135.96" x2="179.30" y2="135.96" stroke="#000" stroke-width="1"/>
<line x1="49.60" y1="127.81" x2="53.60" y2="127.81" stroke="#000" stroke-width="1"/>
<line x1="183.30" y1="127.81" x2="179.30" y2="127.81" stroke="#000" stroke-width="1"/>
<line x1="49.60" y1="122.02" x2="53.60" y2="122.02" stroke="#000" stroke-width="1"/>
<line x1="183.30" y1="122.02" x2="179.30" y2="122.02" stroke="#000" stroke-width="1"/>
<line x1="49.60" y1="117.54" x2="53.60" y2="117.54" stroke="#000" stroke-width="1"/>
<line x1="183.30" y1="117.54" x2="179.30" y2="117.54" stroke="#000" stroke-width="1"/>
<line x1="49.60" y1="113.87" x2="53.60" y2="113.87" stroke="#000" stroke-width="1"/>
<line x1="183.30" y1="113.87" x2="179.30" y2="113.87" stroke="#000" stroke-width="1"/>
<line x1="49.60" y1="110.77" x2="53.60" y2="110.77" stroke="#000" stroke-width="1"/>
<line x1="183.30" y1="110.77" x2="179.30" y2="110.77" stroke="#000" stroke-width="1"/>
<line x1="49.60" y1="108.09" x2="53.60" y2="108.09" stroke="#000" stroke-width="1"/>
<line x1="183.30" y1="108.09" x2="179.30" y2="108.09" stroke="#000" stroke-width="1"/>
<line x1="49.60" y1="105.72" x2="53.60" y2="105.72" stroke="#000" stroke-width="1"/>
<line x1="183.30" y1="105.72" x2="179.30" y2="105.72" stroke="#000" stroke-width="1"/>
<line x1="49.60" y1="103.60" x2="53.60" y2="103.60" stroke="#000" stroke-width="1"/>
<line x1="183.30" y1="103.60" x2="179.30" y2="103.60" stroke="#000" stroke-width="1"/>
<line x1="49.60" y1="89.66" x2="53.60" y2="89.66" stroke="#000" stroke-width="1"/>
<line x1="183.30" y1="89.66" x2="179.30" y2="89.66" stroke="#000" stroke-width="1"/>
<line x1="49.60" y1="81.51" x2="53.60" y2="81.51" stroke="#000" stroke-width="1"/>
<line x1="183.30" y1="81.51" x2="179.30" y2="81.51" stroke="#000" stroke-width="1"/>
<line x1="49.60" y1="75.72" x2="53.60" y2="75.72" stroke="#000" stroke-width="1"/>
<line x1="183.30" y1="75.72" x2="179.30" y2="75.72" stroke="#000" stroke-width="1"/>
<line x1="49.60" y1="71.24" x2="53.60" y2="71.24" stroke="#000" stroke-width="1"/>
<line x1="183.30" y1="71.24" x2="179.30" y2="71.24" stroke="#000" stroke-width="1"/>
<line x1="49.60" y1="67.57" x2="53.60" y2="67.57" stroke="#000" stroke-width="1"/>
<line x1="183.30" y1="67.57" x2="179.30" y2="67.57" stroke="#000" stroke-width="1"/>
<line x1="49.60" y1="64.47" x2="53.60" y2="64.47" stroke="#000" stroke-width="1"/>
<line x1="183.30" y1="64.47" x2="179.30" y2="64.47" stroke="#000" stroke-width="1"/>
<line x1="49.60" y1="61.79" x2="53.60" y2="61.79" stroke="#000" stroke-width="1"/>
<line x1="183.30" y1="61.79" x2="179.30" y2="61.79" stroke="#000" stroke-width="1"/>
<line x1="49.60" y1="59.42" x2="53.60" y2="59.42" stroke="#000" stroke-width="1"/>
<line x1="183.30" y1="59.42" x2="179.30" y2="59.42" stroke="#000" stroke-width="1"/>
<line x1="49.60" y1="57.30" x2="53.60" y2="57.30" stroke="#000" stroke-width="1"/>
<line x1="183.30" y1="57.30" x2="179.30" y2="57.30" stroke="#000" stroke-width="1"/>
<line x1="49.60" y1="43.36" x2="53.60" y2="43.36" stroke="#000" stroke-width="1"/>
<line x1="183.30" y1="43.36" x2="179.30" y2="43.36" stroke="#000" stroke-width="1"/>
<line x1="49.60" y1="35.21" x2="53.60" y2="35.21" stroke="#000" stroke-width="1"/>
<line x1="183.30" y1="35.21" x2="179.30" y2="35.21" stroke="#000" stroke-width="1"/>
<line x1="49.60" y1="29.42" x2="53.60" y2="29.42" stroke="#000" stroke-width="1"/>
<line x1="183.30" y1="29.42" x2="179.30" y2="29.42" stroke="#000" stroke-width="1"/>
<line x1="49.60" y1="24.94" x2="53.60" y2="24.94" stroke="#000" stroke-width="1"/>
<line x1="183.30" y1="24.94" x2="179.30" y2="24.94" stroke="#000" stroke-width="1"/>
<line x1="49.60" y1="21.27" x2="53.60" y2="21.27" stroke="#000" stroke-width="1"/>
<line x1="183.30" y1="21.27" x2="179.30" y2="21.27" stroke="#000" stroke-width="1"/>
<line x1="49.60" y1="18.17" x2="53.60" y2="18.17" stroke="#000" stroke-width="1"/>
<line x1="183.30" y1="18.17" x2="179.30" y2="18.17" stroke="#000" stroke-width="1"/>
<line x1="49.60" y1="15.49" x2="53.60" y2="15.49" stroke="#000" stroke-width="1"/>
<line x1="183.30" y1="15.49" x2="179.30" y2="15.49" stroke="#000" stroke-width="1"/>
<line x1="49.60" y1="13.12" x2="53.60" y2="13.12" stroke="#000" stroke-width="1"/>
<line x1="183.30" y1="13.12" x2="179.30" y2="13.12" stroke="#000" stroke-width="1"/>
<line x1="49.60" y1="11.00" x2="53.60" y2="11.00" stroke="#000" stroke-width="1"/>
<line x1="183.30" y1="11.00" x2="179.30" y2="11.00" stroke="#000" stroke-width="1"/>
<line x1="229.60" y1="1.80" x2="229.60" y2="5.80" stroke="#000" stroke-width="1"/>
<line x1="229.60" y1="158.90" x2="229.60" y2="154.90" stroke="#000" stroke-width="1"/>
<line x1="258.95" y1="1.80" x2="258.95" y2="5.80" stroke="#000" stroke-width="1"/>
<line x1="258.95" y1="158.90" x2="258.95" y2="154.90" stroke="#000" stroke-width="1"/>
<line x1="288.30" y1="1.80" x2="288.30" y2="5.80" stroke="#000" stroke-width="1"/>
<line x1="288.30" y1="158.90" x2="288.30" y2="154.90" stroke="#000" stroke-width="1"/>
<line x1="317.65" y1="1.80" x2="317.65" y2="5.80" stroke="#000" stroke-width="1"/>
<line x1="317.65" y1="158.90" x2="317.65" y2="154.90" stroke="#000" stroke-width="1"/>
<line x1="347.00" y1="1.80" x2="347.00" y2="5.80" stroke="#000" stroke-width="1"/>
<line x1="347.00" y1="158.90" x2="347.00" y2="154.90" stroke="#000" stroke-width="1"/>
<line x1="221.70" y1="149.90" x2="225.70" y2="149.90" stroke="#000" stroke-width="1"/>
<line x1="355.00" y1="149.90" x2="351.00" y2="149.90" stroke="#000" stroke-width="1"/>
<line x1="221.70" y1="135.96" x2="225.70" y2="135.96" stroke="#000" stroke-width="1"/>
<line x1="355.00" y1="135.96" x2="351.00" y2="135.96" stroke="#000" stroke-width="1"/>
<line x1="221.70" y1="127.81" x2="225.70" y2="127.81" stroke="#000" stroke-width="1"/>
<line x1="355.00" y1="127.81" x2="351.00" y2="127.81" stroke="#000" stroke-width="1"/>
<line x1="221.70" y1="122.02" x2="225.70" y2="122.02" stroke="#000" stroke-width="1"/>
<line x1="355.00" y1="122.02" x2="351.00" y2="122.02" stroke="#000" stroke-width="1"/>
<line x1="221.70" y1="117.54" x2="225.70" y2="117.54" stroke="#000" stroke-width="1"/>
<line x1="355.00" y1="117.54" x2="351.00" y2="117.54" stroke="#000" stroke-width="1"/>
<line x1="221.70" y1="113.87" x2="225.70" y2="113.87" stroke="#000" stroke-width="1"/>
<line x1="355.00" y1="113.87" x2="351.00" y2="113.87" stroke="#000" stroke-width="1"/>
<line x1="221.70" y1="110.77" x2="225.70" y2="110.77" stroke="#000" stroke-width="1"/>
<line x1="355.00" y1="110.77" x2="351.00" y2="110.77" stroke="#000" stroke-width="1"/>
<line x1="221.70" y1="108.09" x2="225.70" y2="108.09" stroke="#000" stroke-width="1"/>
<line x1="355.00" y1="108.09" x2="351.00" y2="108.09" stroke="#000" stroke-width="1"/>
<line x1="221.70" y1="105.72" x2="225.70" y2="105.72" stroke="#000" stroke-width="1"/>
<line x1="355.00" y1="105.72" x2="351.00" y2="105.72" stroke="#000" stroke-width="1"/>
<line x1="221.70" y1="103.60" x2="225.70" y2="103.60" stroke="#000" stroke-width="1"/>
<line x1="355.00" y1="103.60" x2="351.00" y2="103.60" stroke="#000" stroke-width="1"/>
<line x1="221.70" y1="89.66" x2="225.70" y2="89.66" stroke="#000" stroke-width="1"/>
<line x1="355.00" y1="89.66" x2="351.00" y2="89.66" stroke="#000" stroke-width="1"/>
<line x1="221.70" y1="81.51" x2="225.70" y2="81.51" stroke="#000" stroke-width="1"/>
<line x1="355.00" y1="81.51" x2="351.00" y2="81.51" stroke="#000" stroke-width="1"/>
<line x1="221.70" y1="75.72" x2="225.70" y2="75.72" stroke="#000" stroke-width="1"/>
<line x1="355.00" y1="75.72" x2="351.00" y2="75.72" stroke="#000" stroke-width="1"/>
<line x1="221.70" y1="71.24" x2="225.70" y2="71.24" stroke="#000" stroke-width="1"/>
<line x1="355.00" y1="71.24" x2="351.00" y2="71.24" stroke="#000" stroke-width="1"/>
<line x1="221.70" y1="67.57" x2="225.70" y2="67.57" stroke="#000" stroke-width="1"/>
<line x1="355.00" y1="67.57" x2="351.00" y2="67.57" stroke="#000" stroke-width="1"/>
<line x1="221.70" y1="64.47" x2="225.70" y2="64.47" stroke="#000" stroke-width="1"/>
<line x1="355.00" y1="64.47" x2="351.00" y2="64.47" stroke="#000" stroke-width="1"/>
<line x1="221.70" y1="61.79" x2="225.70" y2="61.79" stroke="#000" stroke-width="1"/>
<line x1="355.00" y1="61.79" x2="351.00" y2="61.79" stroke="#000" stroke-width="1"/>
<line x1="221.70" y1="59.42" x2="225.70" y2="59.42" stroke="#000" stroke-width="1"/>
<line x1="355.00" y1="59.42" x2="351.00" y2="59.42" stroke="#000" stroke-width="1"/>
<line x1="221.70" y1="57.30" x2="225.70" y2="57.30" stroke="#000" stroke-width="1"/>
<line x1="355.00" y1="57.30" x2="351.00" y2="57.30" stroke="#000" stroke-width="1"/>
<line x1="221.70" y1="43.36" x2="225.70" y2="43.36" stroke="#000" stroke-width="1"/>
<line x1="355.00" y1="43.36" x2="351.00" y2="43.36" stroke="#000" stroke-width="1"/>
<line x1="221.70" y1="35.21" x2="225.70" y2="35.21" stroke="#000" stroke-width="1"/>
<line x1="355.00" y1="35.21" x2="351.00" y2="35.21" stroke="#000" stroke-width="1"/>
<line x1="221.70" y1="29.42" x2="225.70" y2="29.42" stroke="#000" stroke-width="1"/>
<line x1="355.00" y1="29.42" x2="351.00" y2="29.42" stroke="#000" stroke-width="1"/>
<line x1="221.70" y1="24.94" x2="225.70" y2="24.94" stroke="#000" stroke-width="1"/>
<line x1="355.00" y1="24.94" x2="351.00" y2="24.94" stroke="#000" stroke-width="1"/>
<line x1="221.70" y1="21.27" x2="225.70" y2="21.27" stroke="#000" stroke-width="1"/>
<line x1="355.00" y1="21.27" x2="351.00" y2="21.27" stroke="#000" stroke-width="1"/>
<line x1="221.70" y1="18.17" x2="225.70" y2="18.17" stroke="#000" stroke-width="1"/>
<line x1="355.00" y1="18.17" x2="351.00" y2="18.17" stroke="#000" stroke-width="1"/>
<line x1="221.70" y1="15.49" x2="225.70" y2="15.49" stroke="#000" stroke-width="1"/>
<line x1="355.00" y1="15.49" x2="351.00" y2="15.49" stroke="#000" stroke-width="1"/>
<line x1="221.70" y1="13.12" x2="225.70" y2="13.12" stroke="#000" stroke-width="1"/>
<line x1="355.00" y1="13.12" x2="351.00" y2="13.12" stroke="#000" stroke-width="1"/>
<line x1="221.70" y1="11.00" x2="225.70" y2="11.00" stroke="#000" stroke-width="1"/>
<line x1="355.00" y1="11.00" x2="351.00" y2="11.00" stroke="#000" stroke-width="1"/>
<text x="56.40" y="174.00" font-size="13.3" text-anchor="middle" font-weight="normal">8</text>
<text x="86.40" y="174.00" font-size="13.3" text-anchor="middle" font-weight="normal">6</text>
<text x="116.40" y="174.00" font-size="13.3" text-anchor="middle" font-weight="normal">4</text>
<text x="146.40" y="174.00" font-size="13.3" text-anchor="middle" font-weight="normal">2</text>
<text x="176.40" y="174.00" font-size="13.3" text-anchor="middle" font-weight="normal">0</text>
<text x="114.80" y="191.40" font-size="13.3" text-anchor="middle" font-weight="normal">Number of Scenarios</text>
<text x="229.60" y="174.00" font-size="13.3" text-anchor="middle" font-weight="normal">0.0</text>
<text x="258.95" y="174.00" font-size="13.3" text-anchor="middle" font-weight="normal">0.5</text>
<text x="288.30" y="174.00" font-size="13.3" text-anchor="middle" font-weight="normal">1.0</text>
<text x="317.65" y="174.00" font-size="13.3" text-anchor="middle" font-weight="normal">1.5</text>
<text x="347.00" y="174.00" font-size="13.3" text-anchor="middle" font-weight="normal">2.0</text>
<text x="288.50" y="191.20" font-size="13.3" text-anchor="middle" font-weight="normal">Density</text>
<text x="201.80" y="16.00" font-size="13.3" text-anchor="middle" font-weight="normal">10</text>
<text x="201.80" y="62.30" font-size="13.3" text-anchor="middle" font-weight="normal">1</text>
<text x="201.80" y="108.60" font-size="13.3" text-anchor="middle" font-weight="normal">0.1</text>
<text x="201.80" y="154.90" font-size="13.3" text-anchor="middle" font-weight="normal">0.01</text>
<text x="62.30" y="24.10" font-size="22" text-anchor="middle" font-weight="bold">a</text>
<text x="11.20" y="82.40" font-size="13.3" text-anchor="middle" font-weight="normal" transform="rotate(-90 11.20 82.40)">Climate Action Cost</text>
<text x="27.00" y="81.20" font-size="13.3" text-anchor="middle" font-weight="normal" transform="rotate(-90 27.00 81.20)">(Trillion USD)</text>
<line x1="177.30" y1="210.90" x2="177.30" y2="214.90" stroke="#000" stroke-width="1"/>
<line x1="177.30" y1="368.30" x2="177.30" y2="364.30" stroke="#000" stroke-width="1"/>
<line x1="167.20" y1="210.90" x2="167.20" y2="214.90" stroke="#000" stroke-width="1"/>
<line x1="167.20" y1="368.30" x2="167.20" y2="364.30" stroke="#000" stroke-width="1"/>
<line x1="157.10" y1="210.90" x2="157.10" y2="214.90" stroke="#000" stroke-width="1"/>
<line x1="157.10" y1="368.30" x2="157.10" y2="364.30" stroke="#000" stroke-width="1"/>
<line x1="147.00" y1="210.90" x2="147.00" y2="214.90" stroke="#000" stroke-width="1"/>
<line x1="147.00" y1="368.30" x2="147.00" y2="364.30" stroke="#000" stroke-width="1"/>
<line x1="136.90" y1="210.90" x2="136.90" y2="214.90" stroke="#000" stroke-width="1"/>
<line x1="136.90" y1="368.30" x2="136.90" y2="364.30" stroke="#000" stroke-width="1"/>
<line x1="126.80" y1="210.90" x2="126.80" y2="214.90" stroke="#000" stroke-width="1"/>
<line x1="126.80" y1="368.30" x2="126.80" y2="364.30" stroke="#000" stroke-width="1"/>
<line x1="116.70" y1="210.90" x2="116.70" y2="214.90" stroke="#000" stroke-width="1"/>
<line x1="116.70" y1="368.30" x2="116.70" y2="364.30" stroke="#000" stroke-width="1"/>
<line x1="106.60" y1="210.90" x2="106.60" y2="214.90" stroke="#000" stroke-width="1"/>
<line x1="106.60" y1="368.30" x2="106.60" y2="364.30" stroke="#000" stroke-width="1"/>
<line x1="96.50" y1="210.90" x2="96.50" y2="214.90" stroke="#000" stroke-width="1"/>
<line x1="96.50" y1="368.30" x2="96.50" y2="364.30" stroke="#000" stroke-width="1"/>
<line x1="86.40" y1="210.90" x2="86.40" y2="214.90" stroke="#000" stroke-width="1"/>
<line x1="86.40" y1="368.30" x2="86.40" y2="364.30" stroke="#000" stroke-width="1"/>
<line x1="76.30" y1="210.90" x2="76.30" y2="214.90" stroke="#000" stroke-width="1"/>
<line x1="76.30" y1="368.30" x2="76.30" y2="364.30" stroke="#000" stroke-width="1"/>
<line x1="66.20" y1="210.90" x2="66.20" y2="214.90" stroke="#000" stroke-width="1"/>
<line x1="66.20" y1="368.30" x2="66.20" y2="364.30" stroke="#000" stroke-width="1"/>
<line x1="56.10" y1="210.90" x2="56.10" y2="214.90" stroke="#000" stroke-width="1"/>
<line x1="56.10" y1="368.30" x2="56.10" y2="364.30" stroke="#000" stroke-width="1"/>
<line x1="49.60" y1="359.50" x2="53.60" y2="359.50" stroke="#000" stroke-width="1"/>
<line x1="183.30" y1="359.50" x2="179.30" y2="359.50" stroke="#000" stroke-width="1"/>
<line x1="49.60" y1="342.07" x2="53.60" y2="342.07" stroke="#000" stroke-width="1"/>
<line x1="183.30" y1="342.07" x2="179.30" y2="342.07" stroke="#000" stroke-width="1"/>
<line x1="49.60" y1="324.65" x2="53.60" y2="324.65" stroke="#000" stroke-width="1"/>
<line x1="183.30" y1="324.65" x2="179.30" y2="324.65" stroke="#000" stroke-width="1"/>
<line x1="49.60" y1="307.23" x2="53.60" y2="307.23" stroke="#000" stroke-width="1"/>
<line x1="183.30" y1="307.23" x2="179.30" y2="307.23" stroke="#000" stroke-width="1"/>
<line x1="49.60" y1="289.80" x2="53.60" y2="289.80" stroke="#000" stroke-width="1"/>
<line x1="183.30" y1="289.80" x2="179.30" y2="289.80" stroke="#000" stroke-width="1"/>
<line x1="49.60" y1="272.38" x2="53.60" y2="272.38" stroke="#000" stroke-width="1"/>
<line x1="183.30" y1="272.38" x2="179.30" y2="272.38" stroke="#000" stroke-width="1"/>
<line x1="49.60" y1="254.95" x2="53.60" y2="254.95" stroke="#000" stroke-width="1"/>
<line x1="183.30" y1="254.95" x2="179.30" y2="254.95" stroke="#000" stroke-width="1"/>
<line x1="49.60" y1="237.52" x2="53.60" y2="237.52" stroke="#000" stroke-width="1"/>
<line x1="183.30" y1="237.52" x2="179.30" y2="237.52" stroke="#000" stroke-width="1"/>
<line x1="49.60" y1="220.10" x2="53.60" y2="220.10" stroke="#000" stroke-width="1"/>
<line x1="183.30" y1="220.10" x2="179.30" y2="220.10" stroke="#000" stroke-width="1"/>
<line x1="230.30" y1="210.90" x2="230.30" y2="214.90" stroke="#000" stroke-width="1"/>
<line x1="230.30" y1="368.30" x2="230.30" y2="364.30" stroke="#000" stroke-width="1"/>
<line x1="259.35" y1="210.90" x2="259.35" y2="214.90" stroke="#000" stroke-width="1"/>
<line x1="259.35" y1="368.30" x2="259.35" y2="364.30" stroke="#000" stroke-width="1"/>
<line x1="288.40" y1="210.90" x2="288.40" y2="214.90" stroke="#000" stroke-width="1"/>
<line x1="288.40" y1="368.30" x2="288.40" y2="364.30" stroke="#000" stroke-width="1"/>
<line x1="317.45" y1="210.90" x2="317.45" y2="214.90" stroke="#000" stroke-width="1"/>
<line x1="317.45" y1="368.30" x2="317.45" y2="364.30" stroke="#000" stroke-width="1"/>
<line x1="346.50" y1="210.90" x2="346.50" y2="214.90" stroke="#000" stroke-width="1"/>
<line x1="346.50" y1="368.30" x2="346.50" y2="364.30" stroke="#000" stroke-width="1"/>
<line x1="221.70" y1="359.50" x2="225.70" y2="359.50" stroke="#000" stroke-width="1"/>
<line x1="355.00" y1="359.50" x2="351.00" y2="359.50" stroke="#000" stroke-width="1"/>
<line x1="221.70" y1="342.07" x2="225.70" y2="342.07" stroke="#000" stroke-width="1"/>
<line x1="355.00" y1="342.07" x2="351.00" y2="342.07" stroke="#000" stroke-width="1"/>
<line x1="221.70" y1="324.65" x2="225.70" y2="324.65" stroke="#000" stroke-width="1"/>
<line x1="355.00" y1="324.65" x2="351.00" y2="324.65" stroke="#000" stroke-width="1"/>
<line x1="221.70" y1="307.23" x2="225.70" y2="307.23" stroke="#000" stroke-width="1"/>
<line x1="355.00" y1="307.23" x2="351.00" y2="307.23" stroke="#000" stroke-width="1"/>
<line x1="221.70" y1="289.80" x2="225.70" y2="289.80" stroke="#000" stroke-width="1"/>
<line x1="355.00" y1="289.80" x2="351.00" y2="289.80" stroke="#000" stroke-width="1"/>
<line x1="221.70" y1="272.38" x2="225.70" y2="272.38" stroke="#000" stroke-width="1"/>
<line x1="355.00" y1="272.38" x2="351.00" y2="272.38" stroke="#000" stroke-width="1"/>
<line x1="221.70" y1="254.95" x2="225.70" y2="254.95" stroke="#000" stroke-width="1"/>
<line x1="355.00" y1="254.95" x2="351.00" y2="254.95" stroke="#000" stroke-width="1"/>
<line x1="221.70" y1="237.52" x2="225.70" y2="237.52" stroke="#000" stroke-width="1"/>
<line x1="355.00" y1="237.52" x2="351.00" y2="237.52" stroke="#000" stroke-width="1"/>
<line x1="221.70" y1="220.10" x2="225.70" y2="220.10" stroke="#000" stroke-width="1"/>
<line x1="355.00" y1="220.10" x2="351.00" y2="220.10" stroke="#000" stroke-width="1"/>
<text x="56.10" y="383.20" font-size="13.3" text-anchor="middle" font-weight="normal">12</text>
<text x="76.30" y="383.20" font-size="13.3" text-anchor="middle" font-weight="normal">10</text>
<text x="96.50" y="383.20" font-size="13.3" text-anchor="middle" font-weight="normal">8</text>
<text x="116.70" y="383.20" font-size="13.3" text-anchor="middle" font-weight="normal">6</text>
<text x="136.90" y="383.20" font-size="13.3" text-anchor="middle" font-weight="normal">4</text>
<text x="157.10" y="383.20" font-size="13.3" text-anchor="middle" font-weight="normal">2</text>
<text x="177.30" y="383.20" font-size="13.3" text-anchor="middle" font-weight="normal">0</text>
<text x="114.80" y="400.90" font-size="13.3" text-anchor="middle" font-weight="normal">Number of Scenarios</text>
<text x="230.30" y="383.20" font-size="13.3" text-anchor="middle" font-weight="normal">0.0</text>
<text x="259.35" y="383.20" font-size="13.3" text-anchor="middle" font-weight="normal">0.5</text>
<text x="288.40" y="383.20" font-size="13.3" text-anchor="middle" font-weight="normal">1.0</text>
<text x="317.45" y="383.20" font-size="13.3" text-anchor="middle" font-weight="normal">1.5</text>
<text x="346.50" y="383.20" font-size="13.3" text-anchor="middle" font-weight="normal">2.0</text>
<text x="288.50" y="400.70" font-size="13.3" text-anchor="middle" font-weight="normal">Density</text>
<text x="201.30" y="364.50" font-size="13.3" text-anchor="middle" font-weight="normal">0</text>
<text x="201.30" y="329.65" font-size="13.3" text-anchor="middle" font-weight="normal">1</text>
<text x="201.30" y="294.80" font-size="13.3" text-anchor="middle" font-weight="normal">2</text>
<text x="201.30" y="259.95" font-size="13.3" text-anchor="middle" font-weight="normal">3</text>
<text x="201.30" y="225.10" font-size="13.3" text-anchor="middle" font-weight="normal">4</text>
<text x="63.30" y="233.10" font-size="22" text-anchor="middle" font-weight="bold">b</text>
<text x="11.30" y="289.60" font-size="13.3" text-anchor="middle" font-weight="normal" transform="rotate(-90 11.30 289.60)">Retired Generation</text>
<text x="26.90" y="290.00" font-size="12.8" text-anchor="middle" font-weight="normal" transform="rotate(-90 26.90 290.00)">(1000 TWh)</text>
<line x1="176.40" y1="420.80" x2="176.40" y2="424.80" stroke="#000" stroke-width="1"/>
<line x1="176.40" y1="577.80" x2="176.40" y2="573.80" stroke="#000" stroke-width="1"/>
<line x1="161.40" y1="420.80" x2="161.40" y2="424.80" stroke="#000" stroke-width="1"/>
<line x1="161.40" y1="577.80" x2="161.40" y2="573.80" stroke="#000" stroke-width="1"/>
<line x1="146.40" y1="420.80" x2="146.40" y2="424.80" stroke="#000" stroke-width="1"/>
<line x1="146.40" y1="577.80" x2="146.40" y2="573.80" stroke="#000" stroke-width="1"/>
<line x1="131.40" y1="420.80" x2="131.40" y2="424.80" stroke="#000" stroke-width="1"/>
<line x1="131.40" y1="577.80" x2="131.40" y2="573.80" stroke="#000" stroke-width="1"/>
<line x1="116.40" y1="420.80" x2="116.40" y2="424.80" stroke="#000" stroke-width="1"/>
<line x1="116.40" y1="577.80" x2="116.40" y2="573.80" stroke="#000" stroke-width="1"/>
<line x1="101.40" y1="420.80" x2="101.40" y2="424.80" stroke="#000" stroke-width="1"/>
<line x1="101.40" y1="577.80" x2="101.40" y2="573.80" stroke="#000" stroke-width="1"/>
<line x1="86.40" y1="420.80" x2="86.40" y2="424.80" stroke="#000" stroke-width="1"/>
<line x1="86.40" y1="577.80" x2="86.40" y2="573.80" stroke="#000" stroke-width="1"/>
<line x1="71.40" y1="420.80" x2="71.40" y2="424.80" stroke="#000" stroke-width="1"/>
<line x1="71.40" y1="577.80" x2="71.40" y2="573.80" stroke="#000" stroke-width="1"/>
<line x1="56.40" y1="420.80" x2="56.40" y2="424.80" stroke="#000" stroke-width="1"/>
<line x1="56.40" y1="577.80" x2="56.40" y2="573.80" stroke="#000" stroke-width="1"/>
<line x1="49.60" y1="569.70" x2="53.60" y2="569.70" stroke="#000" stroke-width="1"/>
<line x1="183.30" y1="569.70" x2="179.30" y2="569.70" stroke="#000" stroke-width="1"/>
<line x1="49.60" y1="557.94" x2="53.60" y2="557.94" stroke="#000" stroke-width="1"/>
<line x1="183.30" y1="557.94" x2="179.30" y2="557.94" stroke="#000" stroke-width="1"/>
<line x1="49.60" y1="546.18" x2="53.60" y2="546.18" stroke="#000" stroke-width="1"/>
<line x1="183.30" y1="546.18" x2="179.30" y2="546.18" stroke="#000" stroke-width="1"/>
<line x1="49.60" y1="534.42" x2="53.60" y2="534.42" stroke="#000" stroke-width="1"/>
<line x1="183.30" y1="534.42" x2="179.30" y2="534.42" stroke="#000" stroke-width="1"/>
<line x1="49.60" y1="522.66" x2="53.60" y2="522.66" stroke="#000" stroke-width="1"/>
<line x1="183.30" y1="522.66" x2="179.30" y2="522.66" stroke="#000" stroke-width="1"/>
<line x1="49.60" y1="510.90" x2="53.60" y2="510.90" stroke="#000" stroke-width="1"/>
<line x1="183.30" y1="510.90" x2="179.30" y2="510.90" stroke="#000" stroke-width="1"/>
<line x1="49.60" y1="499.14" x2="53.60" y2="499.14" stroke="#000" stroke-width="1"/>
<line x1="183.30" y1="499.14" x2="179.30" y2="499.14" stroke="#000" stroke-width="1"/>
<line x1="49.60" y1="487.38" x2="53.60" y2="487.38" stroke="#000" stroke-width="1"/>
<line x1="183.30" y1="487.38" x2="179.30" y2="487.38" stroke="#000" stroke-width="1"/>
<line x1="49.60" y1="475.62" x2="53.60" y2="475.62" stroke="#000" stroke-width="1"/>
<line x1="183.30" y1="475.62" x2="179.30" y2="475.62" stroke="#000" stroke-width="1"/>
<line x1="49.60" y1="463.86" x2="53.60" y2="463.86" stroke="#000" stroke-width="1"/>
<line x1="183.30" y1="463.86" x2="179.30" y2="463.86" stroke="#000" stroke-width="1"/>
<line x1="49.60" y1="452.10" x2="53.60" y2="452.10" stroke="#000" stroke-width="1"/>
<line x1="183.30" y1="452.10" x2="179.30" y2="452.10" stroke="#000" stroke-width="1"/>
<line x1="49.60" y1="440.34" x2="53.60" y2="440.34" stroke="#000" stroke-width="1"/>
<line x1="183.30" y1="440.34" x2="179.30" y2="440.34" stroke="#000" stroke-width="1"/>
<line x1="49.60" y1="428.58" x2="53.60" y2="428.58" stroke="#000" stroke-width="1"/>
<line x1="183.30" y1="428.58" x2="179.30" y2="428.58" stroke="#000" stroke-width="1"/>
<line x1="232.80" y1="420.80" x2="232.80" y2="424.80" stroke="#000" stroke-width="1"/>
<line x1="232.80" y1="577.80" x2="232.80" y2="573.80" stroke="#000" stroke-width="1"/>
<line x1="260.65" y1="420.80" x2="260.65" y2="424.80" stroke="#000" stroke-width="1"/>
<line x1="260.65" y1="577.80" x2="260.65" y2="573.80" stroke="#000" stroke-width="1"/>
<line x1="288.50" y1="420.80" x2="288.50" y2="424.80" stroke="#000" stroke-width="1"/>
<line x1="288.50" y1="577.80" x2="288.50" y2="573.80" stroke="#000" stroke-width="1"/>
<line x1="316.35" y1="420.80" x2="316.35" y2="424.80" stroke="#000" stroke-width="1"/>
<line x1="316.35" y1="577.80" x2="316.35" y2="573.80" stroke="#000" stroke-width="1"/>
<line x1="344.20" y1="420.80" x2="344.20" y2="424.80" stroke="#000" stroke-width="1"/>
<line x1="344.20" y1="577.80" x2="344.20" y2="573.80" stroke="#000" stroke-width="1"/>
<line x1="221.70" y1="569.70" x2="225.70" y2="569.70" stroke="#000" stroke-width="1"/>
<line x1="355.00" y1="569.70" x2="351.00" y2="569.70" stroke="#000" stroke-width="1"/>
<line x1="221.70" y1="557.94" x2="225.70" y2="557.94" stroke="#000" stroke-width="1"/>
<line x1="355.00" y1="557.94" x2="351.00" y2="557.94" stroke="#000" stroke-width="1"/>
<line x1="221.70" y1="546.18" x2="225.70" y2="546.18" stroke="#000" stroke-width="1"/>
<line x1="355.00" y1="546.18" x2="351.00" y2="546.18" stroke="#000" stroke-width="1"/>
<line x1="221.70" y1="534.42" x2="225.70" y2="534.42" stroke="#000" stroke-width="1"/>
<line x1="355.00" y1="534.42" x2="351.00" y2="534.42" stroke="#000" stroke-width="1"/>
<line x1="221.70" y1="522.66" x2="225.70" y2="522.66" stroke="#000" stroke-width="1"/>
<line x1="355.00" y1="522.66" x2="351.00" y2="522.66" stroke="#000" stroke-width="1"/>
<line x1="221.70" y1="510.90" x2="225.70" y2="510.90" stroke="#000" stroke-width="1"/>
<line x1="355.00" y1="510.90" x2="351.00" y2="510.90" stroke="#000" stroke-width="1"/>
<line x1="221.70" y1="499.14" x2="225.70" y2="499.14" stroke="#000" stroke-width="1"/>
<line x1="355.00" y1="499.14" x2="351.00" y2="499.14" stroke="#000" stroke-width="1"/>
<line x1="221.70" y1="487.38" x2="225.70" y2="487.38" stroke="#000" stroke-width="1"/>
<line x1="355.00" y1="487.38" x2="351.00" y2="487.38" stroke="#000" stroke-width="1"/>
<line x1="221.70" y1="475.62" x2="225.70" y2="475.62" stroke="#000" stroke-width="1"/>
<line x1="355.00" y1="475.62" x2="351.00" y2="475.62" stroke="#000" stroke-width="1"/>
<line x1="221.70" y1="463.86" x2="225.70" y2="463.86" stroke="#000" stroke-width="1"/>
<line x1="355.00" y1="463.86" x2="351.00" y2="463.86" stroke="#000" stroke-width="1"/>
<line x1="221.70" y1="452.10" x2="225.70" y2="452.10" stroke="#000" stroke-width="1"/>
<line x1="355.00" y1="452.10" x2="351.00" y2="452.10" stroke="#000" stroke-width="1"/>
<line x1="221.70" y1="440.34" x2="225.70" y2="440.34" stroke="#000" stroke-width="1"/>
<line x1="355.00" y1="440.34" x2="351.00" y2="440.34" stroke="#000" stroke-width="1"/>
<line x1="221.70" y1="428.58" x2="225.70" y2="428.58" stroke="#000" stroke-width="1"/>
<line x1="355.00" y1="428.58" x2="351.00" y2="428.58" stroke="#000" stroke-width="1"/>
<text x="56.40" y="592.30" font-size="13.3" text-anchor="middle" font-weight="normal">8</text>
<text x="86.40" y="592.30" font-size="13.3" text-anchor="middle" font-weight="normal">6</text>
<text x="116.40" y="592.30" font-size="13.3" text-anchor="middle" font-weight="normal">4</text>
<text x="146.40" y="592.30" font-size="13.3" text-anchor="middle" font-weight="normal">2</text>
<text x="176.40" y="592.30" font-size="13.3" text-anchor="middle" font-weight="normal">0</text>
<text x="114.80" y="610.30" font-size="13.3" text-anchor="middle" font-weight="normal">Number of Scenarios</text>
<text x="232.80" y="592.30" font-size="13.3" text-anchor="middle" font-weight="normal">0.0</text>
<text x="260.65" y="592.30" font-size="13.3" text-anchor="middle" font-weight="normal">0.25</text>
<text x="288.50" y="592.30" font-size="13.3" text-anchor="middle" font-weight="normal">0.5</text>
<text x="316.35" y="592.30" font-size="13.3" text-anchor="middle" font-weight="normal">0.75</text>
<text x="344.20" y="592.30" font-size="13.3" text-anchor="middle" font-weight="normal">1.0</text>
<text x="288.50" y="610.10" font-size="13.3" text-anchor="middle" font-weight="normal">Density</text>
<text x="201.60" y="574.70" font-size="13.3" text-anchor="middle" font-weight="normal">2</text>
<text x="201.60" y="551.18" font-size="13.3" text-anchor="middle" font-weight="normal">3</text>
<text x="201.60" y="527.66" font-size="13.3" text-anchor="middle" font-weight="normal">4</text>
<text x="201.60" y="504.14" font-size="13.3" text-anchor="middle" font-weight="normal">5</text>
<text x="201.60" y="480.62" font-size="13.3" text-anchor="middle" font-weight="normal">6</text>
<text x="201.60" y="457.10" font-size="13.3" text-anchor="middle" font-weight="normal">7</text>
<text x="201.60" y="433.58" font-size="13.3" text-anchor="middle" font-weight="normal">8</text>
<text x="63.30" y="443.00" font-size="22" text-anchor="middle" font-weight="bold">c</text>
<text x="11.00" y="499.60" font-size="13.3" text-anchor="middle" font-weight="normal" transform="rotate(-90 11.00 499.60)">New Generation Added</text>
<text x="26.90" y="499.50" font-size="12.8" text-anchor="middle" font-weight="normal" transform="rotate(-90 26.90 499.50)">(1000 TWh)</text>
<rect x="50.00" y="634.10" width="305.00" height="77.60" fill="none" stroke="#000" stroke-width="1.1"/>
<text x="202.60" y="651.80" font-size="13.3" text-anchor="middle" font-weight="normal">Climate Action Year</text>
<defs><linearGradient id="cb" x1="0" x2="1" y1="0" y2="0"><stop offset="0.0000" stop-color="#3288bd"/><stop offset="0.1250" stop-color="#66c2a5"/><stop offset="0.2500" stop-color="#abdda4"/><stop offset="0.3750" stop-color="#e6f598"/><stop offset="0.5000" stop-color="#ffffbf"/><stop offset="0.6250" stop-color="#fee08b"/><stop offset="0.7500" stop-color="#fdae61"/><stop offset="0.8750" stop-color="#f46d43"/><stop offset="1.0000" stop-color="#d53e4f"/></linearGradient></defs>
<rect x="123.1" y="664.2" width="158.70" height="22.3" fill="url(#cb)" stroke="#000" stroke-width="1.1"/>
<line x1="127.00" y1="664.20" x2="127.00" y2="667.40" stroke="#000" stroke-width="1"/>
<line x1="127.00" y1="686.50" x2="127.00" y2="683.30" stroke="#000" stroke-width="1"/>
<text x="127.00" y="703.50" font-size="13.3" text-anchor="middle" font-weight="normal">2015</text>
<line x1="164.75" y1="664.20" x2="164.75" y2="667.40" stroke="#000" stroke-width="1"/>
<line x1="164.75" y1="686.50" x2="164.75" y2="683.30" stroke="#000" stroke-width="1"/>
<text x="164.75" y="703.50" font-size="13.3" text-anchor="middle" font-weight="normal">2020</text>
<line x1="202.50" y1="664.20" x2="202.50" y2="667.40" stroke="#000" stroke-width="1"/>
<line x1="202.50" y1="686.50" x2="202.50" y2="683.30" stroke="#000" stroke-width="1"/>
<text x="202.50" y="703.50" font-size="13.3" text-anchor="middle" font-weight="normal">2025</text>
<line x1="240.25" y1="664.20" x2="240.25" y2="667.40" stroke="#000" stroke-width="1"/>
<line x1="240.25" y1="686.50" x2="240.25" y2="683.30" stroke="#000" stroke-width="1"/>
<text x="240.25" y="703.50" font-size="13.3" text-anchor="middle" font-weight="normal">2030</text>
<line x1="278.00" y1="664.20" x2="278.00" y2="667.40" stroke="#000" stroke-width="1"/>
<line x1="278.00" y1="686.50" x2="278.00" y2="683.30" stroke="#000" stroke-width="1"/>
<text x="278.00" y="703.50" font-size="13.3" text-anchor="middle" font-weight="normal">2035</text>
</svg></body></html>
